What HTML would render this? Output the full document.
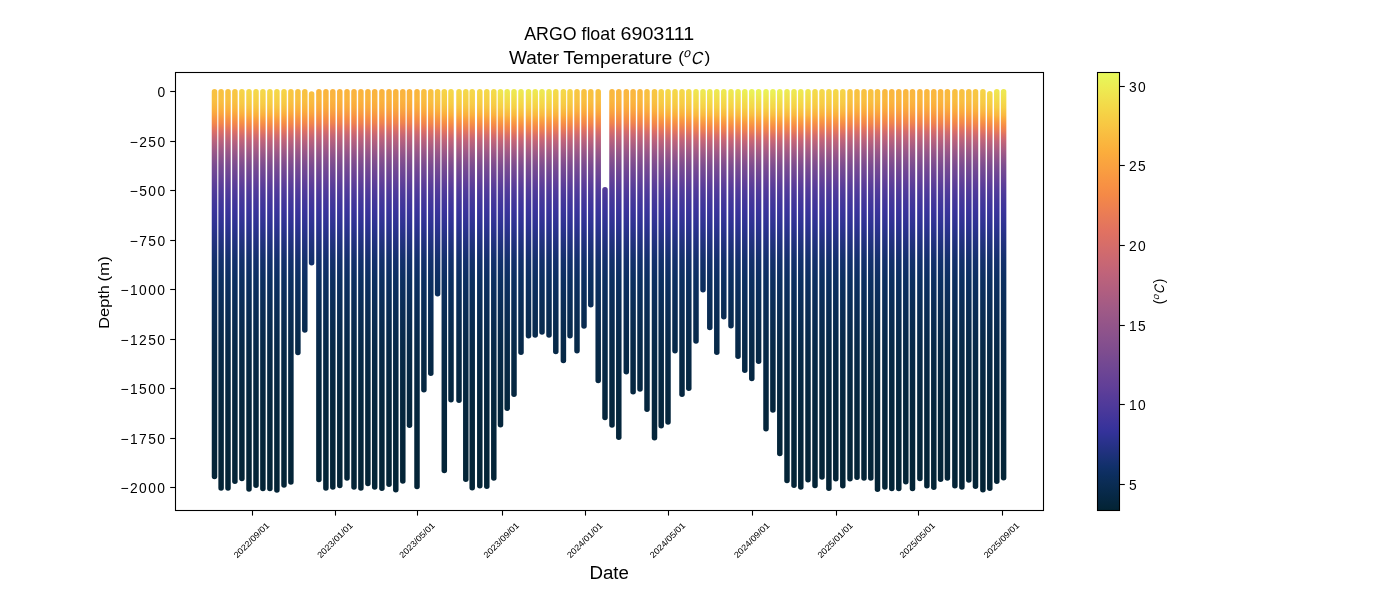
<!DOCTYPE html>
<html><head><meta charset="utf-8"><style>
html,body{margin:0;padding:0;background:#fff;width:1400px;height:600px;overflow:hidden}
svg{display:block;font-family:"Liberation Sans",sans-serif;will-change:transform}
</style></head><body>
<svg width="1400" height="600" viewBox="0 0 1400 600">
<rect width="1400" height="600" fill="#fff"/>
<defs><linearGradient id="g0" gradientUnits="userSpaceOnUse" x1="0" y1="85" x2="0" y2="500"><stop offset="0.015" stop-color="#f8c242"/><stop offset="0.025" stop-color="#f8c141"/><stop offset="0.035" stop-color="#f9c041"/><stop offset="0.044" stop-color="#f9bb40"/><stop offset="0.054" stop-color="#fab43e"/><stop offset="0.063" stop-color="#fbac3c"/><stop offset="0.073" stop-color="#f9a040"/><stop offset="0.082" stop-color="#f79343"/><stop offset="0.092" stop-color="#f3874a"/><stop offset="0.101" stop-color="#e97b56"/><stop offset="0.111" stop-color="#dd6f64"/><stop offset="0.123" stop-color="#ca6872"/><stop offset="0.135" stop-color="#b9627c"/><stop offset="0.147" stop-color="#aa5d82"/><stop offset="0.159" stop-color="#9c5887"/><stop offset="0.178" stop-color="#89518c"/><stop offset="0.197" stop-color="#784a91"/><stop offset="0.216" stop-color="#6c4595"/><stop offset="0.235" stop-color="#5f3f98"/><stop offset="0.254" stop-color="#523b9a"/><stop offset="0.278" stop-color="#45379a"/><stop offset="0.302" stop-color="#3b349b"/><stop offset="0.340" stop-color="#2d3291"/><stop offset="0.378" stop-color="#21317f"/><stop offset="0.421" stop-color="#14306d"/><stop offset="0.469" stop-color="#0c2f61"/><stop offset="0.540" stop-color="#0a2c55"/><stop offset="0.636" stop-color="#072948"/><stop offset="0.779" stop-color="#05263d"/><stop offset="0.969" stop-color="#042436"/><stop offset="1.065" stop-color="#032334"/></linearGradient><linearGradient id="g1" gradientUnits="userSpaceOnUse" x1="0" y1="85" x2="0" y2="500"><stop offset="0.015" stop-color="#f8c242"/><stop offset="0.025" stop-color="#f8c141"/><stop offset="0.035" stop-color="#f9c041"/><stop offset="0.044" stop-color="#f9bb40"/><stop offset="0.054" stop-color="#fab43e"/><stop offset="0.063" stop-color="#fbac3c"/><stop offset="0.073" stop-color="#f9a040"/><stop offset="0.082" stop-color="#f79343"/><stop offset="0.092" stop-color="#f3874a"/><stop offset="0.101" stop-color="#e97b56"/><stop offset="0.111" stop-color="#dd6f64"/><stop offset="0.123" stop-color="#ca6872"/><stop offset="0.135" stop-color="#b9627c"/><stop offset="0.147" stop-color="#aa5d82"/><stop offset="0.159" stop-color="#9c5887"/><stop offset="0.178" stop-color="#89518c"/><stop offset="0.197" stop-color="#784a91"/><stop offset="0.216" stop-color="#6c4595"/><stop offset="0.235" stop-color="#5f3f98"/><stop offset="0.254" stop-color="#523b9a"/><stop offset="0.278" stop-color="#45379a"/><stop offset="0.302" stop-color="#3b349b"/><stop offset="0.340" stop-color="#2d3291"/><stop offset="0.378" stop-color="#21317f"/><stop offset="0.421" stop-color="#14306d"/><stop offset="0.469" stop-color="#0c2f61"/><stop offset="0.540" stop-color="#0a2c55"/><stop offset="0.636" stop-color="#072948"/><stop offset="0.779" stop-color="#05263d"/><stop offset="0.969" stop-color="#042436"/><stop offset="1.065" stop-color="#032334"/></linearGradient><linearGradient id="g2" gradientUnits="userSpaceOnUse" x1="0" y1="85" x2="0" y2="500"><stop offset="0.015" stop-color="#f8c242"/><stop offset="0.025" stop-color="#f8c141"/><stop offset="0.035" stop-color="#f9c041"/><stop offset="0.044" stop-color="#f9bb40"/><stop offset="0.054" stop-color="#fab43e"/><stop offset="0.063" stop-color="#fbac3c"/><stop offset="0.073" stop-color="#f9a040"/><stop offset="0.082" stop-color="#f79343"/><stop offset="0.092" stop-color="#f3874a"/><stop offset="0.101" stop-color="#e97b56"/><stop offset="0.111" stop-color="#dd6f64"/><stop offset="0.123" stop-color="#ca6872"/><stop offset="0.135" stop-color="#b9627c"/><stop offset="0.147" stop-color="#aa5d82"/><stop offset="0.159" stop-color="#9c5887"/><stop offset="0.178" stop-color="#89518c"/><stop offset="0.197" stop-color="#784a91"/><stop offset="0.216" stop-color="#6c4595"/><stop offset="0.235" stop-color="#5f3f98"/><stop offset="0.254" stop-color="#523b9a"/><stop offset="0.278" stop-color="#45379a"/><stop offset="0.302" stop-color="#3b349b"/><stop offset="0.340" stop-color="#2d3291"/><stop offset="0.378" stop-color="#21317f"/><stop offset="0.421" stop-color="#14306d"/><stop offset="0.469" stop-color="#0c2f61"/><stop offset="0.540" stop-color="#0a2c55"/><stop offset="0.636" stop-color="#072948"/><stop offset="0.779" stop-color="#05263d"/><stop offset="0.969" stop-color="#042436"/><stop offset="1.065" stop-color="#032334"/></linearGradient><linearGradient id="g3" gradientUnits="userSpaceOnUse" x1="0" y1="85" x2="0" y2="500"><stop offset="0.015" stop-color="#f8c743"/><stop offset="0.025" stop-color="#f8c542"/><stop offset="0.035" stop-color="#f8c342"/><stop offset="0.044" stop-color="#f9be41"/><stop offset="0.054" stop-color="#fab73f"/><stop offset="0.063" stop-color="#fbaf3d"/><stop offset="0.073" stop-color="#f9a23f"/><stop offset="0.082" stop-color="#f79542"/><stop offset="0.092" stop-color="#f48848"/><stop offset="0.101" stop-color="#eb7d54"/><stop offset="0.111" stop-color="#df7063"/><stop offset="0.123" stop-color="#cb6871"/><stop offset="0.135" stop-color="#ba627c"/><stop offset="0.147" stop-color="#ab5d82"/><stop offset="0.159" stop-color="#9d5987"/><stop offset="0.178" stop-color="#8a518c"/><stop offset="0.197" stop-color="#794b91"/><stop offset="0.216" stop-color="#6c4594"/><stop offset="0.235" stop-color="#5f3f98"/><stop offset="0.254" stop-color="#523b9a"/><stop offset="0.278" stop-color="#45379a"/><stop offset="0.302" stop-color="#3b349b"/><stop offset="0.340" stop-color="#2d3291"/><stop offset="0.378" stop-color="#21317f"/><stop offset="0.421" stop-color="#14306d"/><stop offset="0.469" stop-color="#0c2f61"/><stop offset="0.540" stop-color="#0a2c55"/><stop offset="0.636" stop-color="#072948"/><stop offset="0.779" stop-color="#05263d"/><stop offset="0.969" stop-color="#042436"/><stop offset="1.065" stop-color="#032334"/></linearGradient><linearGradient id="g4" gradientUnits="userSpaceOnUse" x1="0" y1="85" x2="0" y2="500"><stop offset="0.015" stop-color="#f6d447"/><stop offset="0.025" stop-color="#f6d045"/><stop offset="0.035" stop-color="#f7cd44"/><stop offset="0.044" stop-color="#f7c943"/><stop offset="0.054" stop-color="#f8c141"/><stop offset="0.063" stop-color="#fab83f"/><stop offset="0.073" stop-color="#fbab3d"/><stop offset="0.082" stop-color="#f99c40"/><stop offset="0.092" stop-color="#f68d44"/><stop offset="0.101" stop-color="#ee814f"/><stop offset="0.111" stop-color="#e4745e"/><stop offset="0.123" stop-color="#d06a6e"/><stop offset="0.135" stop-color="#be637a"/><stop offset="0.147" stop-color="#af5e80"/><stop offset="0.159" stop-color="#a05a86"/><stop offset="0.178" stop-color="#8c528c"/><stop offset="0.197" stop-color="#7a4b90"/><stop offset="0.216" stop-color="#6d4594"/><stop offset="0.235" stop-color="#603f98"/><stop offset="0.254" stop-color="#523b9a"/><stop offset="0.278" stop-color="#45379a"/><stop offset="0.302" stop-color="#3b349b"/><stop offset="0.340" stop-color="#2d3291"/><stop offset="0.378" stop-color="#21317f"/><stop offset="0.421" stop-color="#14306d"/><stop offset="0.469" stop-color="#0c2f61"/><stop offset="0.540" stop-color="#0a2c55"/><stop offset="0.636" stop-color="#072948"/><stop offset="0.779" stop-color="#05263d"/><stop offset="0.969" stop-color="#042436"/><stop offset="1.065" stop-color="#032334"/></linearGradient><linearGradient id="g5" gradientUnits="userSpaceOnUse" x1="0" y1="85" x2="0" y2="500"><stop offset="0.015" stop-color="#f4d849"/><stop offset="0.025" stop-color="#f6d447"/><stop offset="0.035" stop-color="#f6d045"/><stop offset="0.044" stop-color="#f7cc44"/><stop offset="0.054" stop-color="#f8c442"/><stop offset="0.063" stop-color="#f9ba3f"/><stop offset="0.073" stop-color="#fbae3c"/><stop offset="0.082" stop-color="#f99e40"/><stop offset="0.092" stop-color="#f78f44"/><stop offset="0.101" stop-color="#ef834e"/><stop offset="0.111" stop-color="#e5765c"/><stop offset="0.123" stop-color="#d26b6d"/><stop offset="0.135" stop-color="#bf637a"/><stop offset="0.147" stop-color="#b05f80"/><stop offset="0.159" stop-color="#a15a86"/><stop offset="0.178" stop-color="#8c528b"/><stop offset="0.197" stop-color="#7a4b90"/><stop offset="0.216" stop-color="#6d4594"/><stop offset="0.235" stop-color="#603f98"/><stop offset="0.254" stop-color="#523b9a"/><stop offset="0.278" stop-color="#45379a"/><stop offset="0.302" stop-color="#3b349b"/><stop offset="0.340" stop-color="#2d3291"/><stop offset="0.378" stop-color="#21317f"/><stop offset="0.421" stop-color="#14306d"/><stop offset="0.469" stop-color="#0c2f61"/><stop offset="0.540" stop-color="#0a2c55"/><stop offset="0.636" stop-color="#072948"/><stop offset="0.779" stop-color="#05263d"/><stop offset="0.969" stop-color="#042436"/><stop offset="1.065" stop-color="#032334"/></linearGradient><linearGradient id="g6" gradientUnits="userSpaceOnUse" x1="0" y1="85" x2="0" y2="500"><stop offset="0.015" stop-color="#f4d849"/><stop offset="0.025" stop-color="#f6d447"/><stop offset="0.035" stop-color="#f6d045"/><stop offset="0.044" stop-color="#f7cc44"/><stop offset="0.054" stop-color="#f8c442"/><stop offset="0.063" stop-color="#f9ba3f"/><stop offset="0.073" stop-color="#fbae3c"/><stop offset="0.082" stop-color="#f99e40"/><stop offset="0.092" stop-color="#f78f44"/><stop offset="0.101" stop-color="#ef834e"/><stop offset="0.111" stop-color="#e5765c"/><stop offset="0.123" stop-color="#d26b6d"/><stop offset="0.135" stop-color="#bf637a"/><stop offset="0.147" stop-color="#b05f80"/><stop offset="0.159" stop-color="#a15a86"/><stop offset="0.178" stop-color="#8c528b"/><stop offset="0.197" stop-color="#7a4b90"/><stop offset="0.216" stop-color="#6d4594"/><stop offset="0.235" stop-color="#603f98"/><stop offset="0.254" stop-color="#523b9a"/><stop offset="0.278" stop-color="#45379a"/><stop offset="0.302" stop-color="#3b349b"/><stop offset="0.340" stop-color="#2d3291"/><stop offset="0.378" stop-color="#21317f"/><stop offset="0.421" stop-color="#14306d"/><stop offset="0.469" stop-color="#0c2f61"/><stop offset="0.540" stop-color="#0a2c55"/><stop offset="0.636" stop-color="#072948"/><stop offset="0.779" stop-color="#05263d"/><stop offset="0.969" stop-color="#042436"/><stop offset="1.065" stop-color="#032334"/></linearGradient><linearGradient id="g7" gradientUnits="userSpaceOnUse" x1="0" y1="85" x2="0" y2="500"><stop offset="0.015" stop-color="#f4d849"/><stop offset="0.025" stop-color="#f6d447"/><stop offset="0.035" stop-color="#f6d045"/><stop offset="0.044" stop-color="#f7cc44"/><stop offset="0.054" stop-color="#f8c442"/><stop offset="0.063" stop-color="#f9ba3f"/><stop offset="0.073" stop-color="#fbae3c"/><stop offset="0.082" stop-color="#f99e40"/><stop offset="0.092" stop-color="#f78f44"/><stop offset="0.101" stop-color="#ef834e"/><stop offset="0.111" stop-color="#e5765c"/><stop offset="0.123" stop-color="#d26b6d"/><stop offset="0.135" stop-color="#bf637a"/><stop offset="0.147" stop-color="#b05f80"/><stop offset="0.159" stop-color="#a15a86"/><stop offset="0.178" stop-color="#8c528b"/><stop offset="0.197" stop-color="#7a4b90"/><stop offset="0.216" stop-color="#6d4594"/><stop offset="0.235" stop-color="#603f98"/><stop offset="0.254" stop-color="#523b9a"/><stop offset="0.278" stop-color="#45379a"/><stop offset="0.302" stop-color="#3b349b"/><stop offset="0.340" stop-color="#2d3291"/><stop offset="0.378" stop-color="#21317f"/><stop offset="0.421" stop-color="#14306d"/><stop offset="0.469" stop-color="#0c2f61"/><stop offset="0.540" stop-color="#0a2c55"/><stop offset="0.636" stop-color="#072948"/><stop offset="0.779" stop-color="#05263d"/><stop offset="0.969" stop-color="#042436"/><stop offset="1.065" stop-color="#032334"/></linearGradient><linearGradient id="g8" gradientUnits="userSpaceOnUse" x1="0" y1="85" x2="0" y2="500"><stop offset="0.015" stop-color="#f4d849"/><stop offset="0.025" stop-color="#f6d447"/><stop offset="0.035" stop-color="#f6d045"/><stop offset="0.044" stop-color="#f7cc44"/><stop offset="0.054" stop-color="#f8c442"/><stop offset="0.063" stop-color="#f9ba3f"/><stop offset="0.073" stop-color="#fbae3c"/><stop offset="0.082" stop-color="#f99e40"/><stop offset="0.092" stop-color="#f78f44"/><stop offset="0.101" stop-color="#ef834e"/><stop offset="0.111" stop-color="#e5765c"/><stop offset="0.123" stop-color="#d26b6d"/><stop offset="0.135" stop-color="#bf637a"/><stop offset="0.147" stop-color="#b05f80"/><stop offset="0.159" stop-color="#a15a86"/><stop offset="0.178" stop-color="#8c528b"/><stop offset="0.197" stop-color="#7a4b90"/><stop offset="0.216" stop-color="#6d4594"/><stop offset="0.235" stop-color="#603f98"/><stop offset="0.254" stop-color="#523b9a"/><stop offset="0.278" stop-color="#45379a"/><stop offset="0.302" stop-color="#3b349b"/><stop offset="0.340" stop-color="#2d3291"/><stop offset="0.378" stop-color="#21317f"/><stop offset="0.421" stop-color="#14306d"/><stop offset="0.469" stop-color="#0c2f61"/><stop offset="0.540" stop-color="#0a2c55"/><stop offset="0.636" stop-color="#072948"/><stop offset="0.779" stop-color="#05263d"/><stop offset="0.969" stop-color="#042436"/><stop offset="1.065" stop-color="#032334"/></linearGradient><linearGradient id="g9" gradientUnits="userSpaceOnUse" x1="0" y1="85" x2="0" y2="500"><stop offset="0.015" stop-color="#f4d849"/><stop offset="0.025" stop-color="#f6d447"/><stop offset="0.035" stop-color="#f6d045"/><stop offset="0.044" stop-color="#f7cc44"/><stop offset="0.054" stop-color="#f8c442"/><stop offset="0.063" stop-color="#f9ba3f"/><stop offset="0.073" stop-color="#fbae3c"/><stop offset="0.082" stop-color="#f99e40"/><stop offset="0.092" stop-color="#f78f44"/><stop offset="0.101" stop-color="#ef834e"/><stop offset="0.111" stop-color="#e5765c"/><stop offset="0.123" stop-color="#d26b6d"/><stop offset="0.135" stop-color="#bf637a"/><stop offset="0.147" stop-color="#b05f80"/><stop offset="0.159" stop-color="#a15a86"/><stop offset="0.178" stop-color="#8c528b"/><stop offset="0.197" stop-color="#7a4b90"/><stop offset="0.216" stop-color="#6d4594"/><stop offset="0.235" stop-color="#603f98"/><stop offset="0.254" stop-color="#523b9a"/><stop offset="0.278" stop-color="#45379a"/><stop offset="0.302" stop-color="#3b349b"/><stop offset="0.340" stop-color="#2d3291"/><stop offset="0.378" stop-color="#21317f"/><stop offset="0.421" stop-color="#14306d"/><stop offset="0.469" stop-color="#0c2f61"/><stop offset="0.540" stop-color="#0a2c55"/><stop offset="0.636" stop-color="#072948"/><stop offset="0.779" stop-color="#05263d"/><stop offset="0.969" stop-color="#042436"/><stop offset="1.065" stop-color="#032334"/></linearGradient><linearGradient id="g10" gradientUnits="userSpaceOnUse" x1="0" y1="85" x2="0" y2="500"><stop offset="0.015" stop-color="#f6d447"/><stop offset="0.025" stop-color="#f6d045"/><stop offset="0.035" stop-color="#f7cd44"/><stop offset="0.044" stop-color="#f7c943"/><stop offset="0.054" stop-color="#f8c141"/><stop offset="0.063" stop-color="#fab83f"/><stop offset="0.073" stop-color="#fbab3d"/><stop offset="0.082" stop-color="#f99c40"/><stop offset="0.092" stop-color="#f68d44"/><stop offset="0.101" stop-color="#ee814f"/><stop offset="0.111" stop-color="#e4745e"/><stop offset="0.123" stop-color="#d06a6e"/><stop offset="0.135" stop-color="#be637a"/><stop offset="0.147" stop-color="#af5e80"/><stop offset="0.159" stop-color="#a05a86"/><stop offset="0.178" stop-color="#8c528c"/><stop offset="0.197" stop-color="#7a4b90"/><stop offset="0.216" stop-color="#6d4594"/><stop offset="0.235" stop-color="#603f98"/><stop offset="0.254" stop-color="#523b9a"/><stop offset="0.278" stop-color="#45379a"/><stop offset="0.302" stop-color="#3b349b"/><stop offset="0.340" stop-color="#2d3291"/><stop offset="0.378" stop-color="#21317f"/><stop offset="0.421" stop-color="#14306d"/><stop offset="0.469" stop-color="#0c2f61"/><stop offset="0.540" stop-color="#0a2c55"/><stop offset="0.636" stop-color="#072948"/><stop offset="0.779" stop-color="#05263d"/><stop offset="0.969" stop-color="#042436"/><stop offset="1.065" stop-color="#032334"/></linearGradient><linearGradient id="g11" gradientUnits="userSpaceOnUse" x1="0" y1="85" x2="0" y2="500"><stop offset="0.015" stop-color="#f8c743"/><stop offset="0.025" stop-color="#f8c542"/><stop offset="0.035" stop-color="#f8c342"/><stop offset="0.044" stop-color="#f9be41"/><stop offset="0.054" stop-color="#fab73f"/><stop offset="0.063" stop-color="#fbaf3d"/><stop offset="0.073" stop-color="#f9a23f"/><stop offset="0.082" stop-color="#f79542"/><stop offset="0.092" stop-color="#f48848"/><stop offset="0.101" stop-color="#eb7d54"/><stop offset="0.111" stop-color="#df7063"/><stop offset="0.123" stop-color="#cb6871"/><stop offset="0.135" stop-color="#ba627c"/><stop offset="0.147" stop-color="#ab5d82"/><stop offset="0.159" stop-color="#9d5987"/><stop offset="0.178" stop-color="#8a518c"/><stop offset="0.197" stop-color="#794b91"/><stop offset="0.216" stop-color="#6c4594"/><stop offset="0.235" stop-color="#5f3f98"/><stop offset="0.254" stop-color="#523b9a"/><stop offset="0.278" stop-color="#45379a"/><stop offset="0.302" stop-color="#3b349b"/><stop offset="0.340" stop-color="#2d3291"/><stop offset="0.378" stop-color="#21317f"/><stop offset="0.421" stop-color="#14306d"/><stop offset="0.469" stop-color="#0c2f61"/><stop offset="0.540" stop-color="#0a2c55"/><stop offset="0.636" stop-color="#072948"/><stop offset="0.779" stop-color="#05263d"/><stop offset="0.969" stop-color="#042436"/><stop offset="1.065" stop-color="#032334"/></linearGradient><linearGradient id="g12" gradientUnits="userSpaceOnUse" x1="0" y1="85" x2="0" y2="500"><stop offset="0.015" stop-color="#f8c242"/><stop offset="0.025" stop-color="#f8c141"/><stop offset="0.035" stop-color="#f9c041"/><stop offset="0.044" stop-color="#f9bb40"/><stop offset="0.054" stop-color="#fab43e"/><stop offset="0.063" stop-color="#fbac3c"/><stop offset="0.073" stop-color="#f9a040"/><stop offset="0.082" stop-color="#f79343"/><stop offset="0.092" stop-color="#f3874a"/><stop offset="0.101" stop-color="#e97b56"/><stop offset="0.111" stop-color="#dd6f64"/><stop offset="0.123" stop-color="#ca6872"/><stop offset="0.135" stop-color="#b9627c"/><stop offset="0.147" stop-color="#aa5d82"/><stop offset="0.159" stop-color="#9c5887"/><stop offset="0.178" stop-color="#89518c"/><stop offset="0.197" stop-color="#784a91"/><stop offset="0.216" stop-color="#6c4595"/><stop offset="0.235" stop-color="#5f3f98"/><stop offset="0.254" stop-color="#523b9a"/><stop offset="0.278" stop-color="#45379a"/><stop offset="0.302" stop-color="#3b349b"/><stop offset="0.340" stop-color="#2d3291"/><stop offset="0.378" stop-color="#21317f"/><stop offset="0.421" stop-color="#14306d"/><stop offset="0.469" stop-color="#0c2f61"/><stop offset="0.540" stop-color="#0a2c55"/><stop offset="0.636" stop-color="#072948"/><stop offset="0.779" stop-color="#05263d"/><stop offset="0.969" stop-color="#042436"/><stop offset="1.065" stop-color="#032334"/></linearGradient><linearGradient id="g13" gradientUnits="userSpaceOnUse" x1="0" y1="85" x2="0" y2="500"><stop offset="0.015" stop-color="#f8c242"/><stop offset="0.025" stop-color="#f8c141"/><stop offset="0.035" stop-color="#f9c041"/><stop offset="0.044" stop-color="#f9bb40"/><stop offset="0.054" stop-color="#fab43e"/><stop offset="0.063" stop-color="#fbac3c"/><stop offset="0.073" stop-color="#f9a040"/><stop offset="0.082" stop-color="#f79343"/><stop offset="0.092" stop-color="#f3874a"/><stop offset="0.101" stop-color="#e97b56"/><stop offset="0.111" stop-color="#dd6f64"/><stop offset="0.123" stop-color="#ca6872"/><stop offset="0.135" stop-color="#b9627c"/><stop offset="0.147" stop-color="#aa5d82"/><stop offset="0.159" stop-color="#9c5887"/><stop offset="0.178" stop-color="#89518c"/><stop offset="0.197" stop-color="#784a91"/><stop offset="0.216" stop-color="#6c4595"/><stop offset="0.235" stop-color="#5f3f98"/><stop offset="0.254" stop-color="#523b9a"/><stop offset="0.278" stop-color="#45379a"/><stop offset="0.302" stop-color="#3b349b"/><stop offset="0.340" stop-color="#2d3291"/><stop offset="0.378" stop-color="#21317f"/><stop offset="0.421" stop-color="#14306d"/><stop offset="0.469" stop-color="#0c2f61"/><stop offset="0.540" stop-color="#0a2c55"/><stop offset="0.636" stop-color="#072948"/><stop offset="0.779" stop-color="#05263d"/><stop offset="0.969" stop-color="#042436"/><stop offset="1.065" stop-color="#032334"/></linearGradient><linearGradient id="g14" gradientUnits="userSpaceOnUse" x1="0" y1="85" x2="0" y2="500"><stop offset="0.015" stop-color="#f9c041"/><stop offset="0.025" stop-color="#f9bf41"/><stop offset="0.035" stop-color="#f9bd40"/><stop offset="0.044" stop-color="#fab83f"/><stop offset="0.054" stop-color="#fab23d"/><stop offset="0.063" stop-color="#fbaa3d"/><stop offset="0.073" stop-color="#f99e40"/><stop offset="0.082" stop-color="#f79143"/><stop offset="0.092" stop-color="#f2864b"/><stop offset="0.101" stop-color="#e97a57"/><stop offset="0.111" stop-color="#dc6f65"/><stop offset="0.123" stop-color="#c96773"/><stop offset="0.135" stop-color="#b8617c"/><stop offset="0.147" stop-color="#aa5d82"/><stop offset="0.159" stop-color="#9c5888"/><stop offset="0.178" stop-color="#89518c"/><stop offset="0.197" stop-color="#784a91"/><stop offset="0.216" stop-color="#6c4595"/><stop offset="0.235" stop-color="#5f3f98"/><stop offset="0.254" stop-color="#523b9a"/><stop offset="0.278" stop-color="#45379a"/><stop offset="0.302" stop-color="#3b349b"/><stop offset="0.340" stop-color="#2d3291"/><stop offset="0.378" stop-color="#21317f"/><stop offset="0.421" stop-color="#14306d"/><stop offset="0.469" stop-color="#0c2f61"/><stop offset="0.540" stop-color="#0a2c55"/><stop offset="0.636" stop-color="#072948"/><stop offset="0.779" stop-color="#05263d"/><stop offset="0.969" stop-color="#042436"/><stop offset="1.065" stop-color="#032334"/></linearGradient><linearGradient id="g15" gradientUnits="userSpaceOnUse" x1="0" y1="85" x2="0" y2="500"><stop offset="0.015" stop-color="#fab63e"/><stop offset="0.025" stop-color="#fab63e"/><stop offset="0.035" stop-color="#fab63e"/><stop offset="0.044" stop-color="#fbb03d"/><stop offset="0.054" stop-color="#fbab3c"/><stop offset="0.063" stop-color="#f9a33f"/><stop offset="0.073" stop-color="#f89842"/><stop offset="0.082" stop-color="#f68d45"/><stop offset="0.092" stop-color="#ef834e"/><stop offset="0.101" stop-color="#e5775b"/><stop offset="0.111" stop-color="#d76d68"/><stop offset="0.123" stop-color="#c56676"/><stop offset="0.135" stop-color="#b6617d"/><stop offset="0.147" stop-color="#a75c83"/><stop offset="0.159" stop-color="#9a5888"/><stop offset="0.178" stop-color="#88518d"/><stop offset="0.197" stop-color="#784a91"/><stop offset="0.216" stop-color="#6b4495"/><stop offset="0.235" stop-color="#5f3f98"/><stop offset="0.254" stop-color="#523b9a"/><stop offset="0.278" stop-color="#45379a"/><stop offset="0.302" stop-color="#3b349b"/><stop offset="0.340" stop-color="#2d3291"/><stop offset="0.378" stop-color="#21317f"/><stop offset="0.421" stop-color="#14306d"/><stop offset="0.469" stop-color="#0c2f61"/><stop offset="0.540" stop-color="#0a2c55"/><stop offset="0.636" stop-color="#072948"/><stop offset="0.779" stop-color="#05263d"/><stop offset="0.969" stop-color="#042436"/><stop offset="1.065" stop-color="#032334"/></linearGradient><linearGradient id="g16" gradientUnits="userSpaceOnUse" x1="0" y1="85" x2="0" y2="500"><stop offset="0.015" stop-color="#fab43e"/><stop offset="0.025" stop-color="#fab43e"/><stop offset="0.035" stop-color="#fab33e"/><stop offset="0.044" stop-color="#fbae3c"/><stop offset="0.054" stop-color="#faa93d"/><stop offset="0.063" stop-color="#f9a13f"/><stop offset="0.073" stop-color="#f89642"/><stop offset="0.082" stop-color="#f68b45"/><stop offset="0.092" stop-color="#ee824f"/><stop offset="0.101" stop-color="#e5755c"/><stop offset="0.111" stop-color="#d66d69"/><stop offset="0.123" stop-color="#c46576"/><stop offset="0.135" stop-color="#b5607e"/><stop offset="0.147" stop-color="#a75c83"/><stop offset="0.159" stop-color="#9a5788"/><stop offset="0.178" stop-color="#87508d"/><stop offset="0.197" stop-color="#774a91"/><stop offset="0.216" stop-color="#6b4495"/><stop offset="0.235" stop-color="#5f3f98"/><stop offset="0.254" stop-color="#523b9a"/><stop offset="0.278" stop-color="#45379a"/><stop offset="0.302" stop-color="#3b349b"/><stop offset="0.340" stop-color="#2d3291"/><stop offset="0.378" stop-color="#21317f"/><stop offset="0.421" stop-color="#14306d"/><stop offset="0.469" stop-color="#0c2f61"/><stop offset="0.540" stop-color="#0a2c55"/><stop offset="0.636" stop-color="#072948"/><stop offset="0.779" stop-color="#05263d"/><stop offset="0.969" stop-color="#042436"/><stop offset="1.065" stop-color="#032334"/></linearGradient><linearGradient id="g17" gradientUnits="userSpaceOnUse" x1="0" y1="85" x2="0" y2="500"><stop offset="0.015" stop-color="#fab43e"/><stop offset="0.025" stop-color="#fab43e"/><stop offset="0.035" stop-color="#fab33e"/><stop offset="0.044" stop-color="#fbae3c"/><stop offset="0.054" stop-color="#faa93d"/><stop offset="0.063" stop-color="#f9a13f"/><stop offset="0.073" stop-color="#f89642"/><stop offset="0.082" stop-color="#f68b45"/><stop offset="0.092" stop-color="#ee824f"/><stop offset="0.101" stop-color="#e5755c"/><stop offset="0.111" stop-color="#d66d69"/><stop offset="0.123" stop-color="#c46576"/><stop offset="0.135" stop-color="#b5607e"/><stop offset="0.147" stop-color="#a75c83"/><stop offset="0.159" stop-color="#9a5788"/><stop offset="0.178" stop-color="#87508d"/><stop offset="0.197" stop-color="#774a91"/><stop offset="0.216" stop-color="#6b4495"/><stop offset="0.235" stop-color="#5f3f98"/><stop offset="0.254" stop-color="#523b9a"/><stop offset="0.278" stop-color="#45379a"/><stop offset="0.302" stop-color="#3b349b"/><stop offset="0.340" stop-color="#2d3291"/><stop offset="0.378" stop-color="#21317f"/><stop offset="0.421" stop-color="#14306d"/><stop offset="0.469" stop-color="#0c2f61"/><stop offset="0.540" stop-color="#0a2c55"/><stop offset="0.636" stop-color="#072948"/><stop offset="0.779" stop-color="#05263d"/><stop offset="0.969" stop-color="#042436"/><stop offset="1.065" stop-color="#032334"/></linearGradient><linearGradient id="g18" gradientUnits="userSpaceOnUse" x1="0" y1="85" x2="0" y2="500"><stop offset="0.015" stop-color="#fab43e"/><stop offset="0.025" stop-color="#fab43e"/><stop offset="0.035" stop-color="#fab33e"/><stop offset="0.044" stop-color="#fbae3c"/><stop offset="0.054" stop-color="#faa93d"/><stop offset="0.063" stop-color="#f9a13f"/><stop offset="0.073" stop-color="#f89642"/><stop offset="0.082" stop-color="#f68b45"/><stop offset="0.092" stop-color="#ee824f"/><stop offset="0.101" stop-color="#e5755c"/><stop offset="0.111" stop-color="#d66d69"/><stop offset="0.123" stop-color="#c46576"/><stop offset="0.135" stop-color="#b5607e"/><stop offset="0.147" stop-color="#a75c83"/><stop offset="0.159" stop-color="#9a5788"/><stop offset="0.178" stop-color="#87508d"/><stop offset="0.197" stop-color="#774a91"/><stop offset="0.216" stop-color="#6b4495"/><stop offset="0.235" stop-color="#5f3f98"/><stop offset="0.254" stop-color="#523b9a"/><stop offset="0.278" stop-color="#45379a"/><stop offset="0.302" stop-color="#3b349b"/><stop offset="0.340" stop-color="#2d3291"/><stop offset="0.378" stop-color="#21317f"/><stop offset="0.421" stop-color="#14306d"/><stop offset="0.469" stop-color="#0c2f61"/><stop offset="0.540" stop-color="#0a2c55"/><stop offset="0.636" stop-color="#072948"/><stop offset="0.779" stop-color="#05263d"/><stop offset="0.969" stop-color="#042436"/><stop offset="1.065" stop-color="#032334"/></linearGradient><linearGradient id="g19" gradientUnits="userSpaceOnUse" x1="0" y1="85" x2="0" y2="500"><stop offset="0.015" stop-color="#fab43e"/><stop offset="0.025" stop-color="#fab43e"/><stop offset="0.035" stop-color="#fab33e"/><stop offset="0.044" stop-color="#fbae3c"/><stop offset="0.054" stop-color="#faa93d"/><stop offset="0.063" stop-color="#f9a13f"/><stop offset="0.073" stop-color="#f89642"/><stop offset="0.082" stop-color="#f68b45"/><stop offset="0.092" stop-color="#ee824f"/><stop offset="0.101" stop-color="#e5755c"/><stop offset="0.111" stop-color="#d66d69"/><stop offset="0.123" stop-color="#c46576"/><stop offset="0.135" stop-color="#b5607e"/><stop offset="0.147" stop-color="#a75c83"/><stop offset="0.159" stop-color="#9a5788"/><stop offset="0.178" stop-color="#87508d"/><stop offset="0.197" stop-color="#774a91"/><stop offset="0.216" stop-color="#6b4495"/><stop offset="0.235" stop-color="#5f3f98"/><stop offset="0.254" stop-color="#523b9a"/><stop offset="0.278" stop-color="#45379a"/><stop offset="0.302" stop-color="#3b349b"/><stop offset="0.340" stop-color="#2d3291"/><stop offset="0.378" stop-color="#21317f"/><stop offset="0.421" stop-color="#14306d"/><stop offset="0.469" stop-color="#0c2f61"/><stop offset="0.540" stop-color="#0a2c55"/><stop offset="0.636" stop-color="#072948"/><stop offset="0.779" stop-color="#05263d"/><stop offset="0.969" stop-color="#042436"/><stop offset="1.065" stop-color="#032334"/></linearGradient><linearGradient id="g20" gradientUnits="userSpaceOnUse" x1="0" y1="85" x2="0" y2="500"><stop offset="0.015" stop-color="#fab43e"/><stop offset="0.025" stop-color="#fab43e"/><stop offset="0.035" stop-color="#fab33e"/><stop offset="0.044" stop-color="#fbae3c"/><stop offset="0.054" stop-color="#faa93d"/><stop offset="0.063" stop-color="#f9a13f"/><stop offset="0.073" stop-color="#f89642"/><stop offset="0.082" stop-color="#f68b45"/><stop offset="0.092" stop-color="#ee824f"/><stop offset="0.101" stop-color="#e5755c"/><stop offset="0.111" stop-color="#d66d69"/><stop offset="0.123" stop-color="#c46576"/><stop offset="0.135" stop-color="#b5607e"/><stop offset="0.147" stop-color="#a75c83"/><stop offset="0.159" stop-color="#9a5788"/><stop offset="0.178" stop-color="#87508d"/><stop offset="0.197" stop-color="#774a91"/><stop offset="0.216" stop-color="#6b4495"/><stop offset="0.235" stop-color="#5f3f98"/><stop offset="0.254" stop-color="#523b9a"/><stop offset="0.278" stop-color="#45379a"/><stop offset="0.302" stop-color="#3b349b"/><stop offset="0.340" stop-color="#2d3291"/><stop offset="0.378" stop-color="#21317f"/><stop offset="0.421" stop-color="#14306d"/><stop offset="0.469" stop-color="#0c2f61"/><stop offset="0.540" stop-color="#0a2c55"/><stop offset="0.636" stop-color="#072948"/><stop offset="0.779" stop-color="#05263d"/><stop offset="0.969" stop-color="#042436"/><stop offset="1.065" stop-color="#032334"/></linearGradient><linearGradient id="g21" gradientUnits="userSpaceOnUse" x1="0" y1="85" x2="0" y2="500"><stop offset="0.015" stop-color="#fab43e"/><stop offset="0.025" stop-color="#fab43e"/><stop offset="0.035" stop-color="#fab33e"/><stop offset="0.044" stop-color="#fbae3c"/><stop offset="0.054" stop-color="#faa93d"/><stop offset="0.063" stop-color="#f9a13f"/><stop offset="0.073" stop-color="#f89642"/><stop offset="0.082" stop-color="#f68b45"/><stop offset="0.092" stop-color="#ee824f"/><stop offset="0.101" stop-color="#e5755c"/><stop offset="0.111" stop-color="#d66d69"/><stop offset="0.123" stop-color="#c46576"/><stop offset="0.135" stop-color="#b5607e"/><stop offset="0.147" stop-color="#a75c83"/><stop offset="0.159" stop-color="#9a5788"/><stop offset="0.178" stop-color="#87508d"/><stop offset="0.197" stop-color="#774a91"/><stop offset="0.216" stop-color="#6b4495"/><stop offset="0.235" stop-color="#5f3f98"/><stop offset="0.254" stop-color="#523b9a"/><stop offset="0.278" stop-color="#45379a"/><stop offset="0.302" stop-color="#3b349b"/><stop offset="0.340" stop-color="#2d3291"/><stop offset="0.378" stop-color="#21317f"/><stop offset="0.421" stop-color="#14306d"/><stop offset="0.469" stop-color="#0c2f61"/><stop offset="0.540" stop-color="#0a2c55"/><stop offset="0.636" stop-color="#072948"/><stop offset="0.779" stop-color="#05263d"/><stop offset="0.969" stop-color="#042436"/><stop offset="1.065" stop-color="#032334"/></linearGradient><linearGradient id="g22" gradientUnits="userSpaceOnUse" x1="0" y1="85" x2="0" y2="500"><stop offset="0.015" stop-color="#fab43e"/><stop offset="0.025" stop-color="#fab43e"/><stop offset="0.035" stop-color="#fab33e"/><stop offset="0.044" stop-color="#fbae3c"/><stop offset="0.054" stop-color="#faa93d"/><stop offset="0.063" stop-color="#f9a13f"/><stop offset="0.073" stop-color="#f89642"/><stop offset="0.082" stop-color="#f68b45"/><stop offset="0.092" stop-color="#ee824f"/><stop offset="0.101" stop-color="#e5755c"/><stop offset="0.111" stop-color="#d66d69"/><stop offset="0.123" stop-color="#c46576"/><stop offset="0.135" stop-color="#b5607e"/><stop offset="0.147" stop-color="#a75c83"/><stop offset="0.159" stop-color="#9a5788"/><stop offset="0.178" stop-color="#87508d"/><stop offset="0.197" stop-color="#774a91"/><stop offset="0.216" stop-color="#6b4495"/><stop offset="0.235" stop-color="#5f3f98"/><stop offset="0.254" stop-color="#523b9a"/><stop offset="0.278" stop-color="#45379a"/><stop offset="0.302" stop-color="#3b349b"/><stop offset="0.340" stop-color="#2d3291"/><stop offset="0.378" stop-color="#21317f"/><stop offset="0.421" stop-color="#14306d"/><stop offset="0.469" stop-color="#0c2f61"/><stop offset="0.540" stop-color="#0a2c55"/><stop offset="0.636" stop-color="#072948"/><stop offset="0.779" stop-color="#05263d"/><stop offset="0.969" stop-color="#042436"/><stop offset="1.065" stop-color="#032334"/></linearGradient><linearGradient id="g23" gradientUnits="userSpaceOnUse" x1="0" y1="85" x2="0" y2="500"><stop offset="0.015" stop-color="#fab43e"/><stop offset="0.025" stop-color="#fab43e"/><stop offset="0.035" stop-color="#fab33e"/><stop offset="0.044" stop-color="#fbae3c"/><stop offset="0.054" stop-color="#faa93d"/><stop offset="0.063" stop-color="#f9a13f"/><stop offset="0.073" stop-color="#f89642"/><stop offset="0.082" stop-color="#f68b45"/><stop offset="0.092" stop-color="#ee824f"/><stop offset="0.101" stop-color="#e5755c"/><stop offset="0.111" stop-color="#d66d69"/><stop offset="0.123" stop-color="#c46576"/><stop offset="0.135" stop-color="#b5607e"/><stop offset="0.147" stop-color="#a75c83"/><stop offset="0.159" stop-color="#9a5788"/><stop offset="0.178" stop-color="#87508d"/><stop offset="0.197" stop-color="#774a91"/><stop offset="0.216" stop-color="#6b4495"/><stop offset="0.235" stop-color="#5f3f98"/><stop offset="0.254" stop-color="#523b9a"/><stop offset="0.278" stop-color="#45379a"/><stop offset="0.302" stop-color="#3b349b"/><stop offset="0.340" stop-color="#2d3291"/><stop offset="0.378" stop-color="#21317f"/><stop offset="0.421" stop-color="#14306d"/><stop offset="0.469" stop-color="#0c2f61"/><stop offset="0.540" stop-color="#0a2c55"/><stop offset="0.636" stop-color="#072948"/><stop offset="0.779" stop-color="#05263d"/><stop offset="0.969" stop-color="#042436"/><stop offset="1.065" stop-color="#032334"/></linearGradient><linearGradient id="g24" gradientUnits="userSpaceOnUse" x1="0" y1="85" x2="0" y2="500"><stop offset="0.015" stop-color="#fab43e"/><stop offset="0.025" stop-color="#fab43e"/><stop offset="0.035" stop-color="#fab33e"/><stop offset="0.044" stop-color="#fbae3c"/><stop offset="0.054" stop-color="#faa93d"/><stop offset="0.063" stop-color="#f9a13f"/><stop offset="0.073" stop-color="#f89642"/><stop offset="0.082" stop-color="#f68b45"/><stop offset="0.092" stop-color="#ee824f"/><stop offset="0.101" stop-color="#e5755c"/><stop offset="0.111" stop-color="#d66d69"/><stop offset="0.123" stop-color="#c46576"/><stop offset="0.135" stop-color="#b5607e"/><stop offset="0.147" stop-color="#a75c83"/><stop offset="0.159" stop-color="#9a5788"/><stop offset="0.178" stop-color="#87508d"/><stop offset="0.197" stop-color="#774a91"/><stop offset="0.216" stop-color="#6b4495"/><stop offset="0.235" stop-color="#5f3f98"/><stop offset="0.254" stop-color="#523b9a"/><stop offset="0.278" stop-color="#45379a"/><stop offset="0.302" stop-color="#3b349b"/><stop offset="0.340" stop-color="#2d3291"/><stop offset="0.378" stop-color="#21317f"/><stop offset="0.421" stop-color="#14306d"/><stop offset="0.469" stop-color="#0c2f61"/><stop offset="0.540" stop-color="#0a2c55"/><stop offset="0.636" stop-color="#072948"/><stop offset="0.779" stop-color="#05263d"/><stop offset="0.969" stop-color="#042436"/><stop offset="1.065" stop-color="#032334"/></linearGradient><linearGradient id="g25" gradientUnits="userSpaceOnUse" x1="0" y1="85" x2="0" y2="500"><stop offset="0.015" stop-color="#fab43e"/><stop offset="0.025" stop-color="#fab43e"/><stop offset="0.035" stop-color="#fab33e"/><stop offset="0.044" stop-color="#fbae3c"/><stop offset="0.054" stop-color="#faa93d"/><stop offset="0.063" stop-color="#f9a13f"/><stop offset="0.073" stop-color="#f89642"/><stop offset="0.082" stop-color="#f68b45"/><stop offset="0.092" stop-color="#ee824f"/><stop offset="0.101" stop-color="#e5755c"/><stop offset="0.111" stop-color="#d66d69"/><stop offset="0.123" stop-color="#c46576"/><stop offset="0.135" stop-color="#b5607e"/><stop offset="0.147" stop-color="#a75c83"/><stop offset="0.159" stop-color="#9a5788"/><stop offset="0.178" stop-color="#87508d"/><stop offset="0.197" stop-color="#774a91"/><stop offset="0.216" stop-color="#6b4495"/><stop offset="0.235" stop-color="#5f3f98"/><stop offset="0.254" stop-color="#523b9a"/><stop offset="0.278" stop-color="#45379a"/><stop offset="0.302" stop-color="#3b349b"/><stop offset="0.340" stop-color="#2d3291"/><stop offset="0.378" stop-color="#21317f"/><stop offset="0.421" stop-color="#14306d"/><stop offset="0.469" stop-color="#0c2f61"/><stop offset="0.540" stop-color="#0a2c55"/><stop offset="0.636" stop-color="#072948"/><stop offset="0.779" stop-color="#05263d"/><stop offset="0.969" stop-color="#042436"/><stop offset="1.065" stop-color="#032334"/></linearGradient><linearGradient id="g26" gradientUnits="userSpaceOnUse" x1="0" y1="85" x2="0" y2="500"><stop offset="0.015" stop-color="#fab43e"/><stop offset="0.025" stop-color="#fab43e"/><stop offset="0.035" stop-color="#fab33e"/><stop offset="0.044" stop-color="#fbae3c"/><stop offset="0.054" stop-color="#faa93d"/><stop offset="0.063" stop-color="#f9a13f"/><stop offset="0.073" stop-color="#f89642"/><stop offset="0.082" stop-color="#f68b45"/><stop offset="0.092" stop-color="#ee824f"/><stop offset="0.101" stop-color="#e5755c"/><stop offset="0.111" stop-color="#d66d69"/><stop offset="0.123" stop-color="#c46576"/><stop offset="0.135" stop-color="#b5607e"/><stop offset="0.147" stop-color="#a75c83"/><stop offset="0.159" stop-color="#9a5788"/><stop offset="0.178" stop-color="#87508d"/><stop offset="0.197" stop-color="#774a91"/><stop offset="0.216" stop-color="#6b4495"/><stop offset="0.235" stop-color="#5f3f98"/><stop offset="0.254" stop-color="#523b9a"/><stop offset="0.278" stop-color="#45379a"/><stop offset="0.302" stop-color="#3b349b"/><stop offset="0.340" stop-color="#2d3291"/><stop offset="0.378" stop-color="#21317f"/><stop offset="0.421" stop-color="#14306d"/><stop offset="0.469" stop-color="#0c2f61"/><stop offset="0.540" stop-color="#0a2c55"/><stop offset="0.636" stop-color="#072948"/><stop offset="0.779" stop-color="#05263d"/><stop offset="0.969" stop-color="#042436"/><stop offset="1.065" stop-color="#032334"/></linearGradient><linearGradient id="g27" gradientUnits="userSpaceOnUse" x1="0" y1="85" x2="0" y2="500"><stop offset="0.015" stop-color="#fab43e"/><stop offset="0.025" stop-color="#fab43e"/><stop offset="0.035" stop-color="#fab33e"/><stop offset="0.044" stop-color="#fbae3c"/><stop offset="0.054" stop-color="#faa93d"/><stop offset="0.063" stop-color="#f9a13f"/><stop offset="0.073" stop-color="#f89642"/><stop offset="0.082" stop-color="#f68b45"/><stop offset="0.092" stop-color="#ee824f"/><stop offset="0.101" stop-color="#e5755c"/><stop offset="0.111" stop-color="#d66d69"/><stop offset="0.123" stop-color="#c46576"/><stop offset="0.135" stop-color="#b5607e"/><stop offset="0.147" stop-color="#a75c83"/><stop offset="0.159" stop-color="#9a5788"/><stop offset="0.178" stop-color="#87508d"/><stop offset="0.197" stop-color="#774a91"/><stop offset="0.216" stop-color="#6b4495"/><stop offset="0.235" stop-color="#5f3f98"/><stop offset="0.254" stop-color="#523b9a"/><stop offset="0.278" stop-color="#45379a"/><stop offset="0.302" stop-color="#3b349b"/><stop offset="0.340" stop-color="#2d3291"/><stop offset="0.378" stop-color="#21317f"/><stop offset="0.421" stop-color="#14306d"/><stop offset="0.469" stop-color="#0c2f61"/><stop offset="0.540" stop-color="#0a2c55"/><stop offset="0.636" stop-color="#072948"/><stop offset="0.779" stop-color="#05263d"/><stop offset="0.969" stop-color="#042436"/><stop offset="1.065" stop-color="#032334"/></linearGradient><linearGradient id="g28" gradientUnits="userSpaceOnUse" x1="0" y1="85" x2="0" y2="500"><stop offset="0.015" stop-color="#fab43e"/><stop offset="0.025" stop-color="#fab43e"/><stop offset="0.035" stop-color="#fab33e"/><stop offset="0.044" stop-color="#fbae3c"/><stop offset="0.054" stop-color="#faa93d"/><stop offset="0.063" stop-color="#f9a13f"/><stop offset="0.073" stop-color="#f89642"/><stop offset="0.082" stop-color="#f68b45"/><stop offset="0.092" stop-color="#ee824f"/><stop offset="0.101" stop-color="#e5755c"/><stop offset="0.111" stop-color="#d66d69"/><stop offset="0.123" stop-color="#c46576"/><stop offset="0.135" stop-color="#b5607e"/><stop offset="0.147" stop-color="#a75c83"/><stop offset="0.159" stop-color="#9a5788"/><stop offset="0.178" stop-color="#87508d"/><stop offset="0.197" stop-color="#774a91"/><stop offset="0.216" stop-color="#6b4495"/><stop offset="0.235" stop-color="#5f3f98"/><stop offset="0.254" stop-color="#523b9a"/><stop offset="0.278" stop-color="#45379a"/><stop offset="0.302" stop-color="#3b349b"/><stop offset="0.340" stop-color="#2d3291"/><stop offset="0.378" stop-color="#21317f"/><stop offset="0.421" stop-color="#14306d"/><stop offset="0.469" stop-color="#0c2f61"/><stop offset="0.540" stop-color="#0a2c55"/><stop offset="0.636" stop-color="#072948"/><stop offset="0.779" stop-color="#05263d"/><stop offset="0.969" stop-color="#042436"/><stop offset="1.065" stop-color="#032334"/></linearGradient><linearGradient id="g29" gradientUnits="userSpaceOnUse" x1="0" y1="85" x2="0" y2="500"><stop offset="0.015" stop-color="#fab63e"/><stop offset="0.025" stop-color="#fab63e"/><stop offset="0.035" stop-color="#fab63e"/><stop offset="0.044" stop-color="#fbb03d"/><stop offset="0.054" stop-color="#fbab3c"/><stop offset="0.063" stop-color="#f9a33f"/><stop offset="0.073" stop-color="#f89842"/><stop offset="0.082" stop-color="#f68d45"/><stop offset="0.092" stop-color="#ef834e"/><stop offset="0.101" stop-color="#e5775b"/><stop offset="0.111" stop-color="#d76d68"/><stop offset="0.123" stop-color="#c56676"/><stop offset="0.135" stop-color="#b6617d"/><stop offset="0.147" stop-color="#a75c83"/><stop offset="0.159" stop-color="#9a5888"/><stop offset="0.178" stop-color="#88518d"/><stop offset="0.197" stop-color="#784a91"/><stop offset="0.216" stop-color="#6b4495"/><stop offset="0.235" stop-color="#5f3f98"/><stop offset="0.254" stop-color="#523b9a"/><stop offset="0.278" stop-color="#45379a"/><stop offset="0.302" stop-color="#3b349b"/><stop offset="0.340" stop-color="#2d3291"/><stop offset="0.378" stop-color="#21317f"/><stop offset="0.421" stop-color="#14306d"/><stop offset="0.469" stop-color="#0c2f61"/><stop offset="0.540" stop-color="#0a2c55"/><stop offset="0.636" stop-color="#072948"/><stop offset="0.779" stop-color="#05263d"/><stop offset="0.969" stop-color="#042436"/><stop offset="1.065" stop-color="#032334"/></linearGradient><linearGradient id="g30" gradientUnits="userSpaceOnUse" x1="0" y1="85" x2="0" y2="500"><stop offset="0.015" stop-color="#f9c041"/><stop offset="0.025" stop-color="#f9bf41"/><stop offset="0.035" stop-color="#f9bd40"/><stop offset="0.044" stop-color="#fab83f"/><stop offset="0.054" stop-color="#fab23d"/><stop offset="0.063" stop-color="#fbaa3d"/><stop offset="0.073" stop-color="#f99e40"/><stop offset="0.082" stop-color="#f79143"/><stop offset="0.092" stop-color="#f2864b"/><stop offset="0.101" stop-color="#e97a57"/><stop offset="0.111" stop-color="#dc6f65"/><stop offset="0.123" stop-color="#c96773"/><stop offset="0.135" stop-color="#b8617c"/><stop offset="0.147" stop-color="#aa5d82"/><stop offset="0.159" stop-color="#9c5888"/><stop offset="0.178" stop-color="#89518c"/><stop offset="0.197" stop-color="#784a91"/><stop offset="0.216" stop-color="#6c4595"/><stop offset="0.235" stop-color="#5f3f98"/><stop offset="0.254" stop-color="#523b9a"/><stop offset="0.278" stop-color="#45379a"/><stop offset="0.302" stop-color="#3b349b"/><stop offset="0.340" stop-color="#2d3291"/><stop offset="0.378" stop-color="#21317f"/><stop offset="0.421" stop-color="#14306d"/><stop offset="0.469" stop-color="#0c2f61"/><stop offset="0.540" stop-color="#0a2c55"/><stop offset="0.636" stop-color="#072948"/><stop offset="0.779" stop-color="#05263d"/><stop offset="0.969" stop-color="#042436"/><stop offset="1.065" stop-color="#032334"/></linearGradient><linearGradient id="g31" gradientUnits="userSpaceOnUse" x1="0" y1="85" x2="0" y2="500"><stop offset="0.015" stop-color="#f8c242"/><stop offset="0.025" stop-color="#f8c141"/><stop offset="0.035" stop-color="#f9c041"/><stop offset="0.044" stop-color="#f9bb40"/><stop offset="0.054" stop-color="#fab43e"/><stop offset="0.063" stop-color="#fbac3c"/><stop offset="0.073" stop-color="#f9a040"/><stop offset="0.082" stop-color="#f79343"/><stop offset="0.092" stop-color="#f3874a"/><stop offset="0.101" stop-color="#e97b56"/><stop offset="0.111" stop-color="#dd6f64"/><stop offset="0.123" stop-color="#ca6872"/><stop offset="0.135" stop-color="#b9627c"/><stop offset="0.147" stop-color="#aa5d82"/><stop offset="0.159" stop-color="#9c5887"/><stop offset="0.178" stop-color="#89518c"/><stop offset="0.197" stop-color="#784a91"/><stop offset="0.216" stop-color="#6c4595"/><stop offset="0.235" stop-color="#5f3f98"/><stop offset="0.254" stop-color="#523b9a"/><stop offset="0.278" stop-color="#45379a"/><stop offset="0.302" stop-color="#3b349b"/><stop offset="0.340" stop-color="#2d3291"/><stop offset="0.378" stop-color="#21317f"/><stop offset="0.421" stop-color="#14306d"/><stop offset="0.469" stop-color="#0c2f61"/><stop offset="0.540" stop-color="#0a2c55"/><stop offset="0.636" stop-color="#072948"/><stop offset="0.779" stop-color="#05263d"/><stop offset="0.969" stop-color="#042436"/><stop offset="1.065" stop-color="#032334"/></linearGradient><linearGradient id="g32" gradientUnits="userSpaceOnUse" x1="0" y1="85" x2="0" y2="500"><stop offset="0.015" stop-color="#f8c743"/><stop offset="0.025" stop-color="#f8c542"/><stop offset="0.035" stop-color="#f8c342"/><stop offset="0.044" stop-color="#f9be41"/><stop offset="0.054" stop-color="#fab73f"/><stop offset="0.063" stop-color="#fbaf3d"/><stop offset="0.073" stop-color="#f9a23f"/><stop offset="0.082" stop-color="#f79542"/><stop offset="0.092" stop-color="#f48848"/><stop offset="0.101" stop-color="#eb7d54"/><stop offset="0.111" stop-color="#df7063"/><stop offset="0.123" stop-color="#cb6871"/><stop offset="0.135" stop-color="#ba627c"/><stop offset="0.147" stop-color="#ab5d82"/><stop offset="0.159" stop-color="#9d5987"/><stop offset="0.178" stop-color="#8a518c"/><stop offset="0.197" stop-color="#794b91"/><stop offset="0.216" stop-color="#6c4594"/><stop offset="0.235" stop-color="#5f3f98"/><stop offset="0.254" stop-color="#523b9a"/><stop offset="0.278" stop-color="#45379a"/><stop offset="0.302" stop-color="#3b349b"/><stop offset="0.340" stop-color="#2d3291"/><stop offset="0.378" stop-color="#21317f"/><stop offset="0.421" stop-color="#14306d"/><stop offset="0.469" stop-color="#0c2f61"/><stop offset="0.540" stop-color="#0a2c55"/><stop offset="0.636" stop-color="#072948"/><stop offset="0.779" stop-color="#05263d"/><stop offset="0.969" stop-color="#042436"/><stop offset="1.065" stop-color="#032334"/></linearGradient><linearGradient id="g33" gradientUnits="userSpaceOnUse" x1="0" y1="85" x2="0" y2="500"><stop offset="0.015" stop-color="#f6d447"/><stop offset="0.025" stop-color="#f6d045"/><stop offset="0.035" stop-color="#f7cd44"/><stop offset="0.044" stop-color="#f7c943"/><stop offset="0.054" stop-color="#f8c141"/><stop offset="0.063" stop-color="#fab83f"/><stop offset="0.073" stop-color="#fbab3d"/><stop offset="0.082" stop-color="#f99c40"/><stop offset="0.092" stop-color="#f68d44"/><stop offset="0.101" stop-color="#ee814f"/><stop offset="0.111" stop-color="#e4745e"/><stop offset="0.123" stop-color="#d06a6e"/><stop offset="0.135" stop-color="#be637a"/><stop offset="0.147" stop-color="#af5e80"/><stop offset="0.159" stop-color="#a05a86"/><stop offset="0.178" stop-color="#8c528c"/><stop offset="0.197" stop-color="#7a4b90"/><stop offset="0.216" stop-color="#6d4594"/><stop offset="0.235" stop-color="#603f98"/><stop offset="0.254" stop-color="#523b9a"/><stop offset="0.278" stop-color="#45379a"/><stop offset="0.302" stop-color="#3b349b"/><stop offset="0.340" stop-color="#2d3291"/><stop offset="0.378" stop-color="#21317f"/><stop offset="0.421" stop-color="#14306d"/><stop offset="0.469" stop-color="#0c2f61"/><stop offset="0.540" stop-color="#0a2c55"/><stop offset="0.636" stop-color="#072948"/><stop offset="0.779" stop-color="#05263d"/><stop offset="0.969" stop-color="#042436"/><stop offset="1.065" stop-color="#032334"/></linearGradient><linearGradient id="g34" gradientUnits="userSpaceOnUse" x1="0" y1="85" x2="0" y2="500"><stop offset="0.015" stop-color="#f4d849"/><stop offset="0.025" stop-color="#f6d447"/><stop offset="0.035" stop-color="#f6d045"/><stop offset="0.044" stop-color="#f7cc44"/><stop offset="0.054" stop-color="#f8c442"/><stop offset="0.063" stop-color="#f9ba3f"/><stop offset="0.073" stop-color="#fbae3c"/><stop offset="0.082" stop-color="#f99e40"/><stop offset="0.092" stop-color="#f78f44"/><stop offset="0.101" stop-color="#ef834e"/><stop offset="0.111" stop-color="#e5765c"/><stop offset="0.123" stop-color="#d26b6d"/><stop offset="0.135" stop-color="#bf637a"/><stop offset="0.147" stop-color="#b05f80"/><stop offset="0.159" stop-color="#a15a86"/><stop offset="0.178" stop-color="#8c528b"/><stop offset="0.197" stop-color="#7a4b90"/><stop offset="0.216" stop-color="#6d4594"/><stop offset="0.235" stop-color="#603f98"/><stop offset="0.254" stop-color="#523b9a"/><stop offset="0.278" stop-color="#45379a"/><stop offset="0.302" stop-color="#3b349b"/><stop offset="0.340" stop-color="#2d3291"/><stop offset="0.378" stop-color="#21317f"/><stop offset="0.421" stop-color="#14306d"/><stop offset="0.469" stop-color="#0c2f61"/><stop offset="0.540" stop-color="#0a2c55"/><stop offset="0.636" stop-color="#072948"/><stop offset="0.779" stop-color="#05263d"/><stop offset="0.969" stop-color="#042436"/><stop offset="1.065" stop-color="#032334"/></linearGradient><linearGradient id="g35" gradientUnits="userSpaceOnUse" x1="0" y1="85" x2="0" y2="500"><stop offset="0.015" stop-color="#f4d849"/><stop offset="0.025" stop-color="#f6d447"/><stop offset="0.035" stop-color="#f6d045"/><stop offset="0.044" stop-color="#f7cc44"/><stop offset="0.054" stop-color="#f8c442"/><stop offset="0.063" stop-color="#f9ba3f"/><stop offset="0.073" stop-color="#fbae3c"/><stop offset="0.082" stop-color="#f99e40"/><stop offset="0.092" stop-color="#f78f44"/><stop offset="0.101" stop-color="#ef834e"/><stop offset="0.111" stop-color="#e5765c"/><stop offset="0.123" stop-color="#d26b6d"/><stop offset="0.135" stop-color="#bf637a"/><stop offset="0.147" stop-color="#b05f80"/><stop offset="0.159" stop-color="#a15a86"/><stop offset="0.178" stop-color="#8c528b"/><stop offset="0.197" stop-color="#7a4b90"/><stop offset="0.216" stop-color="#6d4594"/><stop offset="0.235" stop-color="#603f98"/><stop offset="0.254" stop-color="#523b9a"/><stop offset="0.278" stop-color="#45379a"/><stop offset="0.302" stop-color="#3b349b"/><stop offset="0.340" stop-color="#2d3291"/><stop offset="0.378" stop-color="#21317f"/><stop offset="0.421" stop-color="#14306d"/><stop offset="0.469" stop-color="#0c2f61"/><stop offset="0.540" stop-color="#0a2c55"/><stop offset="0.636" stop-color="#072948"/><stop offset="0.779" stop-color="#05263d"/><stop offset="0.969" stop-color="#042436"/><stop offset="1.065" stop-color="#032334"/></linearGradient><linearGradient id="g36" gradientUnits="userSpaceOnUse" x1="0" y1="85" x2="0" y2="500"><stop offset="0.015" stop-color="#f4d849"/><stop offset="0.025" stop-color="#f6d447"/><stop offset="0.035" stop-color="#f6d045"/><stop offset="0.044" stop-color="#f7cc44"/><stop offset="0.054" stop-color="#f8c442"/><stop offset="0.063" stop-color="#f9ba3f"/><stop offset="0.073" stop-color="#fbae3c"/><stop offset="0.082" stop-color="#f99e40"/><stop offset="0.092" stop-color="#f78f44"/><stop offset="0.101" stop-color="#ef834e"/><stop offset="0.111" stop-color="#e5765c"/><stop offset="0.123" stop-color="#d26b6d"/><stop offset="0.135" stop-color="#bf637a"/><stop offset="0.147" stop-color="#b05f80"/><stop offset="0.159" stop-color="#a15a86"/><stop offset="0.178" stop-color="#8c528b"/><stop offset="0.197" stop-color="#7a4b90"/><stop offset="0.216" stop-color="#6d4594"/><stop offset="0.235" stop-color="#603f98"/><stop offset="0.254" stop-color="#523b9a"/><stop offset="0.278" stop-color="#45379a"/><stop offset="0.302" stop-color="#3b349b"/><stop offset="0.340" stop-color="#2d3291"/><stop offset="0.378" stop-color="#21317f"/><stop offset="0.421" stop-color="#14306d"/><stop offset="0.469" stop-color="#0c2f61"/><stop offset="0.540" stop-color="#0a2c55"/><stop offset="0.636" stop-color="#072948"/><stop offset="0.779" stop-color="#05263d"/><stop offset="0.969" stop-color="#042436"/><stop offset="1.065" stop-color="#032334"/></linearGradient><linearGradient id="g37" gradientUnits="userSpaceOnUse" x1="0" y1="85" x2="0" y2="500"><stop offset="0.015" stop-color="#f4d849"/><stop offset="0.025" stop-color="#f6d447"/><stop offset="0.035" stop-color="#f6d045"/><stop offset="0.044" stop-color="#f7cc44"/><stop offset="0.054" stop-color="#f8c442"/><stop offset="0.063" stop-color="#f9ba3f"/><stop offset="0.073" stop-color="#fbae3c"/><stop offset="0.082" stop-color="#f99e40"/><stop offset="0.092" stop-color="#f78f44"/><stop offset="0.101" stop-color="#ef834e"/><stop offset="0.111" stop-color="#e5765c"/><stop offset="0.123" stop-color="#d26b6d"/><stop offset="0.135" stop-color="#bf637a"/><stop offset="0.147" stop-color="#b05f80"/><stop offset="0.159" stop-color="#a15a86"/><stop offset="0.178" stop-color="#8c528b"/><stop offset="0.197" stop-color="#7a4b90"/><stop offset="0.216" stop-color="#6d4594"/><stop offset="0.235" stop-color="#603f98"/><stop offset="0.254" stop-color="#523b9a"/><stop offset="0.278" stop-color="#45379a"/><stop offset="0.302" stop-color="#3b349b"/><stop offset="0.340" stop-color="#2d3291"/><stop offset="0.378" stop-color="#21317f"/><stop offset="0.421" stop-color="#14306d"/><stop offset="0.469" stop-color="#0c2f61"/><stop offset="0.540" stop-color="#0a2c55"/><stop offset="0.636" stop-color="#072948"/><stop offset="0.779" stop-color="#05263d"/><stop offset="0.969" stop-color="#042436"/><stop offset="1.065" stop-color="#032334"/></linearGradient><linearGradient id="g38" gradientUnits="userSpaceOnUse" x1="0" y1="85" x2="0" y2="500"><stop offset="0.015" stop-color="#f4d849"/><stop offset="0.025" stop-color="#f6d447"/><stop offset="0.035" stop-color="#f6d045"/><stop offset="0.044" stop-color="#f7cc44"/><stop offset="0.054" stop-color="#f8c442"/><stop offset="0.063" stop-color="#f9ba3f"/><stop offset="0.073" stop-color="#fbae3c"/><stop offset="0.082" stop-color="#f99e40"/><stop offset="0.092" stop-color="#f78f44"/><stop offset="0.101" stop-color="#ef834e"/><stop offset="0.111" stop-color="#e5765c"/><stop offset="0.123" stop-color="#d26b6d"/><stop offset="0.135" stop-color="#bf637a"/><stop offset="0.147" stop-color="#b05f80"/><stop offset="0.159" stop-color="#a15a86"/><stop offset="0.178" stop-color="#8c528b"/><stop offset="0.197" stop-color="#7a4b90"/><stop offset="0.216" stop-color="#6d4594"/><stop offset="0.235" stop-color="#603f98"/><stop offset="0.254" stop-color="#523b9a"/><stop offset="0.278" stop-color="#45379a"/><stop offset="0.302" stop-color="#3b349b"/><stop offset="0.340" stop-color="#2d3291"/><stop offset="0.378" stop-color="#21317f"/><stop offset="0.421" stop-color="#14306d"/><stop offset="0.469" stop-color="#0c2f61"/><stop offset="0.540" stop-color="#0a2c55"/><stop offset="0.636" stop-color="#072948"/><stop offset="0.779" stop-color="#05263d"/><stop offset="0.969" stop-color="#042436"/><stop offset="1.065" stop-color="#032334"/></linearGradient><linearGradient id="g39" gradientUnits="userSpaceOnUse" x1="0" y1="85" x2="0" y2="500"><stop offset="0.015" stop-color="#f4d849"/><stop offset="0.025" stop-color="#f6d447"/><stop offset="0.035" stop-color="#f6d045"/><stop offset="0.044" stop-color="#f7cc44"/><stop offset="0.054" stop-color="#f8c442"/><stop offset="0.063" stop-color="#f9ba3f"/><stop offset="0.073" stop-color="#fbae3c"/><stop offset="0.082" stop-color="#f99e40"/><stop offset="0.092" stop-color="#f78f44"/><stop offset="0.101" stop-color="#ef834e"/><stop offset="0.111" stop-color="#e5765c"/><stop offset="0.123" stop-color="#d26b6d"/><stop offset="0.135" stop-color="#bf637a"/><stop offset="0.147" stop-color="#b05f80"/><stop offset="0.159" stop-color="#a15a86"/><stop offset="0.178" stop-color="#8c528b"/><stop offset="0.197" stop-color="#7a4b90"/><stop offset="0.216" stop-color="#6d4594"/><stop offset="0.235" stop-color="#603f98"/><stop offset="0.254" stop-color="#523b9a"/><stop offset="0.278" stop-color="#45379a"/><stop offset="0.302" stop-color="#3b349b"/><stop offset="0.340" stop-color="#2d3291"/><stop offset="0.378" stop-color="#21317f"/><stop offset="0.421" stop-color="#14306d"/><stop offset="0.469" stop-color="#0c2f61"/><stop offset="0.540" stop-color="#0a2c55"/><stop offset="0.636" stop-color="#072948"/><stop offset="0.779" stop-color="#05263d"/><stop offset="0.969" stop-color="#042436"/><stop offset="1.065" stop-color="#032334"/></linearGradient><linearGradient id="g40" gradientUnits="userSpaceOnUse" x1="0" y1="85" x2="0" y2="500"><stop offset="0.015" stop-color="#f3db4a"/><stop offset="0.025" stop-color="#f5d748"/><stop offset="0.035" stop-color="#f6d246"/><stop offset="0.044" stop-color="#f7ce45"/><stop offset="0.054" stop-color="#f8c643"/><stop offset="0.063" stop-color="#f9bc40"/><stop offset="0.073" stop-color="#fbb03d"/><stop offset="0.082" stop-color="#f9a03f"/><stop offset="0.092" stop-color="#f79044"/><stop offset="0.101" stop-color="#f0844d"/><stop offset="0.111" stop-color="#e6775b"/><stop offset="0.123" stop-color="#d36b6c"/><stop offset="0.135" stop-color="#c06479"/><stop offset="0.147" stop-color="#b05f80"/><stop offset="0.159" stop-color="#a15a86"/><stop offset="0.178" stop-color="#8c528b"/><stop offset="0.197" stop-color="#7a4b90"/><stop offset="0.216" stop-color="#6d4594"/><stop offset="0.235" stop-color="#603f98"/><stop offset="0.254" stop-color="#523b9a"/><stop offset="0.278" stop-color="#45379a"/><stop offset="0.302" stop-color="#3b349b"/><stop offset="0.340" stop-color="#2d3291"/><stop offset="0.378" stop-color="#21317f"/><stop offset="0.421" stop-color="#14306d"/><stop offset="0.469" stop-color="#0c2f61"/><stop offset="0.540" stop-color="#0a2c55"/><stop offset="0.636" stop-color="#072948"/><stop offset="0.779" stop-color="#05263d"/><stop offset="0.969" stop-color="#042436"/><stop offset="1.065" stop-color="#032334"/></linearGradient><linearGradient id="g41" gradientUnits="userSpaceOnUse" x1="0" y1="85" x2="0" y2="500"><stop offset="0.015" stop-color="#efe650"/><stop offset="0.025" stop-color="#f1e04d"/><stop offset="0.035" stop-color="#f3db4a"/><stop offset="0.044" stop-color="#f5d547"/><stop offset="0.054" stop-color="#f7ce45"/><stop offset="0.063" stop-color="#f8c242"/><stop offset="0.073" stop-color="#fab73f"/><stop offset="0.082" stop-color="#faa53e"/><stop offset="0.092" stop-color="#f79443"/><stop offset="0.101" stop-color="#f38749"/><stop offset="0.111" stop-color="#e97b56"/><stop offset="0.123" stop-color="#d76d69"/><stop offset="0.135" stop-color="#c36577"/><stop offset="0.147" stop-color="#b3607f"/><stop offset="0.159" stop-color="#a35b85"/><stop offset="0.178" stop-color="#8e538b"/><stop offset="0.197" stop-color="#7b4c90"/><stop offset="0.216" stop-color="#6d4594"/><stop offset="0.235" stop-color="#603f98"/><stop offset="0.254" stop-color="#523b9a"/><stop offset="0.278" stop-color="#45379a"/><stop offset="0.302" stop-color="#3b349b"/><stop offset="0.340" stop-color="#2d3291"/><stop offset="0.378" stop-color="#21317f"/><stop offset="0.421" stop-color="#14306d"/><stop offset="0.469" stop-color="#0c2f61"/><stop offset="0.540" stop-color="#0a2c55"/><stop offset="0.636" stop-color="#072948"/><stop offset="0.779" stop-color="#05263d"/><stop offset="0.969" stop-color="#042436"/><stop offset="1.065" stop-color="#032334"/></linearGradient><linearGradient id="g42" gradientUnits="userSpaceOnUse" x1="0" y1="85" x2="0" y2="500"><stop offset="0.015" stop-color="#ede951"/><stop offset="0.025" stop-color="#f0e34e"/><stop offset="0.035" stop-color="#f2dd4b"/><stop offset="0.044" stop-color="#f5d748"/><stop offset="0.054" stop-color="#f6d045"/><stop offset="0.063" stop-color="#f8c442"/><stop offset="0.073" stop-color="#fab83f"/><stop offset="0.082" stop-color="#faa73e"/><stop offset="0.092" stop-color="#f89642"/><stop offset="0.101" stop-color="#f48848"/><stop offset="0.111" stop-color="#ea7c55"/><stop offset="0.123" stop-color="#d86d68"/><stop offset="0.135" stop-color="#c46577"/><stop offset="0.147" stop-color="#b4607e"/><stop offset="0.159" stop-color="#a45b85"/><stop offset="0.178" stop-color="#8e538b"/><stop offset="0.197" stop-color="#7b4c90"/><stop offset="0.216" stop-color="#6e4694"/><stop offset="0.235" stop-color="#603f98"/><stop offset="0.254" stop-color="#523b9a"/><stop offset="0.278" stop-color="#45379a"/><stop offset="0.302" stop-color="#3b349b"/><stop offset="0.340" stop-color="#2d3291"/><stop offset="0.378" stop-color="#21317f"/><stop offset="0.421" stop-color="#14306d"/><stop offset="0.469" stop-color="#0c2f61"/><stop offset="0.540" stop-color="#0a2c55"/><stop offset="0.636" stop-color="#072948"/><stop offset="0.779" stop-color="#05263d"/><stop offset="0.969" stop-color="#042436"/><stop offset="1.065" stop-color="#032334"/></linearGradient><linearGradient id="g43" gradientUnits="userSpaceOnUse" x1="0" y1="85" x2="0" y2="500"><stop offset="0.015" stop-color="#ede951"/><stop offset="0.025" stop-color="#f0e34e"/><stop offset="0.035" stop-color="#f2dd4b"/><stop offset="0.044" stop-color="#f5d748"/><stop offset="0.054" stop-color="#f6d045"/><stop offset="0.063" stop-color="#f8c442"/><stop offset="0.073" stop-color="#fab83f"/><stop offset="0.082" stop-color="#faa73e"/><stop offset="0.092" stop-color="#f89642"/><stop offset="0.101" stop-color="#f48848"/><stop offset="0.111" stop-color="#ea7c55"/><stop offset="0.123" stop-color="#d86d68"/><stop offset="0.135" stop-color="#c46577"/><stop offset="0.147" stop-color="#b4607e"/><stop offset="0.159" stop-color="#a45b85"/><stop offset="0.178" stop-color="#8e538b"/><stop offset="0.197" stop-color="#7b4c90"/><stop offset="0.216" stop-color="#6e4694"/><stop offset="0.235" stop-color="#603f98"/><stop offset="0.254" stop-color="#523b9a"/><stop offset="0.278" stop-color="#45379a"/><stop offset="0.302" stop-color="#3b349b"/><stop offset="0.340" stop-color="#2d3291"/><stop offset="0.378" stop-color="#21317f"/><stop offset="0.421" stop-color="#14306d"/><stop offset="0.469" stop-color="#0c2f61"/><stop offset="0.540" stop-color="#0a2c55"/><stop offset="0.636" stop-color="#072948"/><stop offset="0.779" stop-color="#05263d"/><stop offset="0.969" stop-color="#042436"/><stop offset="1.065" stop-color="#032334"/></linearGradient><linearGradient id="g44" gradientUnits="userSpaceOnUse" x1="0" y1="85" x2="0" y2="500"><stop offset="0.015" stop-color="#ede951"/><stop offset="0.025" stop-color="#f0e34e"/><stop offset="0.035" stop-color="#f2dd4b"/><stop offset="0.044" stop-color="#f5d748"/><stop offset="0.054" stop-color="#f6d045"/><stop offset="0.063" stop-color="#f8c442"/><stop offset="0.073" stop-color="#fab83f"/><stop offset="0.082" stop-color="#faa73e"/><stop offset="0.092" stop-color="#f89642"/><stop offset="0.101" stop-color="#f48848"/><stop offset="0.111" stop-color="#ea7c55"/><stop offset="0.123" stop-color="#d86d68"/><stop offset="0.135" stop-color="#c46577"/><stop offset="0.147" stop-color="#b4607e"/><stop offset="0.159" stop-color="#a45b85"/><stop offset="0.178" stop-color="#8e538b"/><stop offset="0.197" stop-color="#7b4c90"/><stop offset="0.216" stop-color="#6e4694"/><stop offset="0.235" stop-color="#603f98"/><stop offset="0.254" stop-color="#523b9a"/><stop offset="0.278" stop-color="#45379a"/><stop offset="0.302" stop-color="#3b349b"/><stop offset="0.340" stop-color="#2d3291"/><stop offset="0.378" stop-color="#21317f"/><stop offset="0.421" stop-color="#14306d"/><stop offset="0.469" stop-color="#0c2f61"/><stop offset="0.540" stop-color="#0a2c55"/><stop offset="0.636" stop-color="#072948"/><stop offset="0.779" stop-color="#05263d"/><stop offset="0.969" stop-color="#042436"/><stop offset="1.065" stop-color="#032334"/></linearGradient><linearGradient id="g45" gradientUnits="userSpaceOnUse" x1="0" y1="85" x2="0" y2="500"><stop offset="0.015" stop-color="#ede951"/><stop offset="0.025" stop-color="#f0e34e"/><stop offset="0.035" stop-color="#f2dd4b"/><stop offset="0.044" stop-color="#f5d748"/><stop offset="0.054" stop-color="#f6d045"/><stop offset="0.063" stop-color="#f8c442"/><stop offset="0.073" stop-color="#fab83f"/><stop offset="0.082" stop-color="#faa73e"/><stop offset="0.092" stop-color="#f89642"/><stop offset="0.101" stop-color="#f48848"/><stop offset="0.111" stop-color="#ea7c55"/><stop offset="0.123" stop-color="#d86d68"/><stop offset="0.135" stop-color="#c46577"/><stop offset="0.147" stop-color="#b4607e"/><stop offset="0.159" stop-color="#a45b85"/><stop offset="0.178" stop-color="#8e538b"/><stop offset="0.197" stop-color="#7b4c90"/><stop offset="0.216" stop-color="#6e4694"/><stop offset="0.235" stop-color="#603f98"/><stop offset="0.254" stop-color="#523b9a"/><stop offset="0.278" stop-color="#45379a"/><stop offset="0.302" stop-color="#3b349b"/><stop offset="0.340" stop-color="#2d3291"/><stop offset="0.378" stop-color="#21317f"/><stop offset="0.421" stop-color="#14306d"/><stop offset="0.469" stop-color="#0c2f61"/><stop offset="0.540" stop-color="#0a2c55"/><stop offset="0.636" stop-color="#072948"/><stop offset="0.779" stop-color="#05263d"/><stop offset="0.969" stop-color="#042436"/><stop offset="1.065" stop-color="#032334"/></linearGradient><linearGradient id="g46" gradientUnits="userSpaceOnUse" x1="0" y1="85" x2="0" y2="500"><stop offset="0.015" stop-color="#ede951"/><stop offset="0.025" stop-color="#f0e34e"/><stop offset="0.035" stop-color="#f2dd4b"/><stop offset="0.044" stop-color="#f5d748"/><stop offset="0.054" stop-color="#f6d045"/><stop offset="0.063" stop-color="#f8c442"/><stop offset="0.073" stop-color="#fab83f"/><stop offset="0.082" stop-color="#faa73e"/><stop offset="0.092" stop-color="#f89642"/><stop offset="0.101" stop-color="#f48848"/><stop offset="0.111" stop-color="#ea7c55"/><stop offset="0.123" stop-color="#d86d68"/><stop offset="0.135" stop-color="#c46577"/><stop offset="0.147" stop-color="#b4607e"/><stop offset="0.159" stop-color="#a45b85"/><stop offset="0.178" stop-color="#8e538b"/><stop offset="0.197" stop-color="#7b4c90"/><stop offset="0.216" stop-color="#6e4694"/><stop offset="0.235" stop-color="#603f98"/><stop offset="0.254" stop-color="#523b9a"/><stop offset="0.278" stop-color="#45379a"/><stop offset="0.302" stop-color="#3b349b"/><stop offset="0.340" stop-color="#2d3291"/><stop offset="0.378" stop-color="#21317f"/><stop offset="0.421" stop-color="#14306d"/><stop offset="0.469" stop-color="#0c2f61"/><stop offset="0.540" stop-color="#0a2c55"/><stop offset="0.636" stop-color="#072948"/><stop offset="0.779" stop-color="#05263d"/><stop offset="0.969" stop-color="#042436"/><stop offset="1.065" stop-color="#032334"/></linearGradient><linearGradient id="g47" gradientUnits="userSpaceOnUse" x1="0" y1="85" x2="0" y2="500"><stop offset="0.015" stop-color="#ede951"/><stop offset="0.025" stop-color="#f0e34e"/><stop offset="0.035" stop-color="#f2dd4b"/><stop offset="0.044" stop-color="#f5d748"/><stop offset="0.054" stop-color="#f6d045"/><stop offset="0.063" stop-color="#f8c442"/><stop offset="0.073" stop-color="#fab83f"/><stop offset="0.082" stop-color="#faa73e"/><stop offset="0.092" stop-color="#f89642"/><stop offset="0.101" stop-color="#f48848"/><stop offset="0.111" stop-color="#ea7c55"/><stop offset="0.123" stop-color="#d86d68"/><stop offset="0.135" stop-color="#c46577"/><stop offset="0.147" stop-color="#b4607e"/><stop offset="0.159" stop-color="#a45b85"/><stop offset="0.178" stop-color="#8e538b"/><stop offset="0.197" stop-color="#7b4c90"/><stop offset="0.216" stop-color="#6e4694"/><stop offset="0.235" stop-color="#603f98"/><stop offset="0.254" stop-color="#523b9a"/><stop offset="0.278" stop-color="#45379a"/><stop offset="0.302" stop-color="#3b349b"/><stop offset="0.340" stop-color="#2d3291"/><stop offset="0.378" stop-color="#21317f"/><stop offset="0.421" stop-color="#14306d"/><stop offset="0.469" stop-color="#0c2f61"/><stop offset="0.540" stop-color="#0a2c55"/><stop offset="0.636" stop-color="#072948"/><stop offset="0.779" stop-color="#05263d"/><stop offset="0.969" stop-color="#042436"/><stop offset="1.065" stop-color="#032334"/></linearGradient><linearGradient id="g48" gradientUnits="userSpaceOnUse" x1="0" y1="85" x2="0" y2="500"><stop offset="0.015" stop-color="#efe650"/><stop offset="0.025" stop-color="#f1e04d"/><stop offset="0.035" stop-color="#f3db4a"/><stop offset="0.044" stop-color="#f5d547"/><stop offset="0.054" stop-color="#f7ce45"/><stop offset="0.063" stop-color="#f8c242"/><stop offset="0.073" stop-color="#fab73f"/><stop offset="0.082" stop-color="#faa53e"/><stop offset="0.092" stop-color="#f79443"/><stop offset="0.101" stop-color="#f38749"/><stop offset="0.111" stop-color="#e97b56"/><stop offset="0.123" stop-color="#d76d69"/><stop offset="0.135" stop-color="#c36577"/><stop offset="0.147" stop-color="#b3607f"/><stop offset="0.159" stop-color="#a35b85"/><stop offset="0.178" stop-color="#8e538b"/><stop offset="0.197" stop-color="#7b4c90"/><stop offset="0.216" stop-color="#6d4594"/><stop offset="0.235" stop-color="#603f98"/><stop offset="0.254" stop-color="#523b9a"/><stop offset="0.278" stop-color="#45379a"/><stop offset="0.302" stop-color="#3b349b"/><stop offset="0.340" stop-color="#2d3291"/><stop offset="0.378" stop-color="#21317f"/><stop offset="0.421" stop-color="#14306d"/><stop offset="0.469" stop-color="#0c2f61"/><stop offset="0.540" stop-color="#0a2c55"/><stop offset="0.636" stop-color="#072948"/><stop offset="0.779" stop-color="#05263d"/><stop offset="0.969" stop-color="#042436"/><stop offset="1.065" stop-color="#032334"/></linearGradient><linearGradient id="g49" gradientUnits="userSpaceOnUse" x1="0" y1="85" x2="0" y2="500"><stop offset="0.015" stop-color="#f3db4a"/><stop offset="0.025" stop-color="#f5d748"/><stop offset="0.035" stop-color="#f6d246"/><stop offset="0.044" stop-color="#f7ce45"/><stop offset="0.054" stop-color="#f8c643"/><stop offset="0.063" stop-color="#f9bc40"/><stop offset="0.073" stop-color="#fbb03d"/><stop offset="0.082" stop-color="#f9a03f"/><stop offset="0.092" stop-color="#f79044"/><stop offset="0.101" stop-color="#f0844d"/><stop offset="0.111" stop-color="#e6775b"/><stop offset="0.123" stop-color="#d36b6c"/><stop offset="0.135" stop-color="#c06479"/><stop offset="0.147" stop-color="#b05f80"/><stop offset="0.159" stop-color="#a15a86"/><stop offset="0.178" stop-color="#8c528b"/><stop offset="0.197" stop-color="#7a4b90"/><stop offset="0.216" stop-color="#6d4594"/><stop offset="0.235" stop-color="#603f98"/><stop offset="0.254" stop-color="#523b9a"/><stop offset="0.278" stop-color="#45379a"/><stop offset="0.302" stop-color="#3b349b"/><stop offset="0.340" stop-color="#2d3291"/><stop offset="0.378" stop-color="#21317f"/><stop offset="0.421" stop-color="#14306d"/><stop offset="0.469" stop-color="#0c2f61"/><stop offset="0.540" stop-color="#0a2c55"/><stop offset="0.636" stop-color="#072948"/><stop offset="0.779" stop-color="#05263d"/><stop offset="0.969" stop-color="#042436"/><stop offset="1.065" stop-color="#032334"/></linearGradient><linearGradient id="g50" gradientUnits="userSpaceOnUse" x1="0" y1="85" x2="0" y2="500"><stop offset="0.015" stop-color="#f4d849"/><stop offset="0.025" stop-color="#f6d447"/><stop offset="0.035" stop-color="#f6d045"/><stop offset="0.044" stop-color="#f7cc44"/><stop offset="0.054" stop-color="#f8c442"/><stop offset="0.063" stop-color="#f9ba3f"/><stop offset="0.073" stop-color="#fbae3c"/><stop offset="0.082" stop-color="#f99e40"/><stop offset="0.092" stop-color="#f78f44"/><stop offset="0.101" stop-color="#ef834e"/><stop offset="0.111" stop-color="#e5765c"/><stop offset="0.123" stop-color="#d26b6d"/><stop offset="0.135" stop-color="#bf637a"/><stop offset="0.147" stop-color="#b05f80"/><stop offset="0.159" stop-color="#a15a86"/><stop offset="0.178" stop-color="#8c528b"/><stop offset="0.197" stop-color="#7a4b90"/><stop offset="0.216" stop-color="#6d4594"/><stop offset="0.235" stop-color="#603f98"/><stop offset="0.254" stop-color="#523b9a"/><stop offset="0.278" stop-color="#45379a"/><stop offset="0.302" stop-color="#3b349b"/><stop offset="0.340" stop-color="#2d3291"/><stop offset="0.378" stop-color="#21317f"/><stop offset="0.421" stop-color="#14306d"/><stop offset="0.469" stop-color="#0c2f61"/><stop offset="0.540" stop-color="#0a2c55"/><stop offset="0.636" stop-color="#072948"/><stop offset="0.779" stop-color="#05263d"/><stop offset="0.969" stop-color="#042436"/><stop offset="1.065" stop-color="#032334"/></linearGradient><linearGradient id="g51" gradientUnits="userSpaceOnUse" x1="0" y1="85" x2="0" y2="500"><stop offset="0.015" stop-color="#f6d447"/><stop offset="0.025" stop-color="#f6d045"/><stop offset="0.035" stop-color="#f7cd44"/><stop offset="0.044" stop-color="#f7c943"/><stop offset="0.054" stop-color="#f8c141"/><stop offset="0.063" stop-color="#fab83f"/><stop offset="0.073" stop-color="#fbab3d"/><stop offset="0.082" stop-color="#f99c40"/><stop offset="0.092" stop-color="#f68d44"/><stop offset="0.101" stop-color="#ee814f"/><stop offset="0.111" stop-color="#e4745e"/><stop offset="0.123" stop-color="#d06a6e"/><stop offset="0.135" stop-color="#be637a"/><stop offset="0.147" stop-color="#af5e80"/><stop offset="0.159" stop-color="#a05a86"/><stop offset="0.178" stop-color="#8c528c"/><stop offset="0.197" stop-color="#7a4b90"/><stop offset="0.216" stop-color="#6d4594"/><stop offset="0.235" stop-color="#603f98"/><stop offset="0.254" stop-color="#523b9a"/><stop offset="0.278" stop-color="#45379a"/><stop offset="0.302" stop-color="#3b349b"/><stop offset="0.340" stop-color="#2d3291"/><stop offset="0.378" stop-color="#21317f"/><stop offset="0.421" stop-color="#14306d"/><stop offset="0.469" stop-color="#0c2f61"/><stop offset="0.540" stop-color="#0a2c55"/><stop offset="0.636" stop-color="#072948"/><stop offset="0.779" stop-color="#05263d"/><stop offset="0.969" stop-color="#042436"/><stop offset="1.065" stop-color="#032334"/></linearGradient><linearGradient id="g52" gradientUnits="userSpaceOnUse" x1="0" y1="85" x2="0" y2="500"><stop offset="0.015" stop-color="#f8c743"/><stop offset="0.025" stop-color="#f8c542"/><stop offset="0.035" stop-color="#f8c342"/><stop offset="0.044" stop-color="#f9be41"/><stop offset="0.054" stop-color="#fab73f"/><stop offset="0.063" stop-color="#fbaf3d"/><stop offset="0.073" stop-color="#f9a23f"/><stop offset="0.082" stop-color="#f79542"/><stop offset="0.092" stop-color="#f48848"/><stop offset="0.101" stop-color="#eb7d54"/><stop offset="0.111" stop-color="#df7063"/><stop offset="0.123" stop-color="#cb6871"/><stop offset="0.135" stop-color="#ba627c"/><stop offset="0.147" stop-color="#ab5d82"/><stop offset="0.159" stop-color="#9d5987"/><stop offset="0.178" stop-color="#8a518c"/><stop offset="0.197" stop-color="#794b91"/><stop offset="0.216" stop-color="#6c4594"/><stop offset="0.235" stop-color="#5f3f98"/><stop offset="0.254" stop-color="#523b9a"/><stop offset="0.278" stop-color="#45379a"/><stop offset="0.302" stop-color="#3b349b"/><stop offset="0.340" stop-color="#2d3291"/><stop offset="0.378" stop-color="#21317f"/><stop offset="0.421" stop-color="#14306d"/><stop offset="0.469" stop-color="#0c2f61"/><stop offset="0.540" stop-color="#0a2c55"/><stop offset="0.636" stop-color="#072948"/><stop offset="0.779" stop-color="#05263d"/><stop offset="0.969" stop-color="#042436"/><stop offset="1.065" stop-color="#032334"/></linearGradient><linearGradient id="g53" gradientUnits="userSpaceOnUse" x1="0" y1="85" x2="0" y2="500"><stop offset="0.015" stop-color="#f8c242"/><stop offset="0.025" stop-color="#f8c141"/><stop offset="0.035" stop-color="#f9c041"/><stop offset="0.044" stop-color="#f9bb40"/><stop offset="0.054" stop-color="#fab43e"/><stop offset="0.063" stop-color="#fbac3c"/><stop offset="0.073" stop-color="#f9a040"/><stop offset="0.082" stop-color="#f79343"/><stop offset="0.092" stop-color="#f3874a"/><stop offset="0.101" stop-color="#e97b56"/><stop offset="0.111" stop-color="#dd6f64"/><stop offset="0.123" stop-color="#ca6872"/><stop offset="0.135" stop-color="#b9627c"/><stop offset="0.147" stop-color="#aa5d82"/><stop offset="0.159" stop-color="#9c5887"/><stop offset="0.178" stop-color="#89518c"/><stop offset="0.197" stop-color="#784a91"/><stop offset="0.216" stop-color="#6c4595"/><stop offset="0.235" stop-color="#5f3f98"/><stop offset="0.254" stop-color="#523b9a"/><stop offset="0.278" stop-color="#45379a"/><stop offset="0.302" stop-color="#3b349b"/><stop offset="0.340" stop-color="#2d3291"/><stop offset="0.378" stop-color="#21317f"/><stop offset="0.421" stop-color="#14306d"/><stop offset="0.469" stop-color="#0c2f61"/><stop offset="0.540" stop-color="#0a2c55"/><stop offset="0.636" stop-color="#072948"/><stop offset="0.779" stop-color="#05263d"/><stop offset="0.969" stop-color="#042436"/><stop offset="1.065" stop-color="#032334"/></linearGradient><linearGradient id="g54" gradientUnits="userSpaceOnUse" x1="0" y1="85" x2="0" y2="500"><stop offset="0.015" stop-color="#f8c242"/><stop offset="0.025" stop-color="#f8c141"/><stop offset="0.035" stop-color="#f9c041"/><stop offset="0.044" stop-color="#f9bb40"/><stop offset="0.054" stop-color="#fab43e"/><stop offset="0.063" stop-color="#fbac3c"/><stop offset="0.073" stop-color="#f9a040"/><stop offset="0.082" stop-color="#f79343"/><stop offset="0.092" stop-color="#f3874a"/><stop offset="0.101" stop-color="#e97b56"/><stop offset="0.111" stop-color="#dd6f64"/><stop offset="0.123" stop-color="#ca6872"/><stop offset="0.135" stop-color="#b9627c"/><stop offset="0.147" stop-color="#aa5d82"/><stop offset="0.159" stop-color="#9c5887"/><stop offset="0.178" stop-color="#89518c"/><stop offset="0.197" stop-color="#784a91"/><stop offset="0.216" stop-color="#6c4595"/><stop offset="0.235" stop-color="#5f3f98"/><stop offset="0.254" stop-color="#523b9a"/><stop offset="0.278" stop-color="#45379a"/><stop offset="0.302" stop-color="#3b349b"/><stop offset="0.340" stop-color="#2d3291"/><stop offset="0.378" stop-color="#21317f"/><stop offset="0.421" stop-color="#14306d"/><stop offset="0.469" stop-color="#0c2f61"/><stop offset="0.540" stop-color="#0a2c55"/><stop offset="0.636" stop-color="#072948"/><stop offset="0.779" stop-color="#05263d"/><stop offset="0.969" stop-color="#042436"/><stop offset="1.065" stop-color="#032334"/></linearGradient><linearGradient id="g55" gradientUnits="userSpaceOnUse" x1="0" y1="85" x2="0" y2="500"><stop offset="0.015" stop-color="#f8c241"/><stop offset="0.025" stop-color="#f8c041"/><stop offset="0.035" stop-color="#f9bf41"/><stop offset="0.044" stop-color="#f9ba3f"/><stop offset="0.054" stop-color="#fab33e"/><stop offset="0.063" stop-color="#fbab3c"/><stop offset="0.073" stop-color="#f99f40"/><stop offset="0.082" stop-color="#f79243"/><stop offset="0.092" stop-color="#f2864a"/><stop offset="0.101" stop-color="#e97b56"/><stop offset="0.111" stop-color="#dc6f64"/><stop offset="0.123" stop-color="#c96773"/><stop offset="0.135" stop-color="#b9617c"/><stop offset="0.147" stop-color="#aa5d82"/><stop offset="0.159" stop-color="#9c5887"/><stop offset="0.178" stop-color="#89518c"/><stop offset="0.197" stop-color="#784a91"/><stop offset="0.216" stop-color="#6c4595"/><stop offset="0.235" stop-color="#5f3f98"/><stop offset="0.254" stop-color="#523b9a"/><stop offset="0.278" stop-color="#45379a"/><stop offset="0.302" stop-color="#3b349b"/><stop offset="0.340" stop-color="#2d3291"/><stop offset="0.378" stop-color="#21317f"/><stop offset="0.421" stop-color="#14306d"/><stop offset="0.469" stop-color="#0c2f61"/><stop offset="0.540" stop-color="#0a2c55"/><stop offset="0.636" stop-color="#072948"/><stop offset="0.779" stop-color="#05263d"/><stop offset="0.969" stop-color="#042436"/><stop offset="1.065" stop-color="#032334"/></linearGradient><linearGradient id="g56" gradientUnits="userSpaceOnUse" x1="0" y1="85" x2="0" y2="500"><stop offset="0.015" stop-color="#f9bd40"/><stop offset="0.025" stop-color="#f9bc40"/><stop offset="0.035" stop-color="#f9bc40"/><stop offset="0.044" stop-color="#fab63e"/><stop offset="0.054" stop-color="#fbb03d"/><stop offset="0.063" stop-color="#faa83d"/><stop offset="0.073" stop-color="#f99c40"/><stop offset="0.082" stop-color="#f79044"/><stop offset="0.092" stop-color="#f1854c"/><stop offset="0.101" stop-color="#e87958"/><stop offset="0.111" stop-color="#da6e66"/><stop offset="0.123" stop-color="#c86774"/><stop offset="0.135" stop-color="#b8617d"/><stop offset="0.147" stop-color="#a95c83"/><stop offset="0.159" stop-color="#9c5888"/><stop offset="0.178" stop-color="#89518c"/><stop offset="0.197" stop-color="#784a91"/><stop offset="0.216" stop-color="#6c4595"/><stop offset="0.235" stop-color="#5f3f98"/><stop offset="0.254" stop-color="#523b9a"/><stop offset="0.278" stop-color="#45379a"/><stop offset="0.302" stop-color="#3b349b"/><stop offset="0.340" stop-color="#2d3291"/><stop offset="0.378" stop-color="#21317f"/><stop offset="0.421" stop-color="#14306d"/><stop offset="0.469" stop-color="#0c2f61"/><stop offset="0.540" stop-color="#0a2c55"/><stop offset="0.636" stop-color="#072948"/><stop offset="0.779" stop-color="#05263d"/><stop offset="0.969" stop-color="#042436"/><stop offset="1.065" stop-color="#032334"/></linearGradient><linearGradient id="g57" gradientUnits="userSpaceOnUse" x1="0" y1="85" x2="0" y2="500"><stop offset="0.015" stop-color="#fab83f"/><stop offset="0.025" stop-color="#fab83f"/><stop offset="0.035" stop-color="#fab73f"/><stop offset="0.044" stop-color="#fab23d"/><stop offset="0.054" stop-color="#fbac3c"/><stop offset="0.063" stop-color="#faa43e"/><stop offset="0.073" stop-color="#f89941"/><stop offset="0.082" stop-color="#f68d44"/><stop offset="0.092" stop-color="#f0834d"/><stop offset="0.101" stop-color="#e6775a"/><stop offset="0.111" stop-color="#d86d68"/><stop offset="0.123" stop-color="#c66675"/><stop offset="0.135" stop-color="#b6617d"/><stop offset="0.147" stop-color="#a85c83"/><stop offset="0.159" stop-color="#9b5888"/><stop offset="0.178" stop-color="#88518d"/><stop offset="0.197" stop-color="#784a91"/><stop offset="0.216" stop-color="#6b4495"/><stop offset="0.235" stop-color="#5f3f98"/><stop offset="0.254" stop-color="#523b9a"/><stop offset="0.278" stop-color="#45379a"/><stop offset="0.302" stop-color="#3b349b"/><stop offset="0.340" stop-color="#2d3291"/><stop offset="0.378" stop-color="#21317f"/><stop offset="0.421" stop-color="#14306d"/><stop offset="0.469" stop-color="#0c2f61"/><stop offset="0.540" stop-color="#0a2c55"/><stop offset="0.636" stop-color="#072948"/><stop offset="0.779" stop-color="#05263d"/><stop offset="0.969" stop-color="#042436"/><stop offset="1.065" stop-color="#032334"/></linearGradient><linearGradient id="g58" gradientUnits="userSpaceOnUse" x1="0" y1="85" x2="0" y2="500"><stop offset="0.015" stop-color="#fab73f"/><stop offset="0.025" stop-color="#fab73f"/><stop offset="0.035" stop-color="#fab63e"/><stop offset="0.044" stop-color="#fbb13d"/><stop offset="0.054" stop-color="#fbab3c"/><stop offset="0.063" stop-color="#faa33f"/><stop offset="0.073" stop-color="#f89842"/><stop offset="0.082" stop-color="#f68d45"/><stop offset="0.092" stop-color="#ef834e"/><stop offset="0.101" stop-color="#e6775b"/><stop offset="0.111" stop-color="#d76d68"/><stop offset="0.123" stop-color="#c66676"/><stop offset="0.135" stop-color="#b6617d"/><stop offset="0.147" stop-color="#a85c83"/><stop offset="0.159" stop-color="#9a5888"/><stop offset="0.178" stop-color="#88518d"/><stop offset="0.197" stop-color="#784a91"/><stop offset="0.216" stop-color="#6b4495"/><stop offset="0.235" stop-color="#5f3f98"/><stop offset="0.254" stop-color="#523b9a"/><stop offset="0.278" stop-color="#45379a"/><stop offset="0.302" stop-color="#3b349b"/><stop offset="0.340" stop-color="#2d3291"/><stop offset="0.378" stop-color="#21317f"/><stop offset="0.421" stop-color="#14306d"/><stop offset="0.469" stop-color="#0c2f61"/><stop offset="0.540" stop-color="#0a2c55"/><stop offset="0.636" stop-color="#072948"/><stop offset="0.779" stop-color="#05263d"/><stop offset="0.969" stop-color="#042436"/><stop offset="1.065" stop-color="#032334"/></linearGradient><linearGradient id="g59" gradientUnits="userSpaceOnUse" x1="0" y1="85" x2="0" y2="500"><stop offset="0.015" stop-color="#fab73f"/><stop offset="0.025" stop-color="#fab73f"/><stop offset="0.035" stop-color="#fab63e"/><stop offset="0.044" stop-color="#fbb13d"/><stop offset="0.054" stop-color="#fbab3c"/><stop offset="0.063" stop-color="#faa33f"/><stop offset="0.073" stop-color="#f89842"/><stop offset="0.082" stop-color="#f68d45"/><stop offset="0.092" stop-color="#ef834e"/><stop offset="0.101" stop-color="#e6775b"/><stop offset="0.111" stop-color="#d76d68"/><stop offset="0.123" stop-color="#c66676"/><stop offset="0.135" stop-color="#b6617d"/><stop offset="0.147" stop-color="#a85c83"/><stop offset="0.159" stop-color="#9a5888"/><stop offset="0.178" stop-color="#88518d"/><stop offset="0.197" stop-color="#784a91"/><stop offset="0.216" stop-color="#6b4495"/><stop offset="0.235" stop-color="#5f3f98"/><stop offset="0.254" stop-color="#523b9a"/><stop offset="0.278" stop-color="#45379a"/><stop offset="0.302" stop-color="#3b349b"/><stop offset="0.340" stop-color="#2d3291"/><stop offset="0.378" stop-color="#21317f"/><stop offset="0.421" stop-color="#14306d"/><stop offset="0.469" stop-color="#0c2f61"/><stop offset="0.540" stop-color="#0a2c55"/><stop offset="0.636" stop-color="#072948"/><stop offset="0.779" stop-color="#05263d"/><stop offset="0.969" stop-color="#042436"/><stop offset="1.065" stop-color="#032334"/></linearGradient><linearGradient id="g60" gradientUnits="userSpaceOnUse" x1="0" y1="85" x2="0" y2="500"><stop offset="0.015" stop-color="#fab73f"/><stop offset="0.025" stop-color="#fab73f"/><stop offset="0.035" stop-color="#fab63e"/><stop offset="0.044" stop-color="#fbb13d"/><stop offset="0.054" stop-color="#fbab3c"/><stop offset="0.063" stop-color="#faa33f"/><stop offset="0.073" stop-color="#f89842"/><stop offset="0.082" stop-color="#f68d45"/><stop offset="0.092" stop-color="#ef834e"/><stop offset="0.101" stop-color="#e6775b"/><stop offset="0.111" stop-color="#d76d68"/><stop offset="0.123" stop-color="#c66676"/><stop offset="0.135" stop-color="#b6617d"/><stop offset="0.147" stop-color="#a85c83"/><stop offset="0.159" stop-color="#9a5888"/><stop offset="0.178" stop-color="#88518d"/><stop offset="0.197" stop-color="#784a91"/><stop offset="0.216" stop-color="#6b4495"/><stop offset="0.235" stop-color="#5f3f98"/><stop offset="0.254" stop-color="#523b9a"/><stop offset="0.278" stop-color="#45379a"/><stop offset="0.302" stop-color="#3b349b"/><stop offset="0.340" stop-color="#2d3291"/><stop offset="0.378" stop-color="#21317f"/><stop offset="0.421" stop-color="#14306d"/><stop offset="0.469" stop-color="#0c2f61"/><stop offset="0.540" stop-color="#0a2c55"/><stop offset="0.636" stop-color="#072948"/><stop offset="0.779" stop-color="#05263d"/><stop offset="0.969" stop-color="#042436"/><stop offset="1.065" stop-color="#032334"/></linearGradient><linearGradient id="g61" gradientUnits="userSpaceOnUse" x1="0" y1="85" x2="0" y2="500"><stop offset="0.015" stop-color="#f9b93f"/><stop offset="0.025" stop-color="#f9b93f"/><stop offset="0.035" stop-color="#fab83f"/><stop offset="0.044" stop-color="#fab33d"/><stop offset="0.054" stop-color="#fbad3c"/><stop offset="0.063" stop-color="#faa53e"/><stop offset="0.073" stop-color="#f89941"/><stop offset="0.082" stop-color="#f68e44"/><stop offset="0.092" stop-color="#f0834d"/><stop offset="0.101" stop-color="#e6785a"/><stop offset="0.111" stop-color="#d86e67"/><stop offset="0.123" stop-color="#c66675"/><stop offset="0.135" stop-color="#b7617d"/><stop offset="0.147" stop-color="#a85c83"/><stop offset="0.159" stop-color="#9b5888"/><stop offset="0.178" stop-color="#88518d"/><stop offset="0.197" stop-color="#784a91"/><stop offset="0.216" stop-color="#6b4595"/><stop offset="0.235" stop-color="#5f3f98"/><stop offset="0.254" stop-color="#523b9a"/><stop offset="0.278" stop-color="#45379a"/><stop offset="0.302" stop-color="#3b349b"/><stop offset="0.340" stop-color="#2d3291"/><stop offset="0.378" stop-color="#21317f"/><stop offset="0.421" stop-color="#14306d"/><stop offset="0.469" stop-color="#0c2f61"/><stop offset="0.540" stop-color="#0a2c55"/><stop offset="0.636" stop-color="#072948"/><stop offset="0.779" stop-color="#05263d"/><stop offset="0.969" stop-color="#042436"/><stop offset="1.065" stop-color="#032334"/></linearGradient><linearGradient id="g62" gradientUnits="userSpaceOnUse" x1="0" y1="85" x2="0" y2="500"><stop offset="0.015" stop-color="#f8c041"/><stop offset="0.025" stop-color="#f9bf41"/><stop offset="0.035" stop-color="#f9be40"/><stop offset="0.044" stop-color="#f9b93f"/><stop offset="0.054" stop-color="#fab23d"/><stop offset="0.063" stop-color="#fbaa3d"/><stop offset="0.073" stop-color="#f99e40"/><stop offset="0.082" stop-color="#f79243"/><stop offset="0.092" stop-color="#f2864a"/><stop offset="0.101" stop-color="#e97b57"/><stop offset="0.111" stop-color="#dc6f65"/><stop offset="0.123" stop-color="#c96773"/><stop offset="0.135" stop-color="#b9617c"/><stop offset="0.147" stop-color="#aa5d82"/><stop offset="0.159" stop-color="#9c5887"/><stop offset="0.178" stop-color="#89518c"/><stop offset="0.197" stop-color="#784a91"/><stop offset="0.216" stop-color="#6c4595"/><stop offset="0.235" stop-color="#5f3f98"/><stop offset="0.254" stop-color="#523b9a"/><stop offset="0.278" stop-color="#45379a"/><stop offset="0.302" stop-color="#3b349b"/><stop offset="0.340" stop-color="#2d3291"/><stop offset="0.378" stop-color="#21317f"/><stop offset="0.421" stop-color="#14306d"/><stop offset="0.469" stop-color="#0c2f61"/><stop offset="0.540" stop-color="#0a2c55"/><stop offset="0.636" stop-color="#072948"/><stop offset="0.779" stop-color="#05263d"/><stop offset="0.969" stop-color="#042436"/><stop offset="1.065" stop-color="#032334"/></linearGradient><linearGradient id="g63" gradientUnits="userSpaceOnUse" x1="0" y1="85" x2="0" y2="500"><stop offset="0.015" stop-color="#f8c743"/><stop offset="0.025" stop-color="#f8c542"/><stop offset="0.035" stop-color="#f8c342"/><stop offset="0.044" stop-color="#f9be41"/><stop offset="0.054" stop-color="#fab73f"/><stop offset="0.063" stop-color="#fbaf3d"/><stop offset="0.073" stop-color="#f9a23f"/><stop offset="0.082" stop-color="#f79542"/><stop offset="0.092" stop-color="#f48848"/><stop offset="0.101" stop-color="#eb7d54"/><stop offset="0.111" stop-color="#df7063"/><stop offset="0.123" stop-color="#cb6871"/><stop offset="0.135" stop-color="#ba627c"/><stop offset="0.147" stop-color="#ab5d82"/><stop offset="0.159" stop-color="#9d5987"/><stop offset="0.178" stop-color="#8a518c"/><stop offset="0.197" stop-color="#794b91"/><stop offset="0.216" stop-color="#6c4594"/><stop offset="0.235" stop-color="#5f3f98"/><stop offset="0.254" stop-color="#523b9a"/><stop offset="0.278" stop-color="#45379a"/><stop offset="0.302" stop-color="#3b349b"/><stop offset="0.340" stop-color="#2d3291"/><stop offset="0.378" stop-color="#21317f"/><stop offset="0.421" stop-color="#14306d"/><stop offset="0.469" stop-color="#0c2f61"/><stop offset="0.540" stop-color="#0a2c55"/><stop offset="0.636" stop-color="#072948"/><stop offset="0.779" stop-color="#05263d"/><stop offset="0.969" stop-color="#042436"/><stop offset="1.065" stop-color="#032334"/></linearGradient><linearGradient id="g64" gradientUnits="userSpaceOnUse" x1="0" y1="85" x2="0" y2="500"><stop offset="0.015" stop-color="#f6d447"/><stop offset="0.025" stop-color="#f6d045"/><stop offset="0.035" stop-color="#f7cd44"/><stop offset="0.044" stop-color="#f7c943"/><stop offset="0.054" stop-color="#f8c141"/><stop offset="0.063" stop-color="#fab83f"/><stop offset="0.073" stop-color="#fbab3d"/><stop offset="0.082" stop-color="#f99c40"/><stop offset="0.092" stop-color="#f68d44"/><stop offset="0.101" stop-color="#ee814f"/><stop offset="0.111" stop-color="#e4745e"/><stop offset="0.123" stop-color="#d06a6e"/><stop offset="0.135" stop-color="#be637a"/><stop offset="0.147" stop-color="#af5e80"/><stop offset="0.159" stop-color="#a05a86"/><stop offset="0.178" stop-color="#8c528c"/><stop offset="0.197" stop-color="#7a4b90"/><stop offset="0.216" stop-color="#6d4594"/><stop offset="0.235" stop-color="#603f98"/><stop offset="0.254" stop-color="#523b9a"/><stop offset="0.278" stop-color="#45379a"/><stop offset="0.302" stop-color="#3b349b"/><stop offset="0.340" stop-color="#2d3291"/><stop offset="0.378" stop-color="#21317f"/><stop offset="0.421" stop-color="#14306d"/><stop offset="0.469" stop-color="#0c2f61"/><stop offset="0.540" stop-color="#0a2c55"/><stop offset="0.636" stop-color="#072948"/><stop offset="0.779" stop-color="#05263d"/><stop offset="0.969" stop-color="#042436"/><stop offset="1.065" stop-color="#032334"/></linearGradient><linearGradient id="g65" gradientUnits="userSpaceOnUse" x1="0" y1="85" x2="0" y2="500"><stop offset="0.015" stop-color="#f4d849"/><stop offset="0.025" stop-color="#f6d447"/><stop offset="0.035" stop-color="#f6d045"/><stop offset="0.044" stop-color="#f7cc44"/><stop offset="0.054" stop-color="#f8c442"/><stop offset="0.063" stop-color="#f9ba3f"/><stop offset="0.073" stop-color="#fbae3c"/><stop offset="0.082" stop-color="#f99e40"/><stop offset="0.092" stop-color="#f78f44"/><stop offset="0.101" stop-color="#ef834e"/><stop offset="0.111" stop-color="#e5765c"/><stop offset="0.123" stop-color="#d26b6d"/><stop offset="0.135" stop-color="#bf637a"/><stop offset="0.147" stop-color="#b05f80"/><stop offset="0.159" stop-color="#a15a86"/><stop offset="0.178" stop-color="#8c528b"/><stop offset="0.197" stop-color="#7a4b90"/><stop offset="0.216" stop-color="#6d4594"/><stop offset="0.235" stop-color="#603f98"/><stop offset="0.254" stop-color="#523b9a"/><stop offset="0.278" stop-color="#45379a"/><stop offset="0.302" stop-color="#3b349b"/><stop offset="0.340" stop-color="#2d3291"/><stop offset="0.378" stop-color="#21317f"/><stop offset="0.421" stop-color="#14306d"/><stop offset="0.469" stop-color="#0c2f61"/><stop offset="0.540" stop-color="#0a2c55"/><stop offset="0.636" stop-color="#072948"/><stop offset="0.779" stop-color="#05263d"/><stop offset="0.969" stop-color="#042436"/><stop offset="1.065" stop-color="#032334"/></linearGradient><linearGradient id="g66" gradientUnits="userSpaceOnUse" x1="0" y1="85" x2="0" y2="500"><stop offset="0.015" stop-color="#f4d849"/><stop offset="0.025" stop-color="#f6d447"/><stop offset="0.035" stop-color="#f6d045"/><stop offset="0.044" stop-color="#f7cc44"/><stop offset="0.054" stop-color="#f8c442"/><stop offset="0.063" stop-color="#f9ba3f"/><stop offset="0.073" stop-color="#fbae3c"/><stop offset="0.082" stop-color="#f99e40"/><stop offset="0.092" stop-color="#f78f44"/><stop offset="0.101" stop-color="#ef834e"/><stop offset="0.111" stop-color="#e5765c"/><stop offset="0.123" stop-color="#d26b6d"/><stop offset="0.135" stop-color="#bf637a"/><stop offset="0.147" stop-color="#b05f80"/><stop offset="0.159" stop-color="#a15a86"/><stop offset="0.178" stop-color="#8c528b"/><stop offset="0.197" stop-color="#7a4b90"/><stop offset="0.216" stop-color="#6d4594"/><stop offset="0.235" stop-color="#603f98"/><stop offset="0.254" stop-color="#523b9a"/><stop offset="0.278" stop-color="#45379a"/><stop offset="0.302" stop-color="#3b349b"/><stop offset="0.340" stop-color="#2d3291"/><stop offset="0.378" stop-color="#21317f"/><stop offset="0.421" stop-color="#14306d"/><stop offset="0.469" stop-color="#0c2f61"/><stop offset="0.540" stop-color="#0a2c55"/><stop offset="0.636" stop-color="#072948"/><stop offset="0.779" stop-color="#05263d"/><stop offset="0.969" stop-color="#042436"/><stop offset="1.065" stop-color="#032334"/></linearGradient><linearGradient id="g67" gradientUnits="userSpaceOnUse" x1="0" y1="85" x2="0" y2="500"><stop offset="0.015" stop-color="#f4d849"/><stop offset="0.025" stop-color="#f6d447"/><stop offset="0.035" stop-color="#f6d045"/><stop offset="0.044" stop-color="#f7cc44"/><stop offset="0.054" stop-color="#f8c442"/><stop offset="0.063" stop-color="#f9ba3f"/><stop offset="0.073" stop-color="#fbae3c"/><stop offset="0.082" stop-color="#f99e40"/><stop offset="0.092" stop-color="#f78f44"/><stop offset="0.101" stop-color="#ef834e"/><stop offset="0.111" stop-color="#e5765c"/><stop offset="0.123" stop-color="#d26b6d"/><stop offset="0.135" stop-color="#bf637a"/><stop offset="0.147" stop-color="#b05f80"/><stop offset="0.159" stop-color="#a15a86"/><stop offset="0.178" stop-color="#8c528b"/><stop offset="0.197" stop-color="#7a4b90"/><stop offset="0.216" stop-color="#6d4594"/><stop offset="0.235" stop-color="#603f98"/><stop offset="0.254" stop-color="#523b9a"/><stop offset="0.278" stop-color="#45379a"/><stop offset="0.302" stop-color="#3b349b"/><stop offset="0.340" stop-color="#2d3291"/><stop offset="0.378" stop-color="#21317f"/><stop offset="0.421" stop-color="#14306d"/><stop offset="0.469" stop-color="#0c2f61"/><stop offset="0.540" stop-color="#0a2c55"/><stop offset="0.636" stop-color="#072948"/><stop offset="0.779" stop-color="#05263d"/><stop offset="0.969" stop-color="#042436"/><stop offset="1.065" stop-color="#032334"/></linearGradient><linearGradient id="g68" gradientUnits="userSpaceOnUse" x1="0" y1="85" x2="0" y2="500"><stop offset="0.015" stop-color="#f3db4a"/><stop offset="0.025" stop-color="#f5d748"/><stop offset="0.035" stop-color="#f6d246"/><stop offset="0.044" stop-color="#f7ce45"/><stop offset="0.054" stop-color="#f8c643"/><stop offset="0.063" stop-color="#f9bc40"/><stop offset="0.073" stop-color="#fbb03d"/><stop offset="0.082" stop-color="#f9a03f"/><stop offset="0.092" stop-color="#f79044"/><stop offset="0.101" stop-color="#f0844d"/><stop offset="0.111" stop-color="#e6775b"/><stop offset="0.123" stop-color="#d36b6c"/><stop offset="0.135" stop-color="#c06479"/><stop offset="0.147" stop-color="#b05f80"/><stop offset="0.159" stop-color="#a15a86"/><stop offset="0.178" stop-color="#8c528b"/><stop offset="0.197" stop-color="#7a4b90"/><stop offset="0.216" stop-color="#6d4594"/><stop offset="0.235" stop-color="#603f98"/><stop offset="0.254" stop-color="#523b9a"/><stop offset="0.278" stop-color="#45379a"/><stop offset="0.302" stop-color="#3b349b"/><stop offset="0.340" stop-color="#2d3291"/><stop offset="0.378" stop-color="#21317f"/><stop offset="0.421" stop-color="#14306d"/><stop offset="0.469" stop-color="#0c2f61"/><stop offset="0.540" stop-color="#0a2c55"/><stop offset="0.636" stop-color="#072948"/><stop offset="0.779" stop-color="#05263d"/><stop offset="0.969" stop-color="#042436"/><stop offset="1.065" stop-color="#032334"/></linearGradient><linearGradient id="g69" gradientUnits="userSpaceOnUse" x1="0" y1="85" x2="0" y2="500"><stop offset="0.015" stop-color="#efe650"/><stop offset="0.025" stop-color="#f1e04d"/><stop offset="0.035" stop-color="#f3db4a"/><stop offset="0.044" stop-color="#f5d547"/><stop offset="0.054" stop-color="#f7ce45"/><stop offset="0.063" stop-color="#f8c242"/><stop offset="0.073" stop-color="#fab73f"/><stop offset="0.082" stop-color="#faa53e"/><stop offset="0.092" stop-color="#f79443"/><stop offset="0.101" stop-color="#f38749"/><stop offset="0.111" stop-color="#e97b56"/><stop offset="0.123" stop-color="#d76d69"/><stop offset="0.135" stop-color="#c36577"/><stop offset="0.147" stop-color="#b3607f"/><stop offset="0.159" stop-color="#a35b85"/><stop offset="0.178" stop-color="#8e538b"/><stop offset="0.197" stop-color="#7b4c90"/><stop offset="0.216" stop-color="#6d4594"/><stop offset="0.235" stop-color="#603f98"/><stop offset="0.254" stop-color="#523b9a"/><stop offset="0.278" stop-color="#45379a"/><stop offset="0.302" stop-color="#3b349b"/><stop offset="0.340" stop-color="#2d3291"/><stop offset="0.378" stop-color="#21317f"/><stop offset="0.421" stop-color="#14306d"/><stop offset="0.469" stop-color="#0c2f61"/><stop offset="0.540" stop-color="#0a2c55"/><stop offset="0.636" stop-color="#072948"/><stop offset="0.779" stop-color="#05263d"/><stop offset="0.969" stop-color="#042436"/><stop offset="1.065" stop-color="#032334"/></linearGradient><linearGradient id="g70" gradientUnits="userSpaceOnUse" x1="0" y1="85" x2="0" y2="500"><stop offset="0.015" stop-color="#ede951"/><stop offset="0.025" stop-color="#f0e34e"/><stop offset="0.035" stop-color="#f2dd4b"/><stop offset="0.044" stop-color="#f5d748"/><stop offset="0.054" stop-color="#f6d045"/><stop offset="0.063" stop-color="#f8c442"/><stop offset="0.073" stop-color="#fab83f"/><stop offset="0.082" stop-color="#faa73e"/><stop offset="0.092" stop-color="#f89642"/><stop offset="0.101" stop-color="#f48848"/><stop offset="0.111" stop-color="#ea7c55"/><stop offset="0.123" stop-color="#d86d68"/><stop offset="0.135" stop-color="#c46577"/><stop offset="0.147" stop-color="#b4607e"/><stop offset="0.159" stop-color="#a45b85"/><stop offset="0.178" stop-color="#8e538b"/><stop offset="0.197" stop-color="#7b4c90"/><stop offset="0.216" stop-color="#6e4694"/><stop offset="0.235" stop-color="#603f98"/><stop offset="0.254" stop-color="#523b9a"/><stop offset="0.278" stop-color="#45379a"/><stop offset="0.302" stop-color="#3b349b"/><stop offset="0.340" stop-color="#2d3291"/><stop offset="0.378" stop-color="#21317f"/><stop offset="0.421" stop-color="#14306d"/><stop offset="0.469" stop-color="#0c2f61"/><stop offset="0.540" stop-color="#0a2c55"/><stop offset="0.636" stop-color="#072948"/><stop offset="0.779" stop-color="#05263d"/><stop offset="0.969" stop-color="#042436"/><stop offset="1.065" stop-color="#032334"/></linearGradient><linearGradient id="g71" gradientUnits="userSpaceOnUse" x1="0" y1="85" x2="0" y2="500"><stop offset="0.015" stop-color="#ede951"/><stop offset="0.025" stop-color="#f0e34e"/><stop offset="0.035" stop-color="#f2dd4b"/><stop offset="0.044" stop-color="#f5d748"/><stop offset="0.054" stop-color="#f6d045"/><stop offset="0.063" stop-color="#f8c442"/><stop offset="0.073" stop-color="#fab83f"/><stop offset="0.082" stop-color="#faa73e"/><stop offset="0.092" stop-color="#f89642"/><stop offset="0.101" stop-color="#f48848"/><stop offset="0.111" stop-color="#ea7c55"/><stop offset="0.123" stop-color="#d86d68"/><stop offset="0.135" stop-color="#c46577"/><stop offset="0.147" stop-color="#b4607e"/><stop offset="0.159" stop-color="#a45b85"/><stop offset="0.178" stop-color="#8e538b"/><stop offset="0.197" stop-color="#7b4c90"/><stop offset="0.216" stop-color="#6e4694"/><stop offset="0.235" stop-color="#603f98"/><stop offset="0.254" stop-color="#523b9a"/><stop offset="0.278" stop-color="#45379a"/><stop offset="0.302" stop-color="#3b349b"/><stop offset="0.340" stop-color="#2d3291"/><stop offset="0.378" stop-color="#21317f"/><stop offset="0.421" stop-color="#14306d"/><stop offset="0.469" stop-color="#0c2f61"/><stop offset="0.540" stop-color="#0a2c55"/><stop offset="0.636" stop-color="#072948"/><stop offset="0.779" stop-color="#05263d"/><stop offset="0.969" stop-color="#042436"/><stop offset="1.065" stop-color="#032334"/></linearGradient><linearGradient id="g72" gradientUnits="userSpaceOnUse" x1="0" y1="85" x2="0" y2="500"><stop offset="0.015" stop-color="#ede951"/><stop offset="0.025" stop-color="#f0e34e"/><stop offset="0.035" stop-color="#f2dd4b"/><stop offset="0.044" stop-color="#f5d748"/><stop offset="0.054" stop-color="#f6d045"/><stop offset="0.063" stop-color="#f8c442"/><stop offset="0.073" stop-color="#fab83f"/><stop offset="0.082" stop-color="#faa73e"/><stop offset="0.092" stop-color="#f89642"/><stop offset="0.101" stop-color="#f48848"/><stop offset="0.111" stop-color="#ea7c55"/><stop offset="0.123" stop-color="#d86d68"/><stop offset="0.135" stop-color="#c46577"/><stop offset="0.147" stop-color="#b4607e"/><stop offset="0.159" stop-color="#a45b85"/><stop offset="0.178" stop-color="#8e538b"/><stop offset="0.197" stop-color="#7b4c90"/><stop offset="0.216" stop-color="#6e4694"/><stop offset="0.235" stop-color="#603f98"/><stop offset="0.254" stop-color="#523b9a"/><stop offset="0.278" stop-color="#45379a"/><stop offset="0.302" stop-color="#3b349b"/><stop offset="0.340" stop-color="#2d3291"/><stop offset="0.378" stop-color="#21317f"/><stop offset="0.421" stop-color="#14306d"/><stop offset="0.469" stop-color="#0c2f61"/><stop offset="0.540" stop-color="#0a2c55"/><stop offset="0.636" stop-color="#072948"/><stop offset="0.779" stop-color="#05263d"/><stop offset="0.969" stop-color="#042436"/><stop offset="1.065" stop-color="#032334"/></linearGradient><linearGradient id="g73" gradientUnits="userSpaceOnUse" x1="0" y1="85" x2="0" y2="500"><stop offset="0.015" stop-color="#ede951"/><stop offset="0.025" stop-color="#f0e34e"/><stop offset="0.035" stop-color="#f2dd4b"/><stop offset="0.044" stop-color="#f5d748"/><stop offset="0.054" stop-color="#f6d045"/><stop offset="0.063" stop-color="#f8c442"/><stop offset="0.073" stop-color="#fab83f"/><stop offset="0.082" stop-color="#faa73e"/><stop offset="0.092" stop-color="#f89642"/><stop offset="0.101" stop-color="#f48848"/><stop offset="0.111" stop-color="#ea7c55"/><stop offset="0.123" stop-color="#d86d68"/><stop offset="0.135" stop-color="#c46577"/><stop offset="0.147" stop-color="#b4607e"/><stop offset="0.159" stop-color="#a45b85"/><stop offset="0.178" stop-color="#8e538b"/><stop offset="0.197" stop-color="#7b4c90"/><stop offset="0.216" stop-color="#6e4694"/><stop offset="0.235" stop-color="#603f98"/><stop offset="0.254" stop-color="#523b9a"/><stop offset="0.278" stop-color="#45379a"/><stop offset="0.302" stop-color="#3b349b"/><stop offset="0.340" stop-color="#2d3291"/><stop offset="0.378" stop-color="#21317f"/><stop offset="0.421" stop-color="#14306d"/><stop offset="0.469" stop-color="#0c2f61"/><stop offset="0.540" stop-color="#0a2c55"/><stop offset="0.636" stop-color="#072948"/><stop offset="0.779" stop-color="#05263d"/><stop offset="0.969" stop-color="#042436"/><stop offset="1.065" stop-color="#032334"/></linearGradient><linearGradient id="g74" gradientUnits="userSpaceOnUse" x1="0" y1="85" x2="0" y2="500"><stop offset="0.015" stop-color="#ede951"/><stop offset="0.025" stop-color="#f0e34e"/><stop offset="0.035" stop-color="#f2dd4b"/><stop offset="0.044" stop-color="#f5d748"/><stop offset="0.054" stop-color="#f6d045"/><stop offset="0.063" stop-color="#f8c442"/><stop offset="0.073" stop-color="#fab83f"/><stop offset="0.082" stop-color="#faa73e"/><stop offset="0.092" stop-color="#f89642"/><stop offset="0.101" stop-color="#f48848"/><stop offset="0.111" stop-color="#ea7c55"/><stop offset="0.123" stop-color="#d86d68"/><stop offset="0.135" stop-color="#c46577"/><stop offset="0.147" stop-color="#b4607e"/><stop offset="0.159" stop-color="#a45b85"/><stop offset="0.178" stop-color="#8e538b"/><stop offset="0.197" stop-color="#7b4c90"/><stop offset="0.216" stop-color="#6e4694"/><stop offset="0.235" stop-color="#603f98"/><stop offset="0.254" stop-color="#523b9a"/><stop offset="0.278" stop-color="#45379a"/><stop offset="0.302" stop-color="#3b349b"/><stop offset="0.340" stop-color="#2d3291"/><stop offset="0.378" stop-color="#21317f"/><stop offset="0.421" stop-color="#14306d"/><stop offset="0.469" stop-color="#0c2f61"/><stop offset="0.540" stop-color="#0a2c55"/><stop offset="0.636" stop-color="#072948"/><stop offset="0.779" stop-color="#05263d"/><stop offset="0.969" stop-color="#042436"/><stop offset="1.065" stop-color="#032334"/></linearGradient><linearGradient id="g75" gradientUnits="userSpaceOnUse" x1="0" y1="85" x2="0" y2="500"><stop offset="0.015" stop-color="#edeb52"/><stop offset="0.025" stop-color="#efe44f"/><stop offset="0.035" stop-color="#f2de4c"/><stop offset="0.044" stop-color="#f4d849"/><stop offset="0.054" stop-color="#f6d145"/><stop offset="0.063" stop-color="#f8c542"/><stop offset="0.073" stop-color="#f9b93f"/><stop offset="0.082" stop-color="#faa83d"/><stop offset="0.092" stop-color="#f89642"/><stop offset="0.101" stop-color="#f48848"/><stop offset="0.111" stop-color="#ea7d55"/><stop offset="0.123" stop-color="#d96e67"/><stop offset="0.135" stop-color="#c56676"/><stop offset="0.147" stop-color="#b4607e"/><stop offset="0.159" stop-color="#a45b84"/><stop offset="0.178" stop-color="#8f538b"/><stop offset="0.197" stop-color="#7b4c90"/><stop offset="0.216" stop-color="#6e4694"/><stop offset="0.235" stop-color="#603f98"/><stop offset="0.254" stop-color="#523b9a"/><stop offset="0.278" stop-color="#45379a"/><stop offset="0.302" stop-color="#3b349b"/><stop offset="0.340" stop-color="#2d3291"/><stop offset="0.378" stop-color="#21317f"/><stop offset="0.421" stop-color="#14306d"/><stop offset="0.469" stop-color="#0c2f61"/><stop offset="0.540" stop-color="#0a2c55"/><stop offset="0.636" stop-color="#072948"/><stop offset="0.779" stop-color="#05263d"/><stop offset="0.969" stop-color="#042436"/><stop offset="1.065" stop-color="#032334"/></linearGradient><linearGradient id="g76" gradientUnits="userSpaceOnUse" x1="0" y1="85" x2="0" y2="500"><stop offset="0.015" stop-color="#ebf055"/><stop offset="0.025" stop-color="#ede951"/><stop offset="0.035" stop-color="#f0e24e"/><stop offset="0.044" stop-color="#f3db4a"/><stop offset="0.054" stop-color="#f5d447"/><stop offset="0.063" stop-color="#f7c843"/><stop offset="0.073" stop-color="#f9bc40"/><stop offset="0.082" stop-color="#fbab3d"/><stop offset="0.092" stop-color="#f89841"/><stop offset="0.101" stop-color="#f58a46"/><stop offset="0.111" stop-color="#ec7e53"/><stop offset="0.123" stop-color="#db6e66"/><stop offset="0.135" stop-color="#c66675"/><stop offset="0.147" stop-color="#b5607e"/><stop offset="0.159" stop-color="#a55b84"/><stop offset="0.178" stop-color="#8f538b"/><stop offset="0.197" stop-color="#7b4c90"/><stop offset="0.216" stop-color="#6e4694"/><stop offset="0.235" stop-color="#603f98"/><stop offset="0.254" stop-color="#523b9a"/><stop offset="0.278" stop-color="#45379a"/><stop offset="0.302" stop-color="#3b349b"/><stop offset="0.340" stop-color="#2d3291"/><stop offset="0.378" stop-color="#21317f"/><stop offset="0.421" stop-color="#14306d"/><stop offset="0.469" stop-color="#0c2f61"/><stop offset="0.540" stop-color="#0a2c55"/><stop offset="0.636" stop-color="#072948"/><stop offset="0.779" stop-color="#05263d"/><stop offset="0.969" stop-color="#042436"/><stop offset="1.065" stop-color="#032334"/></linearGradient><linearGradient id="g77" gradientUnits="userSpaceOnUse" x1="0" y1="85" x2="0" y2="500"><stop offset="0.015" stop-color="#eaf256"/><stop offset="0.025" stop-color="#edeb52"/><stop offset="0.035" stop-color="#f0e34e"/><stop offset="0.044" stop-color="#f2dc4b"/><stop offset="0.054" stop-color="#f5d547"/><stop offset="0.063" stop-color="#f7c943"/><stop offset="0.073" stop-color="#f9bc40"/><stop offset="0.082" stop-color="#fbab3c"/><stop offset="0.092" stop-color="#f89941"/><stop offset="0.101" stop-color="#f68b45"/><stop offset="0.111" stop-color="#ec7f52"/><stop offset="0.123" stop-color="#db6f65"/><stop offset="0.135" stop-color="#c76675"/><stop offset="0.147" stop-color="#b6607e"/><stop offset="0.159" stop-color="#a65b84"/><stop offset="0.178" stop-color="#8f548b"/><stop offset="0.197" stop-color="#7c4c90"/><stop offset="0.216" stop-color="#6e4694"/><stop offset="0.235" stop-color="#603f98"/><stop offset="0.254" stop-color="#523b9a"/><stop offset="0.278" stop-color="#45379a"/><stop offset="0.302" stop-color="#3b349b"/><stop offset="0.340" stop-color="#2d3291"/><stop offset="0.378" stop-color="#21317f"/><stop offset="0.421" stop-color="#14306d"/><stop offset="0.469" stop-color="#0c2f61"/><stop offset="0.540" stop-color="#0a2c55"/><stop offset="0.636" stop-color="#072948"/><stop offset="0.779" stop-color="#05263d"/><stop offset="0.969" stop-color="#042436"/><stop offset="1.065" stop-color="#032334"/></linearGradient><linearGradient id="g78" gradientUnits="userSpaceOnUse" x1="0" y1="85" x2="0" y2="500"><stop offset="0.015" stop-color="#eaf256"/><stop offset="0.025" stop-color="#edeb52"/><stop offset="0.035" stop-color="#f0e34e"/><stop offset="0.044" stop-color="#f2dc4b"/><stop offset="0.054" stop-color="#f5d547"/><stop offset="0.063" stop-color="#f7c943"/><stop offset="0.073" stop-color="#f9bc40"/><stop offset="0.082" stop-color="#fbab3c"/><stop offset="0.092" stop-color="#f89941"/><stop offset="0.101" stop-color="#f68b45"/><stop offset="0.111" stop-color="#ec7f52"/><stop offset="0.123" stop-color="#db6f65"/><stop offset="0.135" stop-color="#c76675"/><stop offset="0.147" stop-color="#b6607e"/><stop offset="0.159" stop-color="#a65b84"/><stop offset="0.178" stop-color="#8f548b"/><stop offset="0.197" stop-color="#7c4c90"/><stop offset="0.216" stop-color="#6e4694"/><stop offset="0.235" stop-color="#603f98"/><stop offset="0.254" stop-color="#523b9a"/><stop offset="0.278" stop-color="#45379a"/><stop offset="0.302" stop-color="#3b349b"/><stop offset="0.340" stop-color="#2d3291"/><stop offset="0.378" stop-color="#21317f"/><stop offset="0.421" stop-color="#14306d"/><stop offset="0.469" stop-color="#0c2f61"/><stop offset="0.540" stop-color="#0a2c55"/><stop offset="0.636" stop-color="#072948"/><stop offset="0.779" stop-color="#05263d"/><stop offset="0.969" stop-color="#042436"/><stop offset="1.065" stop-color="#032334"/></linearGradient><linearGradient id="g79" gradientUnits="userSpaceOnUse" x1="0" y1="85" x2="0" y2="500"><stop offset="0.015" stop-color="#eaf256"/><stop offset="0.025" stop-color="#edeb52"/><stop offset="0.035" stop-color="#f0e34e"/><stop offset="0.044" stop-color="#f2dc4b"/><stop offset="0.054" stop-color="#f5d547"/><stop offset="0.063" stop-color="#f7c943"/><stop offset="0.073" stop-color="#f9bc40"/><stop offset="0.082" stop-color="#fbab3c"/><stop offset="0.092" stop-color="#f89941"/><stop offset="0.101" stop-color="#f68b45"/><stop offset="0.111" stop-color="#ec7f52"/><stop offset="0.123" stop-color="#db6f65"/><stop offset="0.135" stop-color="#c76675"/><stop offset="0.147" stop-color="#b6607e"/><stop offset="0.159" stop-color="#a65b84"/><stop offset="0.178" stop-color="#8f548b"/><stop offset="0.197" stop-color="#7c4c90"/><stop offset="0.216" stop-color="#6e4694"/><stop offset="0.235" stop-color="#603f98"/><stop offset="0.254" stop-color="#523b9a"/><stop offset="0.278" stop-color="#45379a"/><stop offset="0.302" stop-color="#3b349b"/><stop offset="0.340" stop-color="#2d3291"/><stop offset="0.378" stop-color="#21317f"/><stop offset="0.421" stop-color="#14306d"/><stop offset="0.469" stop-color="#0c2f61"/><stop offset="0.540" stop-color="#0a2c55"/><stop offset="0.636" stop-color="#072948"/><stop offset="0.779" stop-color="#05263d"/><stop offset="0.969" stop-color="#042436"/><stop offset="1.065" stop-color="#032334"/></linearGradient><linearGradient id="g80" gradientUnits="userSpaceOnUse" x1="0" y1="85" x2="0" y2="500"><stop offset="0.015" stop-color="#eaf256"/><stop offset="0.025" stop-color="#edeb52"/><stop offset="0.035" stop-color="#f0e34e"/><stop offset="0.044" stop-color="#f2dc4b"/><stop offset="0.054" stop-color="#f5d547"/><stop offset="0.063" stop-color="#f7c943"/><stop offset="0.073" stop-color="#f9bc40"/><stop offset="0.082" stop-color="#fbab3c"/><stop offset="0.092" stop-color="#f89941"/><stop offset="0.101" stop-color="#f68b45"/><stop offset="0.111" stop-color="#ec7f52"/><stop offset="0.123" stop-color="#db6f65"/><stop offset="0.135" stop-color="#c76675"/><stop offset="0.147" stop-color="#b6607e"/><stop offset="0.159" stop-color="#a65b84"/><stop offset="0.178" stop-color="#8f548b"/><stop offset="0.197" stop-color="#7c4c90"/><stop offset="0.216" stop-color="#6e4694"/><stop offset="0.235" stop-color="#603f98"/><stop offset="0.254" stop-color="#523b9a"/><stop offset="0.278" stop-color="#45379a"/><stop offset="0.302" stop-color="#3b349b"/><stop offset="0.340" stop-color="#2d3291"/><stop offset="0.378" stop-color="#21317f"/><stop offset="0.421" stop-color="#14306d"/><stop offset="0.469" stop-color="#0c2f61"/><stop offset="0.540" stop-color="#0a2c55"/><stop offset="0.636" stop-color="#072948"/><stop offset="0.779" stop-color="#05263d"/><stop offset="0.969" stop-color="#042436"/><stop offset="1.065" stop-color="#032334"/></linearGradient><linearGradient id="g81" gradientUnits="userSpaceOnUse" x1="0" y1="85" x2="0" y2="500"><stop offset="0.015" stop-color="#ebf055"/><stop offset="0.025" stop-color="#ede951"/><stop offset="0.035" stop-color="#f0e24e"/><stop offset="0.044" stop-color="#f3db4a"/><stop offset="0.054" stop-color="#f5d447"/><stop offset="0.063" stop-color="#f7c843"/><stop offset="0.073" stop-color="#f9bc40"/><stop offset="0.082" stop-color="#fbab3d"/><stop offset="0.092" stop-color="#f89841"/><stop offset="0.101" stop-color="#f58a46"/><stop offset="0.111" stop-color="#ec7e53"/><stop offset="0.123" stop-color="#db6e66"/><stop offset="0.135" stop-color="#c66675"/><stop offset="0.147" stop-color="#b5607e"/><stop offset="0.159" stop-color="#a55b84"/><stop offset="0.178" stop-color="#8f538b"/><stop offset="0.197" stop-color="#7b4c90"/><stop offset="0.216" stop-color="#6e4694"/><stop offset="0.235" stop-color="#603f98"/><stop offset="0.254" stop-color="#523b9a"/><stop offset="0.278" stop-color="#45379a"/><stop offset="0.302" stop-color="#3b349b"/><stop offset="0.340" stop-color="#2d3291"/><stop offset="0.378" stop-color="#21317f"/><stop offset="0.421" stop-color="#14306d"/><stop offset="0.469" stop-color="#0c2f61"/><stop offset="0.540" stop-color="#0a2c55"/><stop offset="0.636" stop-color="#072948"/><stop offset="0.779" stop-color="#05263d"/><stop offset="0.969" stop-color="#042436"/><stop offset="1.065" stop-color="#032334"/></linearGradient><linearGradient id="g82" gradientUnits="userSpaceOnUse" x1="0" y1="85" x2="0" y2="500"><stop offset="0.015" stop-color="#edeb52"/><stop offset="0.025" stop-color="#efe44f"/><stop offset="0.035" stop-color="#f2de4c"/><stop offset="0.044" stop-color="#f4d849"/><stop offset="0.054" stop-color="#f6d145"/><stop offset="0.063" stop-color="#f8c542"/><stop offset="0.073" stop-color="#f9b93f"/><stop offset="0.082" stop-color="#faa83d"/><stop offset="0.092" stop-color="#f89642"/><stop offset="0.101" stop-color="#f48848"/><stop offset="0.111" stop-color="#ea7d55"/><stop offset="0.123" stop-color="#d96e67"/><stop offset="0.135" stop-color="#c56676"/><stop offset="0.147" stop-color="#b4607e"/><stop offset="0.159" stop-color="#a45b84"/><stop offset="0.178" stop-color="#8f538b"/><stop offset="0.197" stop-color="#7b4c90"/><stop offset="0.216" stop-color="#6e4694"/><stop offset="0.235" stop-color="#603f98"/><stop offset="0.254" stop-color="#523b9a"/><stop offset="0.278" stop-color="#45379a"/><stop offset="0.302" stop-color="#3b349b"/><stop offset="0.340" stop-color="#2d3291"/><stop offset="0.378" stop-color="#21317f"/><stop offset="0.421" stop-color="#14306d"/><stop offset="0.469" stop-color="#0c2f61"/><stop offset="0.540" stop-color="#0a2c55"/><stop offset="0.636" stop-color="#072948"/><stop offset="0.779" stop-color="#05263d"/><stop offset="0.969" stop-color="#042436"/><stop offset="1.065" stop-color="#032334"/></linearGradient><linearGradient id="g83" gradientUnits="userSpaceOnUse" x1="0" y1="85" x2="0" y2="500"><stop offset="0.015" stop-color="#ede951"/><stop offset="0.025" stop-color="#f0e34e"/><stop offset="0.035" stop-color="#f2dd4b"/><stop offset="0.044" stop-color="#f5d748"/><stop offset="0.054" stop-color="#f6d045"/><stop offset="0.063" stop-color="#f8c442"/><stop offset="0.073" stop-color="#fab83f"/><stop offset="0.082" stop-color="#faa73e"/><stop offset="0.092" stop-color="#f89642"/><stop offset="0.101" stop-color="#f48848"/><stop offset="0.111" stop-color="#ea7c55"/><stop offset="0.123" stop-color="#d86d68"/><stop offset="0.135" stop-color="#c46577"/><stop offset="0.147" stop-color="#b4607e"/><stop offset="0.159" stop-color="#a45b85"/><stop offset="0.178" stop-color="#8e538b"/><stop offset="0.197" stop-color="#7b4c90"/><stop offset="0.216" stop-color="#6e4694"/><stop offset="0.235" stop-color="#603f98"/><stop offset="0.254" stop-color="#523b9a"/><stop offset="0.278" stop-color="#45379a"/><stop offset="0.302" stop-color="#3b349b"/><stop offset="0.340" stop-color="#2d3291"/><stop offset="0.378" stop-color="#21317f"/><stop offset="0.421" stop-color="#14306d"/><stop offset="0.469" stop-color="#0c2f61"/><stop offset="0.540" stop-color="#0a2c55"/><stop offset="0.636" stop-color="#072948"/><stop offset="0.779" stop-color="#05263d"/><stop offset="0.969" stop-color="#042436"/><stop offset="1.065" stop-color="#032334"/></linearGradient><linearGradient id="g84" gradientUnits="userSpaceOnUse" x1="0" y1="85" x2="0" y2="500"><stop offset="0.015" stop-color="#ede951"/><stop offset="0.025" stop-color="#f0e34e"/><stop offset="0.035" stop-color="#f2dd4b"/><stop offset="0.044" stop-color="#f5d748"/><stop offset="0.054" stop-color="#f6d045"/><stop offset="0.063" stop-color="#f8c442"/><stop offset="0.073" stop-color="#fab83f"/><stop offset="0.082" stop-color="#faa73e"/><stop offset="0.092" stop-color="#f89642"/><stop offset="0.101" stop-color="#f48848"/><stop offset="0.111" stop-color="#ea7c55"/><stop offset="0.123" stop-color="#d86d68"/><stop offset="0.135" stop-color="#c46577"/><stop offset="0.147" stop-color="#b4607e"/><stop offset="0.159" stop-color="#a45b85"/><stop offset="0.178" stop-color="#8e538b"/><stop offset="0.197" stop-color="#7b4c90"/><stop offset="0.216" stop-color="#6e4694"/><stop offset="0.235" stop-color="#603f98"/><stop offset="0.254" stop-color="#523b9a"/><stop offset="0.278" stop-color="#45379a"/><stop offset="0.302" stop-color="#3b349b"/><stop offset="0.340" stop-color="#2d3291"/><stop offset="0.378" stop-color="#21317f"/><stop offset="0.421" stop-color="#14306d"/><stop offset="0.469" stop-color="#0c2f61"/><stop offset="0.540" stop-color="#0a2c55"/><stop offset="0.636" stop-color="#072948"/><stop offset="0.779" stop-color="#05263d"/><stop offset="0.969" stop-color="#042436"/><stop offset="1.065" stop-color="#032334"/></linearGradient><linearGradient id="g85" gradientUnits="userSpaceOnUse" x1="0" y1="85" x2="0" y2="500"><stop offset="0.015" stop-color="#efe650"/><stop offset="0.025" stop-color="#f1e04d"/><stop offset="0.035" stop-color="#f3db4a"/><stop offset="0.044" stop-color="#f5d547"/><stop offset="0.054" stop-color="#f7ce45"/><stop offset="0.063" stop-color="#f8c242"/><stop offset="0.073" stop-color="#fab73f"/><stop offset="0.082" stop-color="#faa53e"/><stop offset="0.092" stop-color="#f79443"/><stop offset="0.101" stop-color="#f38749"/><stop offset="0.111" stop-color="#e97b56"/><stop offset="0.123" stop-color="#d76d69"/><stop offset="0.135" stop-color="#c36577"/><stop offset="0.147" stop-color="#b3607f"/><stop offset="0.159" stop-color="#a35b85"/><stop offset="0.178" stop-color="#8e538b"/><stop offset="0.197" stop-color="#7b4c90"/><stop offset="0.216" stop-color="#6d4594"/><stop offset="0.235" stop-color="#603f98"/><stop offset="0.254" stop-color="#523b9a"/><stop offset="0.278" stop-color="#45379a"/><stop offset="0.302" stop-color="#3b349b"/><stop offset="0.340" stop-color="#2d3291"/><stop offset="0.378" stop-color="#21317f"/><stop offset="0.421" stop-color="#14306d"/><stop offset="0.469" stop-color="#0c2f61"/><stop offset="0.540" stop-color="#0a2c55"/><stop offset="0.636" stop-color="#072948"/><stop offset="0.779" stop-color="#05263d"/><stop offset="0.969" stop-color="#042436"/><stop offset="1.065" stop-color="#032334"/></linearGradient><linearGradient id="g86" gradientUnits="userSpaceOnUse" x1="0" y1="85" x2="0" y2="500"><stop offset="0.015" stop-color="#f3db4a"/><stop offset="0.025" stop-color="#f5d748"/><stop offset="0.035" stop-color="#f6d246"/><stop offset="0.044" stop-color="#f7ce45"/><stop offset="0.054" stop-color="#f8c643"/><stop offset="0.063" stop-color="#f9bc40"/><stop offset="0.073" stop-color="#fbb03d"/><stop offset="0.082" stop-color="#f9a03f"/><stop offset="0.092" stop-color="#f79044"/><stop offset="0.101" stop-color="#f0844d"/><stop offset="0.111" stop-color="#e6775b"/><stop offset="0.123" stop-color="#d36b6c"/><stop offset="0.135" stop-color="#c06479"/><stop offset="0.147" stop-color="#b05f80"/><stop offset="0.159" stop-color="#a15a86"/><stop offset="0.178" stop-color="#8c528b"/><stop offset="0.197" stop-color="#7a4b90"/><stop offset="0.216" stop-color="#6d4594"/><stop offset="0.235" stop-color="#603f98"/><stop offset="0.254" stop-color="#523b9a"/><stop offset="0.278" stop-color="#45379a"/><stop offset="0.302" stop-color="#3b349b"/><stop offset="0.340" stop-color="#2d3291"/><stop offset="0.378" stop-color="#21317f"/><stop offset="0.421" stop-color="#14306d"/><stop offset="0.469" stop-color="#0c2f61"/><stop offset="0.540" stop-color="#0a2c55"/><stop offset="0.636" stop-color="#072948"/><stop offset="0.779" stop-color="#05263d"/><stop offset="0.969" stop-color="#042436"/><stop offset="1.065" stop-color="#032334"/></linearGradient><linearGradient id="g87" gradientUnits="userSpaceOnUse" x1="0" y1="85" x2="0" y2="500"><stop offset="0.015" stop-color="#f4d849"/><stop offset="0.025" stop-color="#f6d447"/><stop offset="0.035" stop-color="#f6d045"/><stop offset="0.044" stop-color="#f7cc44"/><stop offset="0.054" stop-color="#f8c442"/><stop offset="0.063" stop-color="#f9ba3f"/><stop offset="0.073" stop-color="#fbae3c"/><stop offset="0.082" stop-color="#f99e40"/><stop offset="0.092" stop-color="#f78f44"/><stop offset="0.101" stop-color="#ef834e"/><stop offset="0.111" stop-color="#e5765c"/><stop offset="0.123" stop-color="#d26b6d"/><stop offset="0.135" stop-color="#bf637a"/><stop offset="0.147" stop-color="#b05f80"/><stop offset="0.159" stop-color="#a15a86"/><stop offset="0.178" stop-color="#8c528b"/><stop offset="0.197" stop-color="#7a4b90"/><stop offset="0.216" stop-color="#6d4594"/><stop offset="0.235" stop-color="#603f98"/><stop offset="0.254" stop-color="#523b9a"/><stop offset="0.278" stop-color="#45379a"/><stop offset="0.302" stop-color="#3b349b"/><stop offset="0.340" stop-color="#2d3291"/><stop offset="0.378" stop-color="#21317f"/><stop offset="0.421" stop-color="#14306d"/><stop offset="0.469" stop-color="#0c2f61"/><stop offset="0.540" stop-color="#0a2c55"/><stop offset="0.636" stop-color="#072948"/><stop offset="0.779" stop-color="#05263d"/><stop offset="0.969" stop-color="#042436"/><stop offset="1.065" stop-color="#032334"/></linearGradient><linearGradient id="g88" gradientUnits="userSpaceOnUse" x1="0" y1="85" x2="0" y2="500"><stop offset="0.015" stop-color="#f4d849"/><stop offset="0.025" stop-color="#f6d447"/><stop offset="0.035" stop-color="#f6d045"/><stop offset="0.044" stop-color="#f7cc44"/><stop offset="0.054" stop-color="#f8c442"/><stop offset="0.063" stop-color="#f9ba3f"/><stop offset="0.073" stop-color="#fbae3c"/><stop offset="0.082" stop-color="#f99e40"/><stop offset="0.092" stop-color="#f78f44"/><stop offset="0.101" stop-color="#ef834e"/><stop offset="0.111" stop-color="#e5765c"/><stop offset="0.123" stop-color="#d26b6d"/><stop offset="0.135" stop-color="#bf637a"/><stop offset="0.147" stop-color="#b05f80"/><stop offset="0.159" stop-color="#a15a86"/><stop offset="0.178" stop-color="#8c528b"/><stop offset="0.197" stop-color="#7a4b90"/><stop offset="0.216" stop-color="#6d4594"/><stop offset="0.235" stop-color="#603f98"/><stop offset="0.254" stop-color="#523b9a"/><stop offset="0.278" stop-color="#45379a"/><stop offset="0.302" stop-color="#3b349b"/><stop offset="0.340" stop-color="#2d3291"/><stop offset="0.378" stop-color="#21317f"/><stop offset="0.421" stop-color="#14306d"/><stop offset="0.469" stop-color="#0c2f61"/><stop offset="0.540" stop-color="#0a2c55"/><stop offset="0.636" stop-color="#072948"/><stop offset="0.779" stop-color="#05263d"/><stop offset="0.969" stop-color="#042436"/><stop offset="1.065" stop-color="#032334"/></linearGradient><linearGradient id="g89" gradientUnits="userSpaceOnUse" x1="0" y1="85" x2="0" y2="500"><stop offset="0.015" stop-color="#f4d849"/><stop offset="0.025" stop-color="#f6d447"/><stop offset="0.035" stop-color="#f6d045"/><stop offset="0.044" stop-color="#f7cc44"/><stop offset="0.054" stop-color="#f8c442"/><stop offset="0.063" stop-color="#f9ba3f"/><stop offset="0.073" stop-color="#fbae3c"/><stop offset="0.082" stop-color="#f99e40"/><stop offset="0.092" stop-color="#f78f44"/><stop offset="0.101" stop-color="#ef834e"/><stop offset="0.111" stop-color="#e5765c"/><stop offset="0.123" stop-color="#d26b6d"/><stop offset="0.135" stop-color="#bf637a"/><stop offset="0.147" stop-color="#b05f80"/><stop offset="0.159" stop-color="#a15a86"/><stop offset="0.178" stop-color="#8c528b"/><stop offset="0.197" stop-color="#7a4b90"/><stop offset="0.216" stop-color="#6d4594"/><stop offset="0.235" stop-color="#603f98"/><stop offset="0.254" stop-color="#523b9a"/><stop offset="0.278" stop-color="#45379a"/><stop offset="0.302" stop-color="#3b349b"/><stop offset="0.340" stop-color="#2d3291"/><stop offset="0.378" stop-color="#21317f"/><stop offset="0.421" stop-color="#14306d"/><stop offset="0.469" stop-color="#0c2f61"/><stop offset="0.540" stop-color="#0a2c55"/><stop offset="0.636" stop-color="#072948"/><stop offset="0.779" stop-color="#05263d"/><stop offset="0.969" stop-color="#042436"/><stop offset="1.065" stop-color="#032334"/></linearGradient><linearGradient id="g90" gradientUnits="userSpaceOnUse" x1="0" y1="85" x2="0" y2="500"><stop offset="0.015" stop-color="#f6d447"/><stop offset="0.025" stop-color="#f6d045"/><stop offset="0.035" stop-color="#f7cd44"/><stop offset="0.044" stop-color="#f7c943"/><stop offset="0.054" stop-color="#f8c141"/><stop offset="0.063" stop-color="#fab83f"/><stop offset="0.073" stop-color="#fbab3d"/><stop offset="0.082" stop-color="#f99c40"/><stop offset="0.092" stop-color="#f68d44"/><stop offset="0.101" stop-color="#ee814f"/><stop offset="0.111" stop-color="#e4745e"/><stop offset="0.123" stop-color="#d06a6e"/><stop offset="0.135" stop-color="#be637a"/><stop offset="0.147" stop-color="#af5e80"/><stop offset="0.159" stop-color="#a05a86"/><stop offset="0.178" stop-color="#8c528c"/><stop offset="0.197" stop-color="#7a4b90"/><stop offset="0.216" stop-color="#6d4594"/><stop offset="0.235" stop-color="#603f98"/><stop offset="0.254" stop-color="#523b9a"/><stop offset="0.278" stop-color="#45379a"/><stop offset="0.302" stop-color="#3b349b"/><stop offset="0.340" stop-color="#2d3291"/><stop offset="0.378" stop-color="#21317f"/><stop offset="0.421" stop-color="#14306d"/><stop offset="0.469" stop-color="#0c2f61"/><stop offset="0.540" stop-color="#0a2c55"/><stop offset="0.636" stop-color="#072948"/><stop offset="0.779" stop-color="#05263d"/><stop offset="0.969" stop-color="#042436"/><stop offset="1.065" stop-color="#032334"/></linearGradient><linearGradient id="g91" gradientUnits="userSpaceOnUse" x1="0" y1="85" x2="0" y2="500"><stop offset="0.015" stop-color="#f8c743"/><stop offset="0.025" stop-color="#f8c542"/><stop offset="0.035" stop-color="#f8c342"/><stop offset="0.044" stop-color="#f9be41"/><stop offset="0.054" stop-color="#fab73f"/><stop offset="0.063" stop-color="#fbaf3d"/><stop offset="0.073" stop-color="#f9a23f"/><stop offset="0.082" stop-color="#f79542"/><stop offset="0.092" stop-color="#f48848"/><stop offset="0.101" stop-color="#eb7d54"/><stop offset="0.111" stop-color="#df7063"/><stop offset="0.123" stop-color="#cb6871"/><stop offset="0.135" stop-color="#ba627c"/><stop offset="0.147" stop-color="#ab5d82"/><stop offset="0.159" stop-color="#9d5987"/><stop offset="0.178" stop-color="#8a518c"/><stop offset="0.197" stop-color="#794b91"/><stop offset="0.216" stop-color="#6c4594"/><stop offset="0.235" stop-color="#5f3f98"/><stop offset="0.254" stop-color="#523b9a"/><stop offset="0.278" stop-color="#45379a"/><stop offset="0.302" stop-color="#3b349b"/><stop offset="0.340" stop-color="#2d3291"/><stop offset="0.378" stop-color="#21317f"/><stop offset="0.421" stop-color="#14306d"/><stop offset="0.469" stop-color="#0c2f61"/><stop offset="0.540" stop-color="#0a2c55"/><stop offset="0.636" stop-color="#072948"/><stop offset="0.779" stop-color="#05263d"/><stop offset="0.969" stop-color="#042436"/><stop offset="1.065" stop-color="#032334"/></linearGradient><linearGradient id="g92" gradientUnits="userSpaceOnUse" x1="0" y1="85" x2="0" y2="500"><stop offset="0.015" stop-color="#f8c242"/><stop offset="0.025" stop-color="#f8c141"/><stop offset="0.035" stop-color="#f9c041"/><stop offset="0.044" stop-color="#f9bb40"/><stop offset="0.054" stop-color="#fab43e"/><stop offset="0.063" stop-color="#fbac3c"/><stop offset="0.073" stop-color="#f9a040"/><stop offset="0.082" stop-color="#f79343"/><stop offset="0.092" stop-color="#f3874a"/><stop offset="0.101" stop-color="#e97b56"/><stop offset="0.111" stop-color="#dd6f64"/><stop offset="0.123" stop-color="#ca6872"/><stop offset="0.135" stop-color="#b9627c"/><stop offset="0.147" stop-color="#aa5d82"/><stop offset="0.159" stop-color="#9c5887"/><stop offset="0.178" stop-color="#89518c"/><stop offset="0.197" stop-color="#784a91"/><stop offset="0.216" stop-color="#6c4595"/><stop offset="0.235" stop-color="#5f3f98"/><stop offset="0.254" stop-color="#523b9a"/><stop offset="0.278" stop-color="#45379a"/><stop offset="0.302" stop-color="#3b349b"/><stop offset="0.340" stop-color="#2d3291"/><stop offset="0.378" stop-color="#21317f"/><stop offset="0.421" stop-color="#14306d"/><stop offset="0.469" stop-color="#0c2f61"/><stop offset="0.540" stop-color="#0a2c55"/><stop offset="0.636" stop-color="#072948"/><stop offset="0.779" stop-color="#05263d"/><stop offset="0.969" stop-color="#042436"/><stop offset="1.065" stop-color="#032334"/></linearGradient><linearGradient id="g93" gradientUnits="userSpaceOnUse" x1="0" y1="85" x2="0" y2="500"><stop offset="0.015" stop-color="#f8c242"/><stop offset="0.025" stop-color="#f8c141"/><stop offset="0.035" stop-color="#f9c041"/><stop offset="0.044" stop-color="#f9bb40"/><stop offset="0.054" stop-color="#fab43e"/><stop offset="0.063" stop-color="#fbac3c"/><stop offset="0.073" stop-color="#f9a040"/><stop offset="0.082" stop-color="#f79343"/><stop offset="0.092" stop-color="#f3874a"/><stop offset="0.101" stop-color="#e97b56"/><stop offset="0.111" stop-color="#dd6f64"/><stop offset="0.123" stop-color="#ca6872"/><stop offset="0.135" stop-color="#b9627c"/><stop offset="0.147" stop-color="#aa5d82"/><stop offset="0.159" stop-color="#9c5887"/><stop offset="0.178" stop-color="#89518c"/><stop offset="0.197" stop-color="#784a91"/><stop offset="0.216" stop-color="#6c4595"/><stop offset="0.235" stop-color="#5f3f98"/><stop offset="0.254" stop-color="#523b9a"/><stop offset="0.278" stop-color="#45379a"/><stop offset="0.302" stop-color="#3b349b"/><stop offset="0.340" stop-color="#2d3291"/><stop offset="0.378" stop-color="#21317f"/><stop offset="0.421" stop-color="#14306d"/><stop offset="0.469" stop-color="#0c2f61"/><stop offset="0.540" stop-color="#0a2c55"/><stop offset="0.636" stop-color="#072948"/><stop offset="0.779" stop-color="#05263d"/><stop offset="0.969" stop-color="#042436"/><stop offset="1.065" stop-color="#032334"/></linearGradient><linearGradient id="g94" gradientUnits="userSpaceOnUse" x1="0" y1="85" x2="0" y2="500"><stop offset="0.015" stop-color="#f8c242"/><stop offset="0.025" stop-color="#f8c141"/><stop offset="0.035" stop-color="#f9c041"/><stop offset="0.044" stop-color="#f9bb40"/><stop offset="0.054" stop-color="#fab43e"/><stop offset="0.063" stop-color="#fbac3c"/><stop offset="0.073" stop-color="#f9a040"/><stop offset="0.082" stop-color="#f79343"/><stop offset="0.092" stop-color="#f3874a"/><stop offset="0.101" stop-color="#e97b56"/><stop offset="0.111" stop-color="#dd6f64"/><stop offset="0.123" stop-color="#ca6872"/><stop offset="0.135" stop-color="#b9627c"/><stop offset="0.147" stop-color="#aa5d82"/><stop offset="0.159" stop-color="#9c5887"/><stop offset="0.178" stop-color="#89518c"/><stop offset="0.197" stop-color="#784a91"/><stop offset="0.216" stop-color="#6c4595"/><stop offset="0.235" stop-color="#5f3f98"/><stop offset="0.254" stop-color="#523b9a"/><stop offset="0.278" stop-color="#45379a"/><stop offset="0.302" stop-color="#3b349b"/><stop offset="0.340" stop-color="#2d3291"/><stop offset="0.378" stop-color="#21317f"/><stop offset="0.421" stop-color="#14306d"/><stop offset="0.469" stop-color="#0c2f61"/><stop offset="0.540" stop-color="#0a2c55"/><stop offset="0.636" stop-color="#072948"/><stop offset="0.779" stop-color="#05263d"/><stop offset="0.969" stop-color="#042436"/><stop offset="1.065" stop-color="#032334"/></linearGradient><linearGradient id="g95" gradientUnits="userSpaceOnUse" x1="0" y1="85" x2="0" y2="500"><stop offset="0.015" stop-color="#f8c041"/><stop offset="0.025" stop-color="#f9bf41"/><stop offset="0.035" stop-color="#f9be40"/><stop offset="0.044" stop-color="#f9b93f"/><stop offset="0.054" stop-color="#fab23d"/><stop offset="0.063" stop-color="#fbaa3d"/><stop offset="0.073" stop-color="#f99e40"/><stop offset="0.082" stop-color="#f79243"/><stop offset="0.092" stop-color="#f2864a"/><stop offset="0.101" stop-color="#e97b57"/><stop offset="0.111" stop-color="#dc6f65"/><stop offset="0.123" stop-color="#c96773"/><stop offset="0.135" stop-color="#b9617c"/><stop offset="0.147" stop-color="#aa5d82"/><stop offset="0.159" stop-color="#9c5887"/><stop offset="0.178" stop-color="#89518c"/><stop offset="0.197" stop-color="#784a91"/><stop offset="0.216" stop-color="#6c4595"/><stop offset="0.235" stop-color="#5f3f98"/><stop offset="0.254" stop-color="#523b9a"/><stop offset="0.278" stop-color="#45379a"/><stop offset="0.302" stop-color="#3b349b"/><stop offset="0.340" stop-color="#2d3291"/><stop offset="0.378" stop-color="#21317f"/><stop offset="0.421" stop-color="#14306d"/><stop offset="0.469" stop-color="#0c2f61"/><stop offset="0.540" stop-color="#0a2c55"/><stop offset="0.636" stop-color="#072948"/><stop offset="0.779" stop-color="#05263d"/><stop offset="0.969" stop-color="#042436"/><stop offset="1.065" stop-color="#032334"/></linearGradient><linearGradient id="g96" gradientUnits="userSpaceOnUse" x1="0" y1="85" x2="0" y2="500"><stop offset="0.015" stop-color="#f9b93f"/><stop offset="0.025" stop-color="#f9b93f"/><stop offset="0.035" stop-color="#fab83f"/><stop offset="0.044" stop-color="#fab33d"/><stop offset="0.054" stop-color="#fbad3c"/><stop offset="0.063" stop-color="#faa53e"/><stop offset="0.073" stop-color="#f89941"/><stop offset="0.082" stop-color="#f68e44"/><stop offset="0.092" stop-color="#f0834d"/><stop offset="0.101" stop-color="#e6785a"/><stop offset="0.111" stop-color="#d86e67"/><stop offset="0.123" stop-color="#c66675"/><stop offset="0.135" stop-color="#b7617d"/><stop offset="0.147" stop-color="#a85c83"/><stop offset="0.159" stop-color="#9b5888"/><stop offset="0.178" stop-color="#88518d"/><stop offset="0.197" stop-color="#784a91"/><stop offset="0.216" stop-color="#6b4595"/><stop offset="0.235" stop-color="#5f3f98"/><stop offset="0.254" stop-color="#523b9a"/><stop offset="0.278" stop-color="#45379a"/><stop offset="0.302" stop-color="#3b349b"/><stop offset="0.340" stop-color="#2d3291"/><stop offset="0.378" stop-color="#21317f"/><stop offset="0.421" stop-color="#14306d"/><stop offset="0.469" stop-color="#0c2f61"/><stop offset="0.540" stop-color="#0a2c55"/><stop offset="0.636" stop-color="#072948"/><stop offset="0.779" stop-color="#05263d"/><stop offset="0.969" stop-color="#042436"/><stop offset="1.065" stop-color="#032334"/></linearGradient><linearGradient id="g97" gradientUnits="userSpaceOnUse" x1="0" y1="85" x2="0" y2="500"><stop offset="0.015" stop-color="#fab73f"/><stop offset="0.025" stop-color="#fab73f"/><stop offset="0.035" stop-color="#fab63e"/><stop offset="0.044" stop-color="#fbb13d"/><stop offset="0.054" stop-color="#fbab3c"/><stop offset="0.063" stop-color="#faa33f"/><stop offset="0.073" stop-color="#f89842"/><stop offset="0.082" stop-color="#f68d45"/><stop offset="0.092" stop-color="#ef834e"/><stop offset="0.101" stop-color="#e6775b"/><stop offset="0.111" stop-color="#d76d68"/><stop offset="0.123" stop-color="#c66676"/><stop offset="0.135" stop-color="#b6617d"/><stop offset="0.147" stop-color="#a85c83"/><stop offset="0.159" stop-color="#9a5888"/><stop offset="0.178" stop-color="#88518d"/><stop offset="0.197" stop-color="#784a91"/><stop offset="0.216" stop-color="#6b4495"/><stop offset="0.235" stop-color="#5f3f98"/><stop offset="0.254" stop-color="#523b9a"/><stop offset="0.278" stop-color="#45379a"/><stop offset="0.302" stop-color="#3b349b"/><stop offset="0.340" stop-color="#2d3291"/><stop offset="0.378" stop-color="#21317f"/><stop offset="0.421" stop-color="#14306d"/><stop offset="0.469" stop-color="#0c2f61"/><stop offset="0.540" stop-color="#0a2c55"/><stop offset="0.636" stop-color="#072948"/><stop offset="0.779" stop-color="#05263d"/><stop offset="0.969" stop-color="#042436"/><stop offset="1.065" stop-color="#032334"/></linearGradient><linearGradient id="g98" gradientUnits="userSpaceOnUse" x1="0" y1="85" x2="0" y2="500"><stop offset="0.015" stop-color="#fab73f"/><stop offset="0.025" stop-color="#fab73f"/><stop offset="0.035" stop-color="#fab63e"/><stop offset="0.044" stop-color="#fbb13d"/><stop offset="0.054" stop-color="#fbab3c"/><stop offset="0.063" stop-color="#faa33f"/><stop offset="0.073" stop-color="#f89842"/><stop offset="0.082" stop-color="#f68d45"/><stop offset="0.092" stop-color="#ef834e"/><stop offset="0.101" stop-color="#e6775b"/><stop offset="0.111" stop-color="#d76d68"/><stop offset="0.123" stop-color="#c66676"/><stop offset="0.135" stop-color="#b6617d"/><stop offset="0.147" stop-color="#a85c83"/><stop offset="0.159" stop-color="#9a5888"/><stop offset="0.178" stop-color="#88518d"/><stop offset="0.197" stop-color="#784a91"/><stop offset="0.216" stop-color="#6b4495"/><stop offset="0.235" stop-color="#5f3f98"/><stop offset="0.254" stop-color="#523b9a"/><stop offset="0.278" stop-color="#45379a"/><stop offset="0.302" stop-color="#3b349b"/><stop offset="0.340" stop-color="#2d3291"/><stop offset="0.378" stop-color="#21317f"/><stop offset="0.421" stop-color="#14306d"/><stop offset="0.469" stop-color="#0c2f61"/><stop offset="0.540" stop-color="#0a2c55"/><stop offset="0.636" stop-color="#072948"/><stop offset="0.779" stop-color="#05263d"/><stop offset="0.969" stop-color="#042436"/><stop offset="1.065" stop-color="#032334"/></linearGradient><linearGradient id="g99" gradientUnits="userSpaceOnUse" x1="0" y1="85" x2="0" y2="500"><stop offset="0.015" stop-color="#fab73f"/><stop offset="0.025" stop-color="#fab73f"/><stop offset="0.035" stop-color="#fab63e"/><stop offset="0.044" stop-color="#fbb13d"/><stop offset="0.054" stop-color="#fbab3c"/><stop offset="0.063" stop-color="#faa33f"/><stop offset="0.073" stop-color="#f89842"/><stop offset="0.082" stop-color="#f68d45"/><stop offset="0.092" stop-color="#ef834e"/><stop offset="0.101" stop-color="#e6775b"/><stop offset="0.111" stop-color="#d76d68"/><stop offset="0.123" stop-color="#c66676"/><stop offset="0.135" stop-color="#b6617d"/><stop offset="0.147" stop-color="#a85c83"/><stop offset="0.159" stop-color="#9a5888"/><stop offset="0.178" stop-color="#88518d"/><stop offset="0.197" stop-color="#784a91"/><stop offset="0.216" stop-color="#6b4495"/><stop offset="0.235" stop-color="#5f3f98"/><stop offset="0.254" stop-color="#523b9a"/><stop offset="0.278" stop-color="#45379a"/><stop offset="0.302" stop-color="#3b349b"/><stop offset="0.340" stop-color="#2d3291"/><stop offset="0.378" stop-color="#21317f"/><stop offset="0.421" stop-color="#14306d"/><stop offset="0.469" stop-color="#0c2f61"/><stop offset="0.540" stop-color="#0a2c55"/><stop offset="0.636" stop-color="#072948"/><stop offset="0.779" stop-color="#05263d"/><stop offset="0.969" stop-color="#042436"/><stop offset="1.065" stop-color="#032334"/></linearGradient><linearGradient id="g100" gradientUnits="userSpaceOnUse" x1="0" y1="85" x2="0" y2="500"><stop offset="0.015" stop-color="#fab73f"/><stop offset="0.025" stop-color="#fab73f"/><stop offset="0.035" stop-color="#fab63e"/><stop offset="0.044" stop-color="#fbb13d"/><stop offset="0.054" stop-color="#fbab3c"/><stop offset="0.063" stop-color="#faa33f"/><stop offset="0.073" stop-color="#f89842"/><stop offset="0.082" stop-color="#f68d45"/><stop offset="0.092" stop-color="#ef834e"/><stop offset="0.101" stop-color="#e6775b"/><stop offset="0.111" stop-color="#d76d68"/><stop offset="0.123" stop-color="#c66676"/><stop offset="0.135" stop-color="#b6617d"/><stop offset="0.147" stop-color="#a85c83"/><stop offset="0.159" stop-color="#9a5888"/><stop offset="0.178" stop-color="#88518d"/><stop offset="0.197" stop-color="#784a91"/><stop offset="0.216" stop-color="#6b4495"/><stop offset="0.235" stop-color="#5f3f98"/><stop offset="0.254" stop-color="#523b9a"/><stop offset="0.278" stop-color="#45379a"/><stop offset="0.302" stop-color="#3b349b"/><stop offset="0.340" stop-color="#2d3291"/><stop offset="0.378" stop-color="#21317f"/><stop offset="0.421" stop-color="#14306d"/><stop offset="0.469" stop-color="#0c2f61"/><stop offset="0.540" stop-color="#0a2c55"/><stop offset="0.636" stop-color="#072948"/><stop offset="0.779" stop-color="#05263d"/><stop offset="0.969" stop-color="#042436"/><stop offset="1.065" stop-color="#032334"/></linearGradient><linearGradient id="g101" gradientUnits="userSpaceOnUse" x1="0" y1="85" x2="0" y2="500"><stop offset="0.015" stop-color="#fab73f"/><stop offset="0.025" stop-color="#fab73f"/><stop offset="0.035" stop-color="#fab63e"/><stop offset="0.044" stop-color="#fbb13d"/><stop offset="0.054" stop-color="#fbab3c"/><stop offset="0.063" stop-color="#faa33f"/><stop offset="0.073" stop-color="#f89842"/><stop offset="0.082" stop-color="#f68d45"/><stop offset="0.092" stop-color="#ef834e"/><stop offset="0.101" stop-color="#e6775b"/><stop offset="0.111" stop-color="#d76d68"/><stop offset="0.123" stop-color="#c66676"/><stop offset="0.135" stop-color="#b6617d"/><stop offset="0.147" stop-color="#a85c83"/><stop offset="0.159" stop-color="#9a5888"/><stop offset="0.178" stop-color="#88518d"/><stop offset="0.197" stop-color="#784a91"/><stop offset="0.216" stop-color="#6b4495"/><stop offset="0.235" stop-color="#5f3f98"/><stop offset="0.254" stop-color="#523b9a"/><stop offset="0.278" stop-color="#45379a"/><stop offset="0.302" stop-color="#3b349b"/><stop offset="0.340" stop-color="#2d3291"/><stop offset="0.378" stop-color="#21317f"/><stop offset="0.421" stop-color="#14306d"/><stop offset="0.469" stop-color="#0c2f61"/><stop offset="0.540" stop-color="#0a2c55"/><stop offset="0.636" stop-color="#072948"/><stop offset="0.779" stop-color="#05263d"/><stop offset="0.969" stop-color="#042436"/><stop offset="1.065" stop-color="#032334"/></linearGradient><linearGradient id="g102" gradientUnits="userSpaceOnUse" x1="0" y1="85" x2="0" y2="500"><stop offset="0.015" stop-color="#fab73f"/><stop offset="0.025" stop-color="#fab73f"/><stop offset="0.035" stop-color="#fab63e"/><stop offset="0.044" stop-color="#fbb13d"/><stop offset="0.054" stop-color="#fbab3c"/><stop offset="0.063" stop-color="#faa33f"/><stop offset="0.073" stop-color="#f89842"/><stop offset="0.082" stop-color="#f68d45"/><stop offset="0.092" stop-color="#ef834e"/><stop offset="0.101" stop-color="#e6775b"/><stop offset="0.111" stop-color="#d76d68"/><stop offset="0.123" stop-color="#c66676"/><stop offset="0.135" stop-color="#b6617d"/><stop offset="0.147" stop-color="#a85c83"/><stop offset="0.159" stop-color="#9a5888"/><stop offset="0.178" stop-color="#88518d"/><stop offset="0.197" stop-color="#784a91"/><stop offset="0.216" stop-color="#6b4495"/><stop offset="0.235" stop-color="#5f3f98"/><stop offset="0.254" stop-color="#523b9a"/><stop offset="0.278" stop-color="#45379a"/><stop offset="0.302" stop-color="#3b349b"/><stop offset="0.340" stop-color="#2d3291"/><stop offset="0.378" stop-color="#21317f"/><stop offset="0.421" stop-color="#14306d"/><stop offset="0.469" stop-color="#0c2f61"/><stop offset="0.540" stop-color="#0a2c55"/><stop offset="0.636" stop-color="#072948"/><stop offset="0.779" stop-color="#05263d"/><stop offset="0.969" stop-color="#042436"/><stop offset="1.065" stop-color="#032334"/></linearGradient><linearGradient id="g103" gradientUnits="userSpaceOnUse" x1="0" y1="85" x2="0" y2="500"><stop offset="0.015" stop-color="#fab73f"/><stop offset="0.025" stop-color="#fab73f"/><stop offset="0.035" stop-color="#fab63e"/><stop offset="0.044" stop-color="#fbb13d"/><stop offset="0.054" stop-color="#fbab3c"/><stop offset="0.063" stop-color="#faa33f"/><stop offset="0.073" stop-color="#f89842"/><stop offset="0.082" stop-color="#f68d45"/><stop offset="0.092" stop-color="#ef834e"/><stop offset="0.101" stop-color="#e6775b"/><stop offset="0.111" stop-color="#d76d68"/><stop offset="0.123" stop-color="#c66676"/><stop offset="0.135" stop-color="#b6617d"/><stop offset="0.147" stop-color="#a85c83"/><stop offset="0.159" stop-color="#9a5888"/><stop offset="0.178" stop-color="#88518d"/><stop offset="0.197" stop-color="#784a91"/><stop offset="0.216" stop-color="#6b4495"/><stop offset="0.235" stop-color="#5f3f98"/><stop offset="0.254" stop-color="#523b9a"/><stop offset="0.278" stop-color="#45379a"/><stop offset="0.302" stop-color="#3b349b"/><stop offset="0.340" stop-color="#2d3291"/><stop offset="0.378" stop-color="#21317f"/><stop offset="0.421" stop-color="#14306d"/><stop offset="0.469" stop-color="#0c2f61"/><stop offset="0.540" stop-color="#0a2c55"/><stop offset="0.636" stop-color="#072948"/><stop offset="0.779" stop-color="#05263d"/><stop offset="0.969" stop-color="#042436"/><stop offset="1.065" stop-color="#032334"/></linearGradient><linearGradient id="g104" gradientUnits="userSpaceOnUse" x1="0" y1="85" x2="0" y2="500"><stop offset="0.015" stop-color="#fab73f"/><stop offset="0.025" stop-color="#fab73f"/><stop offset="0.035" stop-color="#fab63e"/><stop offset="0.044" stop-color="#fbb13d"/><stop offset="0.054" stop-color="#fbab3c"/><stop offset="0.063" stop-color="#faa33f"/><stop offset="0.073" stop-color="#f89842"/><stop offset="0.082" stop-color="#f68d45"/><stop offset="0.092" stop-color="#ef834e"/><stop offset="0.101" stop-color="#e6775b"/><stop offset="0.111" stop-color="#d76d68"/><stop offset="0.123" stop-color="#c66676"/><stop offset="0.135" stop-color="#b6617d"/><stop offset="0.147" stop-color="#a85c83"/><stop offset="0.159" stop-color="#9a5888"/><stop offset="0.178" stop-color="#88518d"/><stop offset="0.197" stop-color="#784a91"/><stop offset="0.216" stop-color="#6b4495"/><stop offset="0.235" stop-color="#5f3f98"/><stop offset="0.254" stop-color="#523b9a"/><stop offset="0.278" stop-color="#45379a"/><stop offset="0.302" stop-color="#3b349b"/><stop offset="0.340" stop-color="#2d3291"/><stop offset="0.378" stop-color="#21317f"/><stop offset="0.421" stop-color="#14306d"/><stop offset="0.469" stop-color="#0c2f61"/><stop offset="0.540" stop-color="#0a2c55"/><stop offset="0.636" stop-color="#072948"/><stop offset="0.779" stop-color="#05263d"/><stop offset="0.969" stop-color="#042436"/><stop offset="1.065" stop-color="#032334"/></linearGradient><linearGradient id="g105" gradientUnits="userSpaceOnUse" x1="0" y1="85" x2="0" y2="500"><stop offset="0.015" stop-color="#f9b93f"/><stop offset="0.025" stop-color="#f9b93f"/><stop offset="0.035" stop-color="#fab83f"/><stop offset="0.044" stop-color="#fab33d"/><stop offset="0.054" stop-color="#fbad3c"/><stop offset="0.063" stop-color="#faa53e"/><stop offset="0.073" stop-color="#f89941"/><stop offset="0.082" stop-color="#f68e44"/><stop offset="0.092" stop-color="#f0834d"/><stop offset="0.101" stop-color="#e6785a"/><stop offset="0.111" stop-color="#d86e67"/><stop offset="0.123" stop-color="#c66675"/><stop offset="0.135" stop-color="#b7617d"/><stop offset="0.147" stop-color="#a85c83"/><stop offset="0.159" stop-color="#9b5888"/><stop offset="0.178" stop-color="#88518d"/><stop offset="0.197" stop-color="#784a91"/><stop offset="0.216" stop-color="#6b4595"/><stop offset="0.235" stop-color="#5f3f98"/><stop offset="0.254" stop-color="#523b9a"/><stop offset="0.278" stop-color="#45379a"/><stop offset="0.302" stop-color="#3b349b"/><stop offset="0.340" stop-color="#2d3291"/><stop offset="0.378" stop-color="#21317f"/><stop offset="0.421" stop-color="#14306d"/><stop offset="0.469" stop-color="#0c2f61"/><stop offset="0.540" stop-color="#0a2c55"/><stop offset="0.636" stop-color="#072948"/><stop offset="0.779" stop-color="#05263d"/><stop offset="0.969" stop-color="#042436"/><stop offset="1.065" stop-color="#032334"/></linearGradient><linearGradient id="g106" gradientUnits="userSpaceOnUse" x1="0" y1="85" x2="0" y2="500"><stop offset="0.015" stop-color="#f8c041"/><stop offset="0.025" stop-color="#f9bf41"/><stop offset="0.035" stop-color="#f9be40"/><stop offset="0.044" stop-color="#f9b93f"/><stop offset="0.054" stop-color="#fab23d"/><stop offset="0.063" stop-color="#fbaa3d"/><stop offset="0.073" stop-color="#f99e40"/><stop offset="0.082" stop-color="#f79243"/><stop offset="0.092" stop-color="#f2864a"/><stop offset="0.101" stop-color="#e97b57"/><stop offset="0.111" stop-color="#dc6f65"/><stop offset="0.123" stop-color="#c96773"/><stop offset="0.135" stop-color="#b9617c"/><stop offset="0.147" stop-color="#aa5d82"/><stop offset="0.159" stop-color="#9c5887"/><stop offset="0.178" stop-color="#89518c"/><stop offset="0.197" stop-color="#784a91"/><stop offset="0.216" stop-color="#6c4595"/><stop offset="0.235" stop-color="#5f3f98"/><stop offset="0.254" stop-color="#523b9a"/><stop offset="0.278" stop-color="#45379a"/><stop offset="0.302" stop-color="#3b349b"/><stop offset="0.340" stop-color="#2d3291"/><stop offset="0.378" stop-color="#21317f"/><stop offset="0.421" stop-color="#14306d"/><stop offset="0.469" stop-color="#0c2f61"/><stop offset="0.540" stop-color="#0a2c55"/><stop offset="0.636" stop-color="#072948"/><stop offset="0.779" stop-color="#05263d"/><stop offset="0.969" stop-color="#042436"/><stop offset="1.065" stop-color="#032334"/></linearGradient><linearGradient id="g107" gradientUnits="userSpaceOnUse" x1="0" y1="85" x2="0" y2="500"><stop offset="0.015" stop-color="#f8c242"/><stop offset="0.025" stop-color="#f8c141"/><stop offset="0.035" stop-color="#f9c041"/><stop offset="0.044" stop-color="#f9bb40"/><stop offset="0.054" stop-color="#fab43e"/><stop offset="0.063" stop-color="#fbac3c"/><stop offset="0.073" stop-color="#f9a040"/><stop offset="0.082" stop-color="#f79343"/><stop offset="0.092" stop-color="#f3874a"/><stop offset="0.101" stop-color="#e97b56"/><stop offset="0.111" stop-color="#dd6f64"/><stop offset="0.123" stop-color="#ca6872"/><stop offset="0.135" stop-color="#b9627c"/><stop offset="0.147" stop-color="#aa5d82"/><stop offset="0.159" stop-color="#9c5887"/><stop offset="0.178" stop-color="#89518c"/><stop offset="0.197" stop-color="#784a91"/><stop offset="0.216" stop-color="#6c4595"/><stop offset="0.235" stop-color="#5f3f98"/><stop offset="0.254" stop-color="#523b9a"/><stop offset="0.278" stop-color="#45379a"/><stop offset="0.302" stop-color="#3b349b"/><stop offset="0.340" stop-color="#2d3291"/><stop offset="0.378" stop-color="#21317f"/><stop offset="0.421" stop-color="#14306d"/><stop offset="0.469" stop-color="#0c2f61"/><stop offset="0.540" stop-color="#0a2c55"/><stop offset="0.636" stop-color="#072948"/><stop offset="0.779" stop-color="#05263d"/><stop offset="0.969" stop-color="#042436"/><stop offset="1.065" stop-color="#032334"/></linearGradient><linearGradient id="g108" gradientUnits="userSpaceOnUse" x1="0" y1="85" x2="0" y2="500"><stop offset="0.015" stop-color="#f8c242"/><stop offset="0.025" stop-color="#f8c141"/><stop offset="0.035" stop-color="#f9c041"/><stop offset="0.044" stop-color="#f9bb40"/><stop offset="0.054" stop-color="#fab43e"/><stop offset="0.063" stop-color="#fbac3c"/><stop offset="0.073" stop-color="#f9a040"/><stop offset="0.082" stop-color="#f79343"/><stop offset="0.092" stop-color="#f3874a"/><stop offset="0.101" stop-color="#e97b56"/><stop offset="0.111" stop-color="#dd6f64"/><stop offset="0.123" stop-color="#ca6872"/><stop offset="0.135" stop-color="#b9627c"/><stop offset="0.147" stop-color="#aa5d82"/><stop offset="0.159" stop-color="#9c5887"/><stop offset="0.178" stop-color="#89518c"/><stop offset="0.197" stop-color="#784a91"/><stop offset="0.216" stop-color="#6c4595"/><stop offset="0.235" stop-color="#5f3f98"/><stop offset="0.254" stop-color="#523b9a"/><stop offset="0.278" stop-color="#45379a"/><stop offset="0.302" stop-color="#3b349b"/><stop offset="0.340" stop-color="#2d3291"/><stop offset="0.378" stop-color="#21317f"/><stop offset="0.421" stop-color="#14306d"/><stop offset="0.469" stop-color="#0c2f61"/><stop offset="0.540" stop-color="#0a2c55"/><stop offset="0.636" stop-color="#072948"/><stop offset="0.779" stop-color="#05263d"/><stop offset="0.969" stop-color="#042436"/><stop offset="1.065" stop-color="#032334"/></linearGradient><linearGradient id="g109" gradientUnits="userSpaceOnUse" x1="0" y1="85" x2="0" y2="500"><stop offset="0.015" stop-color="#f8c743"/><stop offset="0.025" stop-color="#f8c542"/><stop offset="0.035" stop-color="#f8c342"/><stop offset="0.044" stop-color="#f9be41"/><stop offset="0.054" stop-color="#fab73f"/><stop offset="0.063" stop-color="#fbaf3d"/><stop offset="0.073" stop-color="#f9a23f"/><stop offset="0.082" stop-color="#f79542"/><stop offset="0.092" stop-color="#f48848"/><stop offset="0.101" stop-color="#eb7d54"/><stop offset="0.111" stop-color="#df7063"/><stop offset="0.123" stop-color="#cb6871"/><stop offset="0.135" stop-color="#ba627c"/><stop offset="0.147" stop-color="#ab5d82"/><stop offset="0.159" stop-color="#9d5987"/><stop offset="0.178" stop-color="#8a518c"/><stop offset="0.197" stop-color="#794b91"/><stop offset="0.216" stop-color="#6c4594"/><stop offset="0.235" stop-color="#5f3f98"/><stop offset="0.254" stop-color="#523b9a"/><stop offset="0.278" stop-color="#45379a"/><stop offset="0.302" stop-color="#3b349b"/><stop offset="0.340" stop-color="#2d3291"/><stop offset="0.378" stop-color="#21317f"/><stop offset="0.421" stop-color="#14306d"/><stop offset="0.469" stop-color="#0c2f61"/><stop offset="0.540" stop-color="#0a2c55"/><stop offset="0.636" stop-color="#072948"/><stop offset="0.779" stop-color="#05263d"/><stop offset="0.969" stop-color="#042436"/><stop offset="1.065" stop-color="#032334"/></linearGradient><linearGradient id="g110" gradientUnits="userSpaceOnUse" x1="0" y1="85" x2="0" y2="500"><stop offset="0.015" stop-color="#f6d447"/><stop offset="0.025" stop-color="#f6d045"/><stop offset="0.035" stop-color="#f7cd44"/><stop offset="0.044" stop-color="#f7c943"/><stop offset="0.054" stop-color="#f8c141"/><stop offset="0.063" stop-color="#fab83f"/><stop offset="0.073" stop-color="#fbab3d"/><stop offset="0.082" stop-color="#f99c40"/><stop offset="0.092" stop-color="#f68d44"/><stop offset="0.101" stop-color="#ee814f"/><stop offset="0.111" stop-color="#e4745e"/><stop offset="0.123" stop-color="#d06a6e"/><stop offset="0.135" stop-color="#be637a"/><stop offset="0.147" stop-color="#af5e80"/><stop offset="0.159" stop-color="#a05a86"/><stop offset="0.178" stop-color="#8c528c"/><stop offset="0.197" stop-color="#7a4b90"/><stop offset="0.216" stop-color="#6d4594"/><stop offset="0.235" stop-color="#603f98"/><stop offset="0.254" stop-color="#523b9a"/><stop offset="0.278" stop-color="#45379a"/><stop offset="0.302" stop-color="#3b349b"/><stop offset="0.340" stop-color="#2d3291"/><stop offset="0.378" stop-color="#21317f"/><stop offset="0.421" stop-color="#14306d"/><stop offset="0.469" stop-color="#0c2f61"/><stop offset="0.540" stop-color="#0a2c55"/><stop offset="0.636" stop-color="#072948"/><stop offset="0.779" stop-color="#05263d"/><stop offset="0.969" stop-color="#042436"/><stop offset="1.065" stop-color="#032334"/></linearGradient><linearGradient id="g111" gradientUnits="userSpaceOnUse" x1="0" y1="85" x2="0" y2="500"><stop offset="0.015" stop-color="#f3db4a"/><stop offset="0.025" stop-color="#f5d748"/><stop offset="0.035" stop-color="#f6d246"/><stop offset="0.044" stop-color="#f7ce45"/><stop offset="0.054" stop-color="#f8c643"/><stop offset="0.063" stop-color="#f9bc40"/><stop offset="0.073" stop-color="#fbb03d"/><stop offset="0.082" stop-color="#f9a03f"/><stop offset="0.092" stop-color="#f79044"/><stop offset="0.101" stop-color="#f0844d"/><stop offset="0.111" stop-color="#e6775b"/><stop offset="0.123" stop-color="#d36b6c"/><stop offset="0.135" stop-color="#c06479"/><stop offset="0.147" stop-color="#b05f80"/><stop offset="0.159" stop-color="#a15a86"/><stop offset="0.178" stop-color="#8c528b"/><stop offset="0.197" stop-color="#7a4b90"/><stop offset="0.216" stop-color="#6d4594"/><stop offset="0.235" stop-color="#603f98"/><stop offset="0.254" stop-color="#523b9a"/><stop offset="0.278" stop-color="#45379a"/><stop offset="0.302" stop-color="#3b349b"/><stop offset="0.340" stop-color="#2d3291"/><stop offset="0.378" stop-color="#21317f"/><stop offset="0.421" stop-color="#14306d"/><stop offset="0.469" stop-color="#0c2f61"/><stop offset="0.540" stop-color="#0a2c55"/><stop offset="0.636" stop-color="#072948"/><stop offset="0.779" stop-color="#05263d"/><stop offset="0.969" stop-color="#042436"/><stop offset="1.065" stop-color="#032334"/></linearGradient><linearGradient id="g112" gradientUnits="userSpaceOnUse" x1="0" y1="85" x2="0" y2="500"><stop offset="0.015" stop-color="#efe650"/><stop offset="0.025" stop-color="#f1e04d"/><stop offset="0.035" stop-color="#f3db4a"/><stop offset="0.044" stop-color="#f5d547"/><stop offset="0.054" stop-color="#f7ce45"/><stop offset="0.063" stop-color="#f8c242"/><stop offset="0.073" stop-color="#fab73f"/><stop offset="0.082" stop-color="#faa53e"/><stop offset="0.092" stop-color="#f79443"/><stop offset="0.101" stop-color="#f38749"/><stop offset="0.111" stop-color="#e97b56"/><stop offset="0.123" stop-color="#d76d69"/><stop offset="0.135" stop-color="#c36577"/><stop offset="0.147" stop-color="#b3607f"/><stop offset="0.159" stop-color="#a35b85"/><stop offset="0.178" stop-color="#8e538b"/><stop offset="0.197" stop-color="#7b4c90"/><stop offset="0.216" stop-color="#6d4594"/><stop offset="0.235" stop-color="#603f98"/><stop offset="0.254" stop-color="#523b9a"/><stop offset="0.278" stop-color="#45379a"/><stop offset="0.302" stop-color="#3b349b"/><stop offset="0.340" stop-color="#2d3291"/><stop offset="0.378" stop-color="#21317f"/><stop offset="0.421" stop-color="#14306d"/><stop offset="0.469" stop-color="#0c2f61"/><stop offset="0.540" stop-color="#0a2c55"/><stop offset="0.636" stop-color="#072948"/><stop offset="0.779" stop-color="#05263d"/><stop offset="0.969" stop-color="#042436"/><stop offset="1.065" stop-color="#032334"/></linearGradient><linearGradient id="g113" gradientUnits="userSpaceOnUse" x1="0" y1="85" x2="0" y2="500"><stop offset="0.015" stop-color="#ede951"/><stop offset="0.025" stop-color="#f0e34e"/><stop offset="0.035" stop-color="#f2dd4b"/><stop offset="0.044" stop-color="#f5d748"/><stop offset="0.054" stop-color="#f6d045"/><stop offset="0.063" stop-color="#f8c442"/><stop offset="0.073" stop-color="#fab83f"/><stop offset="0.082" stop-color="#faa73e"/><stop offset="0.092" stop-color="#f89642"/><stop offset="0.101" stop-color="#f48848"/><stop offset="0.111" stop-color="#ea7c55"/><stop offset="0.123" stop-color="#d86d68"/><stop offset="0.135" stop-color="#c46577"/><stop offset="0.147" stop-color="#b4607e"/><stop offset="0.159" stop-color="#a45b85"/><stop offset="0.178" stop-color="#8e538b"/><stop offset="0.197" stop-color="#7b4c90"/><stop offset="0.216" stop-color="#6e4694"/><stop offset="0.235" stop-color="#603f98"/><stop offset="0.254" stop-color="#523b9a"/><stop offset="0.278" stop-color="#45379a"/><stop offset="0.302" stop-color="#3b349b"/><stop offset="0.340" stop-color="#2d3291"/><stop offset="0.378" stop-color="#21317f"/><stop offset="0.421" stop-color="#14306d"/><stop offset="0.469" stop-color="#0c2f61"/><stop offset="0.540" stop-color="#0a2c55"/><stop offset="0.636" stop-color="#072948"/><stop offset="0.779" stop-color="#05263d"/><stop offset="0.969" stop-color="#042436"/><stop offset="1.065" stop-color="#032334"/></linearGradient></defs>
<g><rect x="211.75" y="88.90" width="5.50" height="390.40" rx="2.75" fill="url(#g0)"/><rect x="218.35" y="88.90" width="5.50" height="401.90" rx="2.75" fill="url(#g1)"/><rect x="225.25" y="88.90" width="5.50" height="401.90" rx="2.75" fill="url(#g2)"/><rect x="232.15" y="88.90" width="5.50" height="395.10" rx="2.75" fill="url(#g3)"/><rect x="239.15" y="88.90" width="5.50" height="392.40" rx="2.75" fill="url(#g4)"/><rect x="246.25" y="88.90" width="5.50" height="402.90" rx="2.75" fill="url(#g5)"/><rect x="253.25" y="88.90" width="5.50" height="399.10" rx="2.75" fill="url(#g6)"/><rect x="260.15" y="88.90" width="5.50" height="402.40" rx="2.75" fill="url(#g7)"/><rect x="267.15" y="88.90" width="5.50" height="402.40" rx="2.75" fill="url(#g8)"/><rect x="274.15" y="88.90" width="5.50" height="403.90" rx="2.75" fill="url(#g9)"/><rect x="281.25" y="88.90" width="5.50" height="398.90" rx="2.75" fill="url(#g10)"/><rect x="288.15" y="88.90" width="5.50" height="395.90" rx="2.75" fill="url(#g11)"/><rect x="295.15" y="88.90" width="5.50" height="266.30" rx="2.75" fill="url(#g12)"/><rect x="302.05" y="88.90" width="5.50" height="243.90" rx="2.75" fill="url(#g13)"/><rect x="308.85" y="91.20" width="5.50" height="174.40" rx="2.75" fill="url(#g14)"/><rect x="316.15" y="88.90" width="5.50" height="393.40" rx="2.75" fill="url(#g15)"/><rect x="323.15" y="88.90" width="5.50" height="401.90" rx="2.75" fill="url(#g16)"/><rect x="330.05" y="88.90" width="5.50" height="400.90" rx="2.75" fill="url(#g17)"/><rect x="337.05" y="88.90" width="5.50" height="399.40" rx="2.75" fill="url(#g18)"/><rect x="344.25" y="88.90" width="5.50" height="391.90" rx="2.75" fill="url(#g19)"/><rect x="351.25" y="88.90" width="5.50" height="400.90" rx="2.75" fill="url(#g20)"/><rect x="358.15" y="88.90" width="5.50" height="401.90" rx="2.75" fill="url(#g21)"/><rect x="365.15" y="88.90" width="5.50" height="397.40" rx="2.75" fill="url(#g22)"/><rect x="371.95" y="88.90" width="5.50" height="400.90" rx="2.75" fill="url(#g23)"/><rect x="379.15" y="88.90" width="5.50" height="402.10" rx="2.75" fill="url(#g24)"/><rect x="386.25" y="88.90" width="5.50" height="398.10" rx="2.75" fill="url(#g25)"/><rect x="393.05" y="88.90" width="5.50" height="403.70" rx="2.75" fill="url(#g26)"/><rect x="400.05" y="88.90" width="5.50" height="394.90" rx="2.75" fill="url(#g27)"/><rect x="406.75" y="88.90" width="5.50" height="339.20" rx="2.75" fill="url(#g28)"/><rect x="414.25" y="88.90" width="5.50" height="400.40" rx="2.75" fill="url(#g29)"/><rect x="421.15" y="88.90" width="5.50" height="303.60" rx="2.75" fill="url(#g30)"/><rect x="428.05" y="88.90" width="5.50" height="287.10" rx="2.75" fill="url(#g31)"/><rect x="434.85" y="88.90" width="5.50" height="207.60" rx="2.75" fill="url(#g32)"/><rect x="441.55" y="88.90" width="5.50" height="384.40" rx="2.75" fill="url(#g33)"/><rect x="448.25" y="88.90" width="5.50" height="313.70" rx="2.75" fill="url(#g34)"/><rect x="456.25" y="88.90" width="5.50" height="314.00" rx="2.75" fill="url(#g35)"/><rect x="463.05" y="88.90" width="5.50" height="393.20" rx="2.75" fill="url(#g36)"/><rect x="469.45" y="88.90" width="5.50" height="401.60" rx="2.75" fill="url(#g37)"/><rect x="477.05" y="88.90" width="5.50" height="399.70" rx="2.75" fill="url(#g38)"/><rect x="484.05" y="88.90" width="5.50" height="400.20" rx="2.75" fill="url(#g39)"/><rect x="491.05" y="88.90" width="5.50" height="391.90" rx="2.75" fill="url(#g40)"/><rect x="497.75" y="88.90" width="5.50" height="338.60" rx="2.75" fill="url(#g41)"/><rect x="504.45" y="88.90" width="5.50" height="322.10" rx="2.75" fill="url(#g42)"/><rect x="511.25" y="88.90" width="5.50" height="308.10" rx="2.75" fill="url(#g43)"/><rect x="518.25" y="88.90" width="5.50" height="266.10" rx="2.75" fill="url(#g44)"/><rect x="525.75" y="88.90" width="5.50" height="249.60" rx="2.75" fill="url(#g45)"/><rect x="532.45" y="88.90" width="5.50" height="248.90" rx="2.75" fill="url(#g46)"/><rect x="539.25" y="88.90" width="5.50" height="245.90" rx="2.75" fill="url(#g47)"/><rect x="546.25" y="88.90" width="5.50" height="248.90" rx="2.75" fill="url(#g48)"/><rect x="553.05" y="88.90" width="5.50" height="265.40" rx="2.75" fill="url(#g49)"/><rect x="560.65" y="88.90" width="5.50" height="274.40" rx="2.75" fill="url(#g50)"/><rect x="567.25" y="88.90" width="5.50" height="249.60" rx="2.75" fill="url(#g51)"/><rect x="574.25" y="88.90" width="5.50" height="264.60" rx="2.75" fill="url(#g52)"/><rect x="581.25" y="88.90" width="5.50" height="239.90" rx="2.75" fill="url(#g53)"/><rect x="588.05" y="88.90" width="5.50" height="218.60" rx="2.75" fill="url(#g54)"/><rect x="595.45" y="88.90" width="5.50" height="294.40" rx="2.75" fill="url(#g55)"/><rect x="602.25" y="187.00" width="5.50" height="233.30" rx="2.75" fill="url(#g56)"/><rect x="609.25" y="88.90" width="5.50" height="338.90" rx="2.75" fill="url(#g57)"/><rect x="616.05" y="88.90" width="5.50" height="351.20" rx="2.75" fill="url(#g58)"/><rect x="623.55" y="88.90" width="5.50" height="285.60" rx="2.75" fill="url(#g59)"/><rect x="630.35" y="88.90" width="5.50" height="305.60" rx="2.75" fill="url(#g60)"/><rect x="637.25" y="88.90" width="5.50" height="302.90" rx="2.75" fill="url(#g61)"/><rect x="644.25" y="88.90" width="5.50" height="323.10" rx="2.75" fill="url(#g62)"/><rect x="651.75" y="88.90" width="5.50" height="351.60" rx="2.75" fill="url(#g63)"/><rect x="658.45" y="88.90" width="5.50" height="339.60" rx="2.75" fill="url(#g64)"/><rect x="665.25" y="88.90" width="5.50" height="335.90" rx="2.75" fill="url(#g65)"/><rect x="672.25" y="88.90" width="5.50" height="264.60" rx="2.75" fill="url(#g66)"/><rect x="679.25" y="88.90" width="5.50" height="308.10" rx="2.75" fill="url(#g67)"/><rect x="686.05" y="88.90" width="5.50" height="302.10" rx="2.75" fill="url(#g68)"/><rect x="693.25" y="88.90" width="5.50" height="254.90" rx="2.75" fill="url(#g69)"/><rect x="700.25" y="88.90" width="5.50" height="203.60" rx="2.75" fill="url(#g70)"/><rect x="707.05" y="88.90" width="5.50" height="241.40" rx="2.75" fill="url(#g71)"/><rect x="714.05" y="88.90" width="5.50" height="266.10" rx="2.75" fill="url(#g72)"/><rect x="721.05" y="88.90" width="5.50" height="230.70" rx="2.75" fill="url(#g73)"/><rect x="728.25" y="88.90" width="5.50" height="239.70" rx="2.75" fill="url(#g74)"/><rect x="735.25" y="88.90" width="5.50" height="270.20" rx="2.75" fill="url(#g75)"/><rect x="742.05" y="88.90" width="5.50" height="284.10" rx="2.75" fill="url(#g76)"/><rect x="749.05" y="88.90" width="5.50" height="292.40" rx="2.75" fill="url(#g77)"/><rect x="755.85" y="88.90" width="5.50" height="275.10" rx="2.75" fill="url(#g78)"/><rect x="763.25" y="88.90" width="5.50" height="342.60" rx="2.75" fill="url(#g79)"/><rect x="770.15" y="88.90" width="5.50" height="323.90" rx="2.75" fill="url(#g80)"/><rect x="777.05" y="88.90" width="5.50" height="367.40" rx="2.75" fill="url(#g81)"/><rect x="784.25" y="88.90" width="5.50" height="394.40" rx="2.75" fill="url(#g82)"/><rect x="791.25" y="88.90" width="5.50" height="399.00" rx="2.75" fill="url(#g83)"/><rect x="798.05" y="88.90" width="5.50" height="400.80" rx="2.75" fill="url(#g84)"/><rect x="805.25" y="88.90" width="5.50" height="393.50" rx="2.75" fill="url(#g85)"/><rect x="812.25" y="88.90" width="5.50" height="399.30" rx="2.75" fill="url(#g86)"/><rect x="819.25" y="88.90" width="5.50" height="390.90" rx="2.75" fill="url(#g87)"/><rect x="826.15" y="88.90" width="5.50" height="402.00" rx="2.75" fill="url(#g88)"/><rect x="833.05" y="88.90" width="5.50" height="392.70" rx="2.75" fill="url(#g89)"/><rect x="840.05" y="88.90" width="5.50" height="399.70" rx="2.75" fill="url(#g90)"/><rect x="847.25" y="88.90" width="5.50" height="392.70" rx="2.75" fill="url(#g91)"/><rect x="854.25" y="88.90" width="5.50" height="391.10" rx="2.75" fill="url(#g92)"/><rect x="861.25" y="88.90" width="5.50" height="391.80" rx="2.75" fill="url(#g93)"/><rect x="868.05" y="88.90" width="5.50" height="391.80" rx="2.75" fill="url(#g94)"/><rect x="874.75" y="88.90" width="5.50" height="403.20" rx="2.75" fill="url(#g95)"/><rect x="882.15" y="88.90" width="5.50" height="400.80" rx="2.75" fill="url(#g96)"/><rect x="889.05" y="88.90" width="5.50" height="402.30" rx="2.75" fill="url(#g97)"/><rect x="896.05" y="88.90" width="5.50" height="402.30" rx="2.75" fill="url(#g98)"/><rect x="903.05" y="88.90" width="5.50" height="395.70" rx="2.75" fill="url(#g99)"/><rect x="909.75" y="88.90" width="5.50" height="402.30" rx="2.75" fill="url(#g100)"/><rect x="917.15" y="88.90" width="5.50" height="392.30" rx="2.75" fill="url(#g101)"/><rect x="924.15" y="88.90" width="5.50" height="399.50" rx="2.75" fill="url(#g102)"/><rect x="931.05" y="88.90" width="5.50" height="401.20" rx="2.75" fill="url(#g103)"/><rect x="937.85" y="88.90" width="5.50" height="393.20" rx="2.75" fill="url(#g104)"/><rect x="944.65" y="88.90" width="5.50" height="391.80" rx="2.75" fill="url(#g105)"/><rect x="952.15" y="88.90" width="5.50" height="399.70" rx="2.75" fill="url(#g106)"/><rect x="959.15" y="88.90" width="5.50" height="400.80" rx="2.75" fill="url(#g107)"/><rect x="966.05" y="88.90" width="5.50" height="393.80" rx="2.75" fill="url(#g108)"/><rect x="972.75" y="88.90" width="5.50" height="400.20" rx="2.75" fill="url(#g109)"/><rect x="980.15" y="88.90" width="5.50" height="403.70" rx="2.75" fill="url(#g110)"/><rect x="987.05" y="91.00" width="5.50" height="399.90" rx="2.75" fill="url(#g111)"/><rect x="994.05" y="88.90" width="5.50" height="395.00" rx="2.75" fill="url(#g112)"/><rect x="1000.85" y="88.90" width="5.50" height="391.50" rx="2.75" fill="url(#g113)"/></g>
<defs><linearGradient id="cb" x1="0" y1="0" x2="0" y2="1"><stop offset="0.000" stop-color="#e7fa5a"/><stop offset="0.020" stop-color="#eaf156"/><stop offset="0.040" stop-color="#eee951"/><stop offset="0.060" stop-color="#f1e04d"/><stop offset="0.080" stop-color="#f4d848"/><stop offset="0.100" stop-color="#f6cf45"/><stop offset="0.120" stop-color="#f8c743"/><stop offset="0.140" stop-color="#f9be41"/><stop offset="0.160" stop-color="#fab63e"/><stop offset="0.180" stop-color="#fbae3c"/><stop offset="0.200" stop-color="#faa63e"/><stop offset="0.220" stop-color="#f99f40"/><stop offset="0.240" stop-color="#f89742"/><stop offset="0.260" stop-color="#f79044"/><stop offset="0.280" stop-color="#f48947"/><stop offset="0.300" stop-color="#f0834d"/><stop offset="0.320" stop-color="#eb7d54"/><stop offset="0.340" stop-color="#e6785a"/><stop offset="0.360" stop-color="#e27260"/><stop offset="0.380" stop-color="#db6f65"/><stop offset="0.400" stop-color="#d46c6b"/><stop offset="0.420" stop-color="#cd6970"/><stop offset="0.440" stop-color="#c66675"/><stop offset="0.460" stop-color="#bf637a"/><stop offset="0.480" stop-color="#b7617d"/><stop offset="0.500" stop-color="#b05e80"/><stop offset="0.520" stop-color="#a85c83"/><stop offset="0.540" stop-color="#a05a86"/><stop offset="0.560" stop-color="#995788"/><stop offset="0.580" stop-color="#92548a"/><stop offset="0.600" stop-color="#8b528c"/><stop offset="0.620" stop-color="#844f8e"/><stop offset="0.640" stop-color="#7d4c8f"/><stop offset="0.660" stop-color="#754992"/><stop offset="0.680" stop-color="#6e4694"/><stop offset="0.700" stop-color="#674296"/><stop offset="0.720" stop-color="#603f98"/><stop offset="0.740" stop-color="#573c99"/><stop offset="0.760" stop-color="#4f3a9a"/><stop offset="0.780" stop-color="#46379a"/><stop offset="0.800" stop-color="#3d349b"/><stop offset="0.820" stop-color="#34329a"/><stop offset="0.840" stop-color="#2b328e"/><stop offset="0.860" stop-color="#233182"/><stop offset="0.880" stop-color="#1a3176"/><stop offset="0.900" stop-color="#11306a"/><stop offset="0.920" stop-color="#0c2e5e"/><stop offset="0.940" stop-color="#0a2c53"/><stop offset="0.960" stop-color="#072949"/><stop offset="0.980" stop-color="#05263e"/><stop offset="1.000" stop-color="#032333"/></linearGradient></defs>
<rect x="1097.5" y="72.5" width="22" height="438" fill="url(#cb)" stroke="#000" stroke-width="1.1"/>
<rect x="175.5" y="72.5" width="868" height="438" fill="none" stroke="#000" stroke-width="1.1"/>
<line x1="170.2" y1="91.5" x2="175" y2="91.5" stroke="#000" stroke-width="1.1"/>
<text x="157.40" y="96.65" font-size="13.80" letter-spacing="1.45">0</text>
<line x1="170.2" y1="141.5" x2="175" y2="141.5" stroke="#000" stroke-width="1.1"/>
<text x="129.65" y="146.65" font-size="13.80" letter-spacing="1.45">−250</text>
<line x1="170.2" y1="190.5" x2="175" y2="190.5" stroke="#000" stroke-width="1.1"/>
<text x="129.65" y="195.65" font-size="13.80" letter-spacing="1.45">−500</text>
<line x1="170.2" y1="240.5" x2="175" y2="240.5" stroke="#000" stroke-width="1.1"/>
<text x="129.65" y="245.65" font-size="13.80" letter-spacing="1.45">−750</text>
<line x1="170.2" y1="289.5" x2="175" y2="289.5" stroke="#000" stroke-width="1.1"/>
<text x="120.40" y="294.65" font-size="13.80" letter-spacing="1.45">−1000</text>
<line x1="170.2" y1="339.5" x2="175" y2="339.5" stroke="#000" stroke-width="1.1"/>
<text x="120.40" y="344.65" font-size="13.80" letter-spacing="1.45">−1250</text>
<line x1="170.2" y1="388.5" x2="175" y2="388.5" stroke="#000" stroke-width="1.1"/>
<text x="120.40" y="393.65" font-size="13.80" letter-spacing="1.45">−1500</text>
<line x1="170.2" y1="438.5" x2="175" y2="438.5" stroke="#000" stroke-width="1.1"/>
<text x="120.40" y="443.65" font-size="13.80" letter-spacing="1.45">−1750</text>
<line x1="170.2" y1="487.5" x2="175" y2="487.5" stroke="#000" stroke-width="1.1"/>
<text x="120.40" y="492.65" font-size="13.80" letter-spacing="1.45">−2000</text>
<line x1="252.5" y1="511" x2="252.5" y2="515.6" stroke="#000" stroke-width="1.1"/>
<text transform="translate(237.25,558.60) rotate(-45) scale(1.07,1)" font-size="8.6">2022/09/01</text>
<line x1="335.5" y1="511" x2="335.5" y2="515.6" stroke="#000" stroke-width="1.1"/>
<text transform="translate(320.74,558.60) rotate(-45) scale(1.07,1)" font-size="8.6">2023/01/01</text>
<line x1="417.5" y1="511" x2="417.5" y2="515.6" stroke="#000" stroke-width="1.1"/>
<text transform="translate(402.85,558.60) rotate(-45) scale(1.07,1)" font-size="8.6">2023/05/01</text>
<line x1="502.5" y1="511" x2="502.5" y2="515.6" stroke="#000" stroke-width="1.1"/>
<text transform="translate(487.02,558.60) rotate(-45) scale(1.07,1)" font-size="8.6">2023/09/01</text>
<line x1="585.5" y1="511" x2="585.5" y2="515.6" stroke="#000" stroke-width="1.1"/>
<text transform="translate(570.51,558.60) rotate(-45) scale(1.07,1)" font-size="8.6">2024/01/01</text>
<line x1="668.5" y1="511" x2="668.5" y2="515.6" stroke="#000" stroke-width="1.1"/>
<text transform="translate(653.31,558.60) rotate(-45) scale(1.07,1)" font-size="8.6">2024/05/01</text>
<line x1="752.5" y1="511" x2="752.5" y2="515.6" stroke="#000" stroke-width="1.1"/>
<text transform="translate(737.48,558.60) rotate(-45) scale(1.07,1)" font-size="8.6">2024/09/01</text>
<line x1="836.5" y1="511" x2="836.5" y2="515.6" stroke="#000" stroke-width="1.1"/>
<text transform="translate(820.97,558.60) rotate(-45) scale(1.07,1)" font-size="8.6">2025/01/01</text>
<line x1="918.5" y1="511" x2="918.5" y2="515.6" stroke="#000" stroke-width="1.1"/>
<text transform="translate(903.08,558.60) rotate(-45) scale(1.07,1)" font-size="8.6">2025/05/01</text>
<line x1="1002.5" y1="511" x2="1002.5" y2="515.6" stroke="#000" stroke-width="1.1"/>
<text transform="translate(987.25,558.60) rotate(-45) scale(1.07,1)" font-size="8.6">2025/09/01</text>
<line x1="1120" y1="484.5" x2="1124.8" y2="484.5" stroke="#000" stroke-width="1.1"/>
<text x="1128.95" y="489.75" font-size="13.8" letter-spacing="1.45">5</text>
<line x1="1120" y1="404.5" x2="1124.8" y2="404.5" stroke="#000" stroke-width="1.1"/>
<text x="1128.95" y="409.75" font-size="13.8" letter-spacing="1.45">10</text>
<line x1="1120" y1="325.5" x2="1124.8" y2="325.5" stroke="#000" stroke-width="1.1"/>
<text x="1128.95" y="330.75" font-size="13.8" letter-spacing="1.45">15</text>
<line x1="1120" y1="245.5" x2="1124.8" y2="245.5" stroke="#000" stroke-width="1.1"/>
<text x="1128.95" y="250.75" font-size="13.8" letter-spacing="1.45">20</text>
<line x1="1120" y1="165.5" x2="1124.8" y2="165.5" stroke="#000" stroke-width="1.1"/>
<text x="1128.95" y="170.75" font-size="13.8" letter-spacing="1.45">25</text>
<line x1="1120" y1="86.5" x2="1124.8" y2="86.5" stroke="#000" stroke-width="1.1"/>
<text x="1128.95" y="91.75" font-size="13.8" letter-spacing="1.45">30</text>
<text transform="translate(524.2,40) scale(0.9886,1)" font-size="18">ARGO float</text>
<text transform="translate(620.5,40) scale(1.095,1)" font-size="18">6903111</text>
<text transform="translate(508.94,63.9) scale(1.059,1)" font-size="18">Water</text>
<text transform="translate(563.2,63.9) scale(1.080,1)" font-size="18">Temperature</text>
<text x="678.2" y="62.5" font-size="17.4">(</text>
<text transform="translate(683.15,56.75) skewX(-13)" font-size="12.5">o</text>
<text transform="translate(690.7,63.5) skewX(-13) scale(0.88,1)" font-size="17.6">C</text>
<text x="704.45" y="62.5" font-size="17.4">)</text>
<text transform="translate(109.2,328.8) rotate(-90) scale(1.139,1)" font-size="14.4">Depth</text>
<text transform="translate(109.2,281.6) rotate(-90) scale(1.18,1)" font-size="14.4">(m)</text>
<text transform="translate(589.4,578.9) scale(1.05,1)" font-size="17.8">Date</text>
<g transform="translate(1163.7,291.6) rotate(-90)"><text x="-12.75" y="0" font-size="13.8">(</text><text transform="translate(-8.4,-5.1) skewX(-13)" font-size="9.6">o</text><text transform="translate(-2.4,0) skewX(-13) scale(0.9,1)" font-size="13.8">C</text><text x="8.25" y="0" font-size="13.8">)</text></g>
</svg></body></html>
